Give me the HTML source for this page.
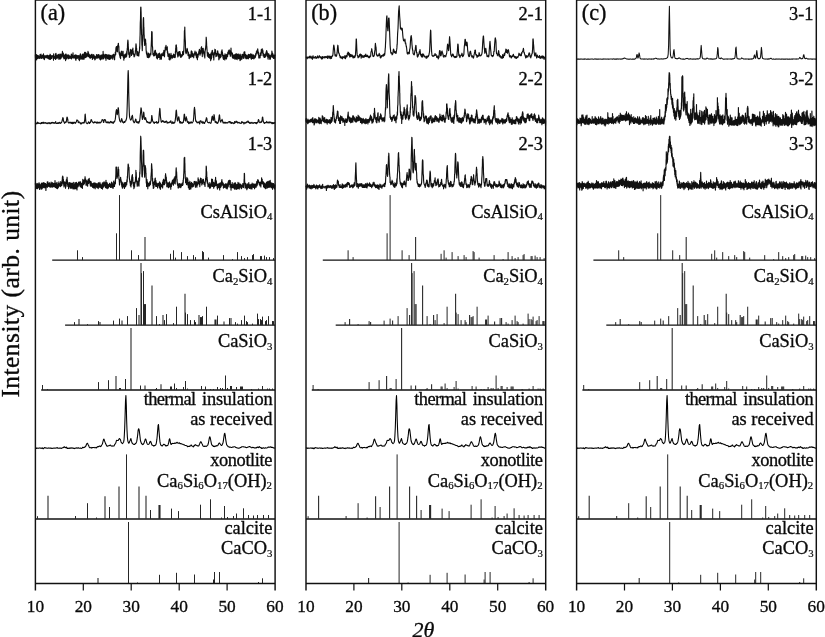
<!DOCTYPE html>
<html lang="en">
<head>
<meta charset="utf-8">
<title>XRD patterns</title>
<style>html,body{margin:0;padding:0;background:#fff;overflow:hidden}svg{display:block}text{stroke:#0a0a0a;stroke-width:.32px}</style>
</head>
<body>
<svg width="825" height="637" viewBox="0 0 825 637" font-family="'Liberation Serif', 'Times New Roman', serif" fill="#0a0a0a">
<rect width="825" height="637" fill="#fff"/>
<g transform="translate(35.4,0)">
<polyline points="0.0,54.7 0.1,57.7 0.2,57.6 0.4,58.3 0.5,55.7 0.6,60.0 0.7,54.5 0.8,57.9 1.0,56.5 1.1,57.2 1.2,54.9 1.3,59.7 1.4,57.3 1.6,57.4 1.7,55.4 1.8,58.4 1.9,57.1 2.0,58.1 2.2,56.8 2.3,56.1 2.4,58.4 2.5,55.3 2.6,55.7 2.8,56.2 2.9,55.7 3.0,57.8 3.1,57.1 3.2,58.2 3.4,57.3 3.5,56.2 3.6,57.8 3.7,57.4 3.8,57.8 4.0,58.0 4.1,57.8 4.2,56.9 4.3,58.4 4.4,56.6 4.6,54.6 4.7,55.9 4.8,57.2 4.9,58.1 5.0,57.9 5.2,54.6 5.3,56.8 5.4,57.8 5.5,56.6 5.6,54.0 5.8,56.7 5.9,56.1 6.0,56.5 6.1,57.4 6.2,58.4 6.3,57.4 6.5,57.2 6.6,56.1 6.7,55.8 6.8,55.6 6.9,56.5 7.1,55.7 7.2,57.9 7.3,55.2 7.4,56.2 7.5,57.3 7.7,56.2 7.8,57.0 7.9,55.4 8.0,54.8 8.1,53.9 8.3,58.8 8.4,58.8 8.5,57.6 8.6,56.7 8.7,55.7 8.9,56.5 9.0,59.6 9.1,57.3 9.2,55.8 9.3,56.6 9.5,55.9 9.6,57.2 9.7,57.2 9.8,56.6 9.9,56.3 10.1,56.6 10.2,56.7 10.3,57.8 10.4,56.4 10.5,56.7 10.7,55.4 10.8,55.3 10.9,56.6 11.0,57.4 11.1,57.8 11.3,56.3 11.4,56.8 11.5,57.4 11.6,56.8 11.7,57.7 11.9,55.9 12.0,57.5 12.1,55.2 12.2,56.3 12.3,56.1 12.5,58.4 12.6,56.7 12.7,55.9 12.8,58.2 12.9,57.3 13.1,56.8 13.2,58.8 13.3,56.5 13.4,55.7 13.5,58.1 13.7,56.4 13.8,58.7 13.9,56.9 14.0,59.1 14.1,55.4 14.3,56.3 14.4,56.9 14.5,57.9 14.6,55.2 14.7,54.2 14.9,59.4 15.0,55.2 15.1,54.7 15.2,56.4 15.3,58.5 15.5,55.7 15.6,57.1 15.7,57.7 15.8,58.6 15.9,56.1 16.1,55.8 16.2,57.7 16.3,56.2 16.4,58.4 16.5,55.8 16.7,56.8 16.8,57.1 16.9,57.0 17.0,55.7 17.1,55.9 17.3,56.2 17.4,56.7 17.5,56.8 17.6,56.0 17.7,56.6 17.9,56.0 18.0,57.3 18.1,60.2 18.2,55.5 18.3,53.9 18.4,56.3 18.6,57.0 18.7,57.1 18.8,57.0 18.9,56.9 19.0,58.4 19.2,57.6 19.3,58.2 19.4,56.5 19.5,57.3 19.6,56.2 19.8,57.1 19.9,55.5 20.0,56.6 20.1,53.9 20.2,59.5 20.4,57.8 20.5,55.7 20.6,53.4 20.7,57.2 20.8,56.8 21.0,57.2 21.1,55.1 21.2,57.3 21.3,56.0 21.4,57.3 21.6,58.6 21.7,56.4 21.8,56.2 21.9,55.1 22.0,57.0 22.2,57.7 22.3,56.1 22.4,56.5 22.5,56.5 22.6,57.0 22.8,55.3 22.9,56.4 23.0,54.3 23.1,55.3 23.2,56.0 23.4,59.1 23.5,56.0 23.6,56.3 23.7,55.7 23.8,55.4 24.0,57.4 24.1,55.7 24.2,57.6 24.3,54.2 24.4,58.6 24.6,59.2 24.7,59.1 24.8,58.0 24.9,58.3 25.0,54.1 25.2,57.2 25.3,58.6 25.4,55.2 25.5,57.5 25.6,58.4 25.8,55.5 25.9,55.8 26.0,57.2 26.1,54.5 26.2,56.2 26.4,54.0 26.5,55.3 26.6,53.6 26.7,55.4 26.8,57.0 27.0,51.4 27.1,55.4 27.2,54.7 27.3,55.4 27.4,54.8 27.6,54.3 27.7,54.6 27.8,54.3 27.9,53.0 28.0,56.0 28.2,57.8 28.3,57.9 28.4,57.3 28.5,58.8 28.6,55.4 28.8,57.3 28.9,57.1 29.0,56.7 29.1,58.7 29.2,57.9 29.4,55.8 29.5,55.9 29.6,57.4 29.7,54.3 29.8,58.6 30.0,57.3 30.1,57.1 30.2,60.6 30.3,54.2 30.4,56.3 30.5,58.3 30.7,54.0 30.8,56.0 30.9,56.3 31.0,57.7 31.1,56.7 31.3,58.9 31.4,55.8 31.5,57.4 31.6,56.7 31.7,55.2 31.9,56.5 32.0,56.5 32.1,56.5 32.2,57.9 32.3,55.7 32.5,54.8 32.6,55.8 32.7,55.7 32.8,58.1 32.9,58.0 33.1,58.8 33.2,55.2 33.3,57.2 33.4,55.0 33.5,57.9 33.7,57.5 33.8,56.7 33.9,55.6 34.0,56.8 34.1,56.6 34.3,56.9 34.4,56.6 34.5,58.4 34.6,56.8 34.7,57.1 34.9,57.0 35.0,56.2 35.1,57.8 35.2,57.0 35.3,57.3 35.5,56.3 35.6,55.8 35.7,58.2 35.8,56.1 35.9,54.1 36.1,58.9 36.2,58.0 36.3,58.1 36.4,57.3 36.5,54.7 36.7,56.9 36.8,57.8 36.9,56.0 37.0,57.7 37.1,55.3 37.3,56.5 37.4,55.0 37.5,57.8 37.6,52.8 37.7,55.8 37.9,56.0 38.0,56.9 38.1,57.9 38.2,58.1 38.3,57.1 38.5,58.0 38.6,56.5 38.7,58.0 38.8,56.0 38.9,55.6 39.1,57.8 39.2,55.3 39.3,57.2 39.4,55.3 39.5,56.3 39.7,55.3 39.8,58.2 39.9,57.0 40.0,54.9 40.1,57.7 40.3,59.6 40.4,59.5 40.5,60.3 40.6,59.7 40.7,57.4 40.9,55.1 41.0,57.5 41.1,56.4 41.2,57.0 41.3,56.9 41.5,57.1 41.6,57.1 41.7,56.2 41.8,58.5 41.9,55.5 42.0,55.6 42.2,57.1 42.3,55.8 42.4,57.8 42.5,57.6 42.6,56.7 42.8,57.1 42.9,57.5 43.0,57.8 43.1,57.6 43.2,55.6 43.4,59.5 43.5,56.4 43.6,57.2 43.7,55.9 43.8,56.2 44.0,60.6 44.1,56.1 44.2,56.4 44.3,56.8 44.4,57.5 44.6,55.7 44.7,57.4 44.8,54.3 44.9,56.1 45.0,53.9 45.2,57.9 45.3,59.2 45.4,55.9 45.5,55.7 45.6,56.8 45.8,58.9 45.9,57.4 46.0,56.0 46.1,57.1 46.2,57.0 46.4,57.1 46.5,58.1 46.6,57.5 46.7,58.8 46.8,54.4 47.0,57.4 47.1,56.1 47.2,58.2 47.3,55.7 47.4,59.3 47.6,55.5 47.7,56.8 47.8,53.8 47.9,58.5 48.0,56.6 48.2,56.1 48.3,54.9 48.4,57.1 48.5,56.3 48.6,59.3 48.8,57.4 48.9,55.4 49.0,54.3 49.1,55.9 49.2,52.3 49.4,52.3 49.5,54.6 49.6,57.6 49.7,56.5 49.8,54.9 50.0,52.3 50.1,53.7 50.2,57.4 50.3,55.1 50.4,52.8 50.6,56.0 50.7,56.8 50.8,53.0 50.9,56.0 51.0,56.9 51.2,55.8 51.3,56.3 51.4,56.9 51.5,54.5 51.6,54.5 51.8,54.7 51.9,55.9 52.0,53.8 52.1,55.2 52.2,54.1 52.4,52.9 52.5,52.9 52.6,51.3 52.7,53.2 52.8,56.3 53.0,55.8 53.1,52.5 53.2,55.3 53.3,54.6 53.4,56.7 53.6,54.4 53.7,56.6 53.8,54.2 53.9,57.1 54.0,54.9 54.1,55.6 54.3,57.6 54.4,55.1 54.5,57.9 54.6,57.8 54.7,55.7 54.9,57.6 55.0,57.6 55.1,57.2 55.2,58.1 55.3,55.3 55.5,55.9 55.6,56.9 55.7,56.9 55.8,56.2 55.9,54.4 56.1,55.6 56.2,57.5 56.3,55.7 56.4,57.0 56.5,57.1 56.7,54.3 56.8,57.4 56.9,57.5 57.0,59.5 57.1,58.7 57.3,56.2 57.4,57.8 57.5,56.1 57.6,58.4 57.7,57.9 57.9,55.9 58.0,54.8 58.1,56.0 58.2,55.2 58.3,54.5 58.5,55.4 58.6,58.1 58.7,57.0 58.8,56.0 58.9,57.4 59.1,56.2 59.2,59.0 59.3,58.0 59.4,56.1 59.5,59.9 59.7,58.4 59.8,56.9 59.9,59.2 60.0,56.8 60.1,57.9 60.3,57.2 60.4,57.2 60.5,56.6 60.6,57.6 60.7,56.7 60.9,57.7 61.0,56.1 61.1,54.5 61.2,56.6 61.3,56.6 61.5,58.4 61.6,55.9 61.7,57.9 61.8,58.0 61.9,56.1 62.1,56.6 62.2,55.3 62.3,54.9 62.4,57.6 62.5,56.7 62.7,54.5 62.8,55.5 62.9,55.9 63.0,55.1 63.1,57.7 63.3,56.0 63.4,54.9 63.5,54.6 63.6,57.9 63.7,57.2 63.9,56.3 64.0,57.2 64.1,57.4 64.2,55.9 64.3,57.3 64.5,59.3 64.6,56.4 64.7,57.4 64.8,57.8 64.9,59.0 65.1,55.5 65.2,59.9 65.3,59.2 65.4,57.2 65.5,55.2 65.7,55.1 65.8,58.4 65.9,57.1 66.0,58.9 66.1,55.5 66.2,58.9 66.4,57.0 66.5,55.4 66.6,57.1 66.7,54.8 66.8,58.0 67.0,56.3 67.1,55.7 67.2,57.0 67.3,54.9 67.4,56.1 67.6,59.1 67.7,51.4 67.8,56.0 67.9,56.7 68.0,58.7 68.2,56.7 68.3,57.5 68.4,56.0 68.5,56.3 68.6,54.3 68.8,56.6 68.9,56.1 69.0,56.3 69.1,57.0 69.2,57.1 69.4,55.3 69.5,55.8 69.6,57.7 69.7,58.3 69.8,56.9 70.0,55.2 70.1,56.9 70.2,54.4 70.3,57.9 70.4,56.6 70.6,60.3 70.7,57.6 70.8,57.2 70.9,56.1 71.0,54.5 71.2,56.8 71.3,54.8 71.4,55.9 71.5,55.5 71.6,57.4 71.8,54.9 71.9,58.3 72.0,56.1 72.1,58.1 72.2,57.5 72.4,58.8 72.5,57.5 72.6,56.3 72.7,56.9 72.8,58.6 73.0,54.8 73.1,56.3 73.2,55.4 73.3,55.7 73.4,57.7 73.6,59.4 73.7,58.0 73.8,55.1 73.9,58.2 74.0,55.6 74.2,57.6 74.3,56.2 74.4,59.3 74.5,55.1 74.6,56.8 74.8,55.5 74.9,56.5 75.0,55.6 75.1,56.9 75.2,55.7 75.4,58.8 75.5,58.2 75.6,55.7 75.7,56.8 75.8,57.0 76.0,56.9 76.1,56.0 76.2,57.5 76.3,56.0 76.4,57.9 76.6,57.2 76.7,55.3 76.8,55.1 76.9,58.1 77.0,55.4 77.2,58.0 77.3,55.6 77.4,59.2 77.5,58.1 77.6,57.2 77.8,56.7 77.9,54.5 78.0,55.2 78.1,54.2 78.2,54.7 78.3,56.7 78.5,56.7 78.6,54.8 78.7,56.2 78.8,56.4 78.9,57.9 79.1,56.1 79.2,59.8 79.3,56.4 79.4,56.9 79.5,54.3 79.7,55.6 79.8,55.0 79.9,52.0 80.0,54.8 80.1,52.1 80.3,54.5 80.4,50.6 80.5,49.1 80.6,47.5 80.7,49.3 80.9,46.9 81.0,46.6 81.1,47.2 81.2,47.4 81.3,47.5 81.5,48.3 81.6,51.0 81.7,51.7 81.8,46.4 81.9,47.2 82.1,51.8 82.2,48.3 82.3,47.1 82.4,45.6 82.5,45.2 82.7,45.7 82.8,43.6 82.9,43.8 83.0,43.3 83.1,45.0 83.3,46.2 83.4,46.1 83.5,47.4 83.6,52.4 83.7,52.6 83.9,54.1 84.0,51.9 84.1,54.4 84.2,52.7 84.3,55.7 84.5,55.2 84.6,57.3 84.7,53.6 84.8,56.0 84.9,57.6 85.1,56.3 85.2,58.6 85.3,55.2 85.4,54.7 85.5,54.1 85.7,51.9 85.8,54.1 85.9,52.0 86.0,52.3 86.1,52.8 86.3,55.5 86.4,51.1 86.5,53.6 86.6,53.3 86.7,55.6 86.9,53.9 87.0,54.6 87.1,55.1 87.2,55.6 87.3,54.2 87.5,54.5 87.6,55.0 87.7,51.4 87.8,57.0 87.9,56.7 88.1,57.7 88.2,55.7 88.3,57.2 88.4,60.1 88.5,58.0 88.7,56.2 88.8,54.9 88.9,58.5 89.0,57.2 89.1,56.5 89.3,57.3 89.4,55.5 89.5,56.2 89.6,55.8 89.7,57.2 89.9,54.0 90.0,56.1 90.1,54.3 90.2,56.7 90.3,55.2 90.4,56.9 90.6,57.2 90.7,56.7 90.8,55.6 90.9,55.7 91.0,52.9 91.2,56.4 91.3,55.8 91.4,51.0 91.5,51.7 91.6,54.2 91.8,49.3 91.9,48.0 92.0,49.9 92.1,45.3 92.2,43.2 92.4,40.8 92.5,40.0 92.6,41.8 92.7,41.5 92.8,44.9 93.0,47.8 93.1,49.7 93.2,49.1 93.3,54.2 93.4,51.4 93.6,54.8 93.7,54.4 93.8,53.6 93.9,52.8 94.0,57.5 94.2,55.9 94.3,54.6 94.4,55.3 94.5,52.9 94.6,56.7 94.8,52.7 94.9,52.0 95.0,52.0 95.1,49.9 95.2,53.0 95.4,49.4 95.5,52.2 95.6,50.4 95.7,52.5 95.8,51.3 96.0,51.9 96.1,55.5 96.2,53.8 96.3,53.8 96.4,54.0 96.6,54.5 96.7,50.3 96.8,52.2 96.9,49.7 97.0,52.4 97.2,52.8 97.3,50.9 97.4,52.1 97.5,48.1 97.6,51.8 97.8,51.1 97.9,53.7 98.0,54.4 98.1,54.4 98.2,54.3 98.4,53.8 98.5,55.4 98.6,56.4 98.7,57.0 98.8,55.6 99.0,54.7 99.1,54.8 99.2,55.4 99.3,56.2 99.4,54.9 99.6,54.0 99.7,54.4 99.8,53.6 99.9,53.1 100.0,50.4 100.2,51.1 100.3,48.7 100.4,47.0 100.5,45.4 100.6,43.8 100.8,45.4 100.9,46.6 101.0,51.1 101.1,49.4 101.2,48.2 101.4,53.9 101.5,55.0 101.6,54.4 101.7,53.0 101.8,54.0 101.9,55.6 102.1,55.0 102.2,53.5 102.3,54.0 102.4,51.5 102.5,53.5 102.7,54.4 102.8,53.9 102.9,55.2 103.0,55.9 103.1,54.1 103.3,53.5 103.4,56.0 103.5,54.4 103.6,53.8 103.7,52.4 103.9,52.6 104.0,50.6 104.1,49.9 104.2,46.8 104.3,48.8 104.5,40.7 104.6,37.3 104.7,34.9 104.8,28.7 104.9,22.9 105.1,19.3 105.2,12.5 105.3,7.6 105.4,7.0 105.5,7.0 105.7,12.3 105.8,17.4 105.9,24.4 106.0,29.3 106.1,34.5 106.3,35.2 106.4,40.9 106.5,45.2 106.6,44.6 106.7,46.2 106.9,50.6 107.0,44.3 107.1,45.9 107.2,40.3 107.3,39.7 107.5,36.8 107.6,29.5 107.7,28.6 107.8,23.1 107.9,19.2 108.1,17.6 108.2,18.4 108.3,22.4 108.4,27.5 108.5,27.2 108.7,35.3 108.8,34.9 108.9,41.2 109.0,40.6 109.1,41.8 109.3,45.4 109.4,42.9 109.5,41.4 109.6,40.3 109.7,40.6 109.9,39.0 110.0,40.0 110.1,41.9 110.2,39.8 110.3,44.0 110.5,43.0 110.6,46.1 110.7,50.1 110.8,50.5 110.9,51.9 111.1,53.8 111.2,52.5 111.3,54.5 111.4,51.9 111.5,53.3 111.7,56.1 111.8,55.0 111.9,55.4 112.0,57.5 112.1,54.0 112.3,54.1 112.4,54.2 112.5,56.2 112.6,54.1 112.7,55.9 112.9,54.3 113.0,53.1 113.1,55.5 113.2,57.7 113.3,56.2 113.5,54.8 113.6,54.0 113.7,57.3 113.8,56.0 113.9,55.4 114.0,55.0 114.2,54.3 114.3,56.9 114.4,56.1 114.5,54.0 114.6,54.7 114.8,54.5 114.9,53.3 115.0,54.6 115.1,53.6 115.2,54.3 115.4,55.0 115.5,53.8 115.6,50.1 115.7,48.3 115.8,46.1 116.0,41.2 116.1,39.3 116.2,34.1 116.3,31.5 116.4,31.8 116.6,35.3 116.7,31.9 116.8,37.4 116.9,45.9 117.0,45.8 117.2,47.4 117.3,50.5 117.4,51.0 117.5,54.4 117.6,53.5 117.8,54.4 117.9,54.9 118.0,55.2 118.1,54.7 118.2,53.7 118.4,55.9 118.5,55.6 118.6,54.7 118.7,54.9 118.8,53.9 119.0,53.0 119.1,51.7 119.2,53.1 119.3,55.6 119.4,51.7 119.6,50.4 119.7,50.8 119.8,50.6 119.9,54.2 120.0,50.3 120.2,52.2 120.3,54.7 120.4,54.5 120.5,55.1 120.6,53.5 120.8,54.1 120.9,53.1 121.0,54.6 121.1,57.7 121.2,57.9 121.4,54.5 121.5,53.9 121.6,56.5 121.7,55.5 121.8,58.4 122.0,59.0 122.1,58.0 122.2,56.9 122.3,57.1 122.4,56.7 122.6,57.1 122.7,55.5 122.8,54.5 122.9,56.4 123.0,53.7 123.2,57.4 123.3,57.2 123.4,56.0 123.5,57.0 123.6,54.9 123.8,57.4 123.9,54.7 124.0,56.2 124.1,53.0 124.2,57.2 124.4,56.8 124.5,56.3 124.6,59.5 124.7,55.7 124.8,55.8 125.0,56.3 125.1,58.6 125.2,58.6 125.3,55.7 125.4,54.8 125.6,54.2 125.7,57.7 125.8,57.8 125.9,56.8 126.0,59.1 126.1,57.1 126.3,55.1 126.4,53.9 126.5,55.7 126.6,53.7 126.7,55.3 126.9,55.4 127.0,55.7 127.1,54.8 127.2,55.1 127.3,54.4 127.5,54.7 127.6,52.8 127.7,52.7 127.8,54.6 127.9,52.6 128.1,53.6 128.2,55.6 128.3,52.2 128.4,51.1 128.5,50.3 128.7,51.7 128.8,55.4 128.9,52.5 129.0,52.5 129.1,56.8 129.3,52.3 129.4,52.1 129.5,52.0 129.6,51.1 129.7,50.5 129.9,47.2 130.0,49.3 130.1,48.2 130.2,47.3 130.3,46.6 130.5,49.8 130.6,45.3 130.7,47.6 130.8,47.6 130.9,48.7 131.1,49.6 131.2,50.0 131.3,49.4 131.4,49.2 131.5,47.5 131.7,48.7 131.8,49.6 131.9,46.8 132.0,52.4 132.1,53.2 132.3,51.6 132.4,53.2 132.5,56.2 132.6,54.7 132.7,55.7 132.9,53.5 133.0,56.3 133.1,54.2 133.2,55.2 133.3,56.3 133.5,56.0 133.6,55.5 133.7,59.4 133.8,55.8 133.9,56.8 134.1,53.8 134.2,57.3 134.3,54.8 134.4,59.9 134.5,55.3 134.7,56.1 134.8,56.8 134.9,56.7 135.0,56.9 135.1,55.9 135.3,56.7 135.4,59.0 135.5,56.8 135.6,53.4 135.7,56.5 135.9,56.1 136.0,57.2 136.1,56.3 136.2,56.3 136.3,56.9 136.5,55.4 136.6,57.8 136.7,56.7 136.8,55.9 136.9,56.9 137.1,58.2 137.2,55.8 137.3,57.9 137.4,57.1 137.5,57.7 137.7,56.7 137.8,57.1 137.9,57.1 138.0,55.5 138.1,54.0 138.2,56.9 138.4,55.7 138.5,56.9 138.6,56.2 138.7,54.7 138.8,56.2 139.0,57.4 139.1,57.2 139.2,56.9 139.3,56.0 139.4,54.6 139.6,57.6 139.7,56.8 139.8,56.3 139.9,56.9 140.0,51.6 140.2,52.5 140.3,48.2 140.4,51.4 140.5,45.4 140.6,46.6 140.8,44.8 140.9,45.2 141.0,45.6 141.1,47.6 141.2,47.0 141.4,51.2 141.5,51.3 141.6,52.3 141.7,52.4 141.8,54.1 142.0,54.3 142.1,54.4 142.2,55.4 142.3,54.9 142.4,56.9 142.6,56.5 142.7,52.6 142.8,55.2 142.9,55.9 143.0,52.6 143.2,54.4 143.3,54.6 143.4,55.3 143.5,51.7 143.6,54.1 143.8,53.2 143.9,51.6 144.0,52.6 144.1,53.4 144.2,54.1 144.4,52.6 144.5,51.5 144.6,55.9 144.7,54.6 144.8,52.9 145.0,54.3 145.1,56.9 145.2,56.6 145.3,56.9 145.4,57.4 145.6,57.0 145.7,55.8 145.8,57.0 145.9,54.9 146.0,55.9 146.2,56.7 146.3,54.8 146.4,55.6 146.5,55.6 146.6,54.5 146.8,55.1 146.9,56.0 147.0,54.5 147.1,55.3 147.2,51.5 147.4,53.9 147.5,53.7 147.6,53.3 147.7,54.8 147.8,52.6 148.0,54.0 148.1,54.6 148.2,53.2 148.3,50.3 148.4,51.7 148.6,46.7 148.7,45.4 148.8,39.9 148.9,38.7 149.0,31.0 149.2,30.0 149.3,31.8 149.4,27.0 149.5,32.0 149.6,35.8 149.8,39.7 149.9,40.6 150.0,42.3 150.1,48.1 150.2,50.9 150.3,52.6 150.5,49.8 150.6,50.3 150.7,53.7 150.8,52.5 150.9,53.2 151.1,53.0 151.2,51.0 151.3,51.1 151.4,50.6 151.5,50.8 151.7,48.4 151.8,49.6 151.9,49.0 152.0,49.0 152.1,51.7 152.3,51.1 152.4,52.0 152.5,52.3 152.6,54.9 152.7,55.6 152.9,52.1 153.0,53.3 153.1,54.0 153.2,52.9 153.3,55.1 153.5,56.0 153.6,55.2 153.7,58.6 153.8,57.6 153.9,55.0 154.1,56.1 154.2,57.9 154.3,55.2 154.4,54.7 154.5,55.2 154.7,56.1 154.8,57.2 154.9,55.8 155.0,55.2 155.1,56.2 155.3,54.6 155.4,54.7 155.5,54.3 155.6,57.3 155.7,52.3 155.9,50.9 156.0,53.5 156.1,54.8 156.2,51.6 156.3,53.3 156.5,54.4 156.6,51.6 156.7,55.9 156.8,53.3 156.9,56.6 157.1,53.1 157.2,54.7 157.3,56.0 157.4,55.6 157.5,55.2 157.7,54.9 157.8,54.9 157.9,55.3 158.0,56.8 158.1,55.1 158.3,57.8 158.4,54.4 158.5,54.5 158.6,53.5 158.7,56.0 158.9,54.5 159.0,53.1 159.1,53.4 159.2,54.0 159.3,52.5 159.5,52.6 159.6,51.1 159.7,53.6 159.8,52.5 159.9,53.0 160.1,52.8 160.2,54.5 160.3,54.6 160.4,55.3 160.5,55.4 160.7,55.7 160.8,56.4 160.9,52.1 161.0,57.3 161.1,57.8 161.3,57.3 161.4,57.2 161.5,56.2 161.6,54.2 161.7,53.9 161.8,55.9 162.0,59.7 162.1,55.6 162.2,58.0 162.3,56.8 162.4,57.6 162.6,55.2 162.7,56.5 162.8,54.3 162.9,54.4 163.0,55.0 163.2,54.1 163.3,52.3 163.4,53.6 163.5,51.0 163.6,51.8 163.8,51.0 163.9,50.0 164.0,49.3 164.1,50.8 164.2,51.9 164.4,51.4 164.5,55.1 164.6,50.7 164.7,55.1 164.8,51.8 165.0,53.6 165.1,51.5 165.2,51.7 165.3,50.2 165.4,51.0 165.6,52.2 165.7,47.7 165.8,49.0 165.9,49.3 166.0,50.0 166.2,46.7 166.3,51.4 166.4,50.9 166.5,53.8 166.6,50.3 166.8,53.6 166.9,56.6 167.0,48.6 167.1,53.8 167.2,49.7 167.4,50.0 167.5,49.6 167.6,50.5 167.7,49.7 167.8,48.4 168.0,51.1 168.1,51.0 168.2,50.7 168.3,52.6 168.4,54.0 168.6,51.8 168.7,53.9 168.8,54.8 168.9,56.0 169.0,56.4 169.2,53.7 169.3,53.6 169.4,57.9 169.5,55.4 169.6,52.6 169.8,49.9 169.9,49.4 170.0,50.1 170.1,48.1 170.2,49.3 170.4,45.5 170.5,46.7 170.6,43.8 170.7,40.9 170.8,37.2 171.0,39.6 171.1,41.3 171.2,43.6 171.3,47.3 171.4,46.2 171.6,49.5 171.7,50.2 171.8,53.3 171.9,52.8 172.0,56.1 172.2,53.7 172.3,53.0 172.4,53.9 172.5,52.5 172.6,55.2 172.8,55.1 172.9,55.2 173.0,57.2 173.1,53.0 173.2,54.7 173.4,56.5 173.5,57.5 173.6,55.4 173.7,55.1 173.8,56.1 173.9,56.0 174.1,56.6 174.2,56.3 174.3,54.5 174.4,54.4 174.5,58.4 174.7,56.1 174.8,58.0 174.9,58.2 175.0,55.5 175.1,57.4 175.3,60.6 175.4,55.3 175.5,54.3 175.6,53.1 175.7,56.3 175.9,53.5 176.0,58.9 176.1,56.3 176.2,53.7 176.3,53.2 176.5,51.5 176.6,51.6 176.7,52.8 176.8,50.3 176.9,51.7 177.1,50.5 177.2,54.6 177.3,53.4 177.4,54.9 177.5,53.6 177.7,55.4 177.8,55.7 177.9,57.4 178.0,55.3 178.1,54.2 178.3,54.4 178.4,60.0 178.5,57.9 178.6,52.6 178.7,55.4 178.9,55.0 179.0,52.6 179.1,53.5 179.2,54.1 179.3,52.9 179.5,49.2 179.6,53.7 179.7,49.6 179.8,52.1 179.9,52.4 180.1,49.8 180.2,54.1 180.3,52.5 180.4,54.7 180.5,56.6 180.7,55.1 180.8,53.4 180.9,55.4 181.0,54.3 181.1,54.6 181.3,54.5 181.4,54.8 181.5,53.5 181.6,56.1 181.7,53.2 181.9,54.7 182.0,51.3 182.1,51.0 182.2,52.9 182.3,50.9 182.5,52.1 182.6,52.8 182.7,54.4 182.8,53.7 182.9,53.4 183.1,56.2 183.2,56.7 183.3,54.1 183.4,59.2 183.5,59.8 183.7,58.7 183.8,56.0 183.9,56.1 184.0,55.6 184.1,56.2 184.3,54.2 184.4,54.1 184.5,54.7 184.6,57.9 184.7,55.8 184.9,57.4 185.0,56.8 185.1,57.5 185.2,55.8 185.3,54.9 185.5,55.2 185.6,56.7 185.7,56.7 185.8,55.1 185.9,54.5 186.0,51.6 186.2,52.7 186.3,52.1 186.4,51.9 186.5,50.2 186.6,49.8 186.8,52.2 186.9,53.8 187.0,52.0 187.1,53.9 187.2,55.6 187.4,54.0 187.5,55.4 187.6,57.9 187.7,55.2 187.8,55.8 188.0,58.9 188.1,59.4 188.2,56.2 188.3,55.5 188.4,55.6 188.6,58.4 188.7,57.0 188.8,55.6 188.9,58.7 189.0,56.4 189.2,56.3 189.3,55.3 189.4,59.9 189.5,56.4 189.6,53.8 189.8,57.4 189.9,57.0 190.0,55.2 190.1,57.6 190.2,54.9 190.4,55.8 190.5,58.7 190.6,56.3 190.7,58.5 190.8,55.1 191.0,58.7 191.1,58.9 191.2,57.9 191.3,57.4 191.4,54.4 191.6,56.2 191.7,55.6 191.8,54.4 191.9,56.8 192.0,56.4 192.2,56.5 192.3,53.9 192.4,52.3 192.5,53.8 192.6,54.6 192.8,53.9 192.9,54.1 193.0,50.8 193.1,52.8 193.2,51.0 193.4,51.9 193.5,52.7 193.6,53.5 193.7,51.1 193.8,49.8 194.0,51.0 194.1,51.5 194.2,53.3 194.3,53.7 194.4,54.5 194.6,53.1 194.7,50.8 194.8,54.3 194.9,56.3 195.0,52.5 195.2,55.7 195.3,53.3 195.4,54.5 195.5,53.4 195.6,48.1 195.8,53.8 195.9,53.4 196.0,51.9 196.1,52.6 196.2,53.5 196.4,54.4 196.5,53.0 196.6,52.8 196.7,56.2 196.8,56.9 197.0,53.0 197.1,57.8 197.2,55.0 197.3,55.6 197.4,57.8 197.6,55.3 197.7,58.0 197.8,58.0 197.9,58.4 198.0,55.4 198.1,57.2 198.3,55.1 198.4,57.7 198.5,55.8 198.6,54.7 198.7,56.8 198.9,58.2 199.0,57.1 199.1,55.0 199.2,55.7 199.3,57.2 199.5,59.1 199.6,55.7 199.7,54.5 199.8,54.5 199.9,56.1 200.1,57.0 200.2,57.8 200.3,57.5 200.4,59.0 200.5,53.8 200.7,56.8 200.8,53.5 200.9,56.9 201.0,59.0 201.1,54.2 201.3,58.0 201.4,57.4 201.5,54.5 201.6,54.8 201.7,59.6 201.9,56.8 202.0,58.3 202.1,56.1 202.2,54.3 202.3,57.5 202.5,54.7 202.6,58.1 202.7,53.8 202.8,57.9 202.9,57.4 203.1,56.4 203.2,58.7 203.3,54.7 203.4,58.3 203.5,56.0 203.7,58.6 203.8,56.6 203.9,56.8 204.0,57.3 204.1,56.1 204.3,58.3 204.4,54.7 204.5,56.5 204.6,60.6 204.7,54.0 204.9,56.2 205.0,54.7 205.1,57.0 205.2,59.9 205.3,57.4 205.5,58.5 205.6,56.8 205.7,57.4 205.8,56.5 205.9,59.2 206.1,56.7 206.2,57.4 206.3,55.9 206.4,59.1 206.5,57.3 206.7,54.4 206.8,58.3 206.9,55.7 207.0,54.8 207.1,56.7 207.3,55.3 207.4,55.2 207.5,54.4 207.6,57.0 207.7,56.5 207.9,55.1 208.0,57.1 208.1,55.7 208.2,56.5 208.3,58.5 208.5,54.4 208.6,52.0 208.7,54.7 208.8,53.8 208.9,54.5 209.1,55.0 209.2,54.0 209.3,52.9 209.4,51.7 209.5,54.0 209.7,56.9 209.8,57.8 209.9,54.2 210.0,55.8 210.1,57.2 210.2,57.9 210.4,57.7 210.5,54.9 210.6,56.7 210.7,58.6 210.8,55.5 211.0,56.3 211.1,57.1 211.2,55.9 211.3,57.9 211.4,55.4 211.6,58.7 211.7,58.0 211.8,58.6 211.9,57.3 212.0,57.8 212.2,57.3 212.3,56.8 212.4,56.0 212.5,56.6 212.6,56.4 212.8,54.6 212.9,57.1 213.0,58.8 213.1,55.5 213.2,54.3 213.4,56.5 213.5,55.6 213.6,57.7 213.7,56.5 213.8,55.9 214.0,56.3 214.1,57.5 214.2,54.6 214.3,56.6 214.4,55.5 214.6,56.2 214.7,55.6 214.8,55.5 214.9,57.1 215.0,55.6 215.2,53.8 215.3,54.0 215.4,55.7 215.5,54.5 215.6,58.6 215.8,54.8 215.9,56.7 216.0,59.2 216.1,56.5 216.2,55.4 216.4,57.7 216.5,54.1 216.6,54.9 216.7,58.5 216.8,55.4 217.0,56.6 217.1,57.5 217.2,57.2 217.3,57.3 217.4,58.4 217.6,57.3 217.7,55.7 217.8,54.7 217.9,54.7 218.0,57.5 218.2,56.8 218.3,57.8 218.4,55.2 218.5,58.9 218.6,58.5 218.8,57.5 218.9,56.2 219.0,57.0 219.1,56.5 219.2,56.4 219.4,56.1 219.5,57.9 219.6,56.9 219.7,55.5 219.8,55.9 220.0,54.6 220.1,57.1 220.2,54.7 220.3,53.7 220.4,55.7 220.6,54.9 220.7,54.6 220.8,53.8 220.9,53.6 221.0,51.5 221.2,52.4 221.3,51.3 221.4,51.5 221.5,53.1 221.6,50.4 221.7,51.1 221.9,51.6 222.0,52.1 222.1,51.2 222.2,52.4 222.3,48.9 222.5,50.1 222.6,53.4 222.7,52.5 222.8,52.3 222.9,54.7 223.1,52.1 223.2,53.7 223.3,55.4 223.4,58.0 223.5,57.0 223.7,55.3 223.8,56.4 223.9,55.9 224.0,57.0 224.1,55.5 224.3,56.4 224.4,57.9 224.5,56.1 224.6,56.3 224.7,57.6 224.9,53.2 225.0,55.1 225.1,55.2 225.2,53.3 225.3,54.2 225.5,52.5 225.6,55.4 225.7,54.3 225.8,51.4 225.9,49.5 226.1,51.2 226.2,50.4 226.3,51.6 226.4,50.1 226.5,50.9 226.7,50.0 226.8,48.7 226.9,53.0 227.0,50.0 227.1,52.0 227.3,52.2 227.4,50.1 227.5,51.8 227.6,51.4 227.7,55.8 227.9,54.3 228.0,54.8 228.1,55.3 228.2,54.2 228.3,53.8 228.5,56.9 228.6,56.9 228.7,57.4 228.8,54.2 228.9,56.6 229.1,56.1 229.2,56.5 229.3,57.5 229.4,55.6 229.5,55.6 229.7,54.9 229.8,56.5 229.9,56.6 230.0,56.9 230.1,53.9 230.3,54.5 230.4,55.8 230.5,54.6 230.6,56.1 230.7,51.9 230.9,55.3 231.0,54.5 231.1,54.0 231.2,50.6 231.3,52.6 231.5,51.1 231.6,53.0 231.7,54.9 231.8,52.4 231.9,54.9 232.1,56.4 232.2,55.6 232.3,54.4 232.4,53.2 232.5,57.8 232.7,59.2 232.8,54.9 232.9,55.9 233.0,57.2 233.1,55.9 233.3,55.5 233.4,53.9 233.5,56.7 233.6,54.8 233.7,57.2 233.8,57.3 234.0,56.0 234.1,58.1 234.2,58.4 234.3,55.2 234.4,59.3 234.6,56.4 234.7,56.9 234.8,57.0 234.9,58.2 235.0,59.1 235.2,57.1 235.3,57.6 235.4,56.3 235.5,55.3 235.6,56.2 235.8,56.3 235.9,54.0 236.0,55.2 236.1,55.3 236.2,54.2 236.4,53.5 236.5,51.1 236.6,52.1 236.7,56.6 236.8,57.1 237.0,55.4 237.1,55.0 237.2,56.2 237.3,53.2 237.4,54.7 237.6,54.2 237.7,57.1 237.8,57.8 237.9,58.1 238.0,56.8 238.2,58.4 238.3,57.6 238.4,57.3 238.5,55.4 238.6,57.4 238.8,58.7 238.9,57.4 239.0,56.5 239.1,56.0 239.2,58.0 239.4,55.9 239.5,54.9 239.6,56.1" fill="none" stroke="#111" stroke-width="1.15" stroke-linejoin="round"/>
<polyline points="0.0,123.1 0.2,123.7 0.4,123.1 0.6,123.6 0.8,123.3 1.0,123.6 1.2,123.4 1.3,123.5 1.5,123.8 1.7,123.4 1.9,122.5 2.1,122.2 2.3,122.7 2.5,123.1 2.7,123.3 2.9,123.0 3.1,122.8 3.3,122.9 3.5,122.9 3.6,123.4 3.8,123.3 4.0,123.2 4.2,123.2 4.4,123.3 4.6,123.4 4.8,123.3 5.0,123.5 5.2,123.8 5.4,123.7 5.6,123.5 5.8,122.5 5.9,123.1 6.1,123.0 6.3,123.5 6.5,122.5 6.7,122.4 6.9,122.7 7.1,123.1 7.3,123.1 7.5,122.9 7.7,122.7 7.9,123.4 8.1,122.8 8.2,122.6 8.4,122.2 8.6,122.5 8.8,122.9 9.0,123.0 9.2,123.2 9.4,122.9 9.6,122.8 9.8,122.9 10.0,123.2 10.2,123.0 10.4,122.6 10.5,122.7 10.7,122.7 10.9,123.0 11.1,123.3 11.3,123.5 11.5,123.6 11.7,123.1 11.9,122.9 12.1,123.4 12.3,123.4 12.5,123.7 12.7,123.5 12.8,123.4 13.0,123.0 13.2,122.8 13.4,122.7 13.6,123.0 13.8,122.8 14.0,123.4 14.2,122.8 14.4,123.6 14.6,123.3 14.8,123.5 15.0,123.4 15.1,123.4 15.3,123.6 15.5,122.8 15.7,122.5 15.9,122.5 16.1,123.1 16.3,123.1 16.5,122.7 16.7,122.4 16.9,122.7 17.1,122.9 17.3,122.6 17.4,122.7 17.6,122.4 17.8,123.0 18.0,122.8 18.2,123.1 18.4,122.7 18.6,122.6 18.8,123.3 19.0,123.0 19.2,123.2 19.4,122.9 19.6,123.1 19.7,123.2 19.9,122.3 20.1,121.9 20.3,121.7 20.5,122.6 20.7,123.2 20.9,123.4 21.1,123.3 21.3,123.4 21.5,123.5 21.7,123.4 21.9,123.3 22.0,123.3 22.2,123.5 22.4,122.7 22.6,122.9 22.8,122.9 23.0,123.5 23.2,123.2 23.4,122.8 23.6,122.7 23.8,122.2 24.0,122.2 24.2,122.6 24.3,122.7 24.5,123.3 24.7,123.1 24.9,123.5 25.1,123.3 25.3,123.0 25.5,122.9 25.7,122.3 25.9,122.8 26.1,122.4 26.3,122.2 26.5,121.3 26.6,121.2 26.8,120.3 27.0,119.5 27.2,118.8 27.4,117.7 27.6,117.9 27.8,118.0 28.0,120.2 28.2,121.1 28.4,121.9 28.6,121.8 28.8,122.2 28.9,122.5 29.1,123.3 29.3,123.1 29.5,122.9 29.7,122.1 29.9,122.3 30.1,121.9 30.3,122.2 30.5,122.3 30.7,122.2 30.9,121.6 31.1,120.6 31.2,119.6 31.4,118.1 31.6,117.1 31.8,117.5 32.0,117.7 32.2,118.8 32.4,119.5 32.6,121.9 32.8,122.4 33.0,122.8 33.2,122.4 33.4,122.8 33.5,123.0 33.7,123.0 33.9,122.9 34.1,122.8 34.3,122.3 34.5,122.1 34.7,122.5 34.9,122.8 35.1,122.6 35.3,122.4 35.5,122.9 35.7,123.2 35.8,123.3 36.0,122.7 36.2,122.4 36.4,122.3 36.6,122.7 36.8,123.2 37.0,123.7 37.2,122.9 37.4,122.7 37.6,122.2 37.8,122.4 38.0,122.5 38.1,123.0 38.3,123.4 38.5,123.3 38.7,122.6 38.9,122.2 39.1,122.5 39.3,122.7 39.5,122.7 39.7,122.6 39.9,122.7 40.1,123.3 40.3,122.8 40.4,122.6 40.6,122.2 40.8,122.1 41.0,121.6 41.2,120.9 41.4,120.2 41.6,119.9 41.8,120.0 42.0,120.4 42.2,120.3 42.4,120.5 42.6,121.0 42.7,122.0 42.9,122.7 43.1,122.4 43.3,122.4 43.5,121.9 43.7,122.0 43.9,122.1 44.1,122.2 44.3,122.4 44.5,122.7 44.7,123.2 44.9,123.4 45.0,123.9 45.2,123.1 45.4,123.5 45.6,122.8 45.8,123.7 46.0,123.8 46.2,123.8 46.4,123.5 46.6,123.0 46.8,122.8 47.0,122.9 47.2,122.7 47.3,122.7 47.5,122.6 47.7,122.8 47.9,122.8 48.1,122.6 48.3,122.4 48.5,123.1 48.7,123.0 48.9,122.7 49.1,121.4 49.3,120.2 49.5,117.7 49.6,115.4 49.8,114.1 50.0,116.1 50.2,118.7 50.4,121.0 50.6,122.2 50.8,122.5 51.0,122.9 51.2,122.8 51.4,123.3 51.6,123.6 51.8,123.7 51.9,123.7 52.1,123.4 52.3,123.4 52.5,123.2 52.7,122.8 52.9,122.2 53.1,121.9 53.3,122.3 53.5,122.2 53.7,122.8 53.9,123.2 54.1,123.5 54.2,123.1 54.4,122.4 54.6,122.3 54.8,122.6 55.0,122.6 55.2,121.9 55.4,120.7 55.6,120.1 55.8,119.5 56.0,119.9 56.2,119.9 56.4,120.6 56.5,121.0 56.7,121.4 56.9,121.9 57.1,122.1 57.3,122.0 57.5,122.0 57.7,122.3 57.9,122.9 58.1,123.0 58.3,122.8 58.5,122.8 58.7,122.7 58.8,122.4 59.0,122.2 59.2,121.8 59.4,122.3 59.6,122.3 59.8,122.2 60.0,122.0 60.2,122.0 60.4,122.5 60.6,122.7 60.8,122.6 61.0,123.1 61.1,123.1 61.3,122.4 61.5,122.0 61.7,122.4 61.9,123.1 62.1,123.0 62.3,122.1 62.5,122.3 62.7,122.6 62.9,122.6 63.1,122.4 63.3,122.8 63.4,122.9 63.6,123.2 63.8,122.4 64.0,122.7 64.2,122.4 64.4,122.6 64.6,122.4 64.8,122.6 65.0,122.7 65.2,122.8 65.4,122.6 65.6,122.3 65.7,121.8 65.9,121.7 66.1,121.3 66.3,120.8 66.5,120.3 66.7,119.7 66.9,120.0 67.1,119.8 67.3,119.7 67.5,119.9 67.7,120.0 67.9,121.3 68.0,122.1 68.2,122.5 68.4,122.5 68.6,121.1 68.8,120.3 69.0,119.6 69.2,119.8 69.4,120.0 69.6,119.5 69.8,119.9 70.0,120.1 70.2,120.5 70.3,121.1 70.5,122.1 70.7,122.6 70.9,122.7 71.1,122.2 71.3,122.4 71.5,122.2 71.7,122.4 71.9,122.5 72.1,122.8 72.3,122.7 72.5,122.0 72.6,121.7 72.8,121.9 73.0,122.4 73.2,122.6 73.4,122.9 73.6,123.0 73.8,122.6 74.0,122.4 74.2,122.7 74.4,123.0 74.6,122.4 74.8,121.9 74.9,121.7 75.1,121.6 75.3,121.4 75.5,121.5 75.7,122.1 75.9,122.5 76.1,122.7 76.3,122.4 76.5,122.7 76.7,122.2 76.9,122.4 77.1,122.2 77.2,122.4 77.4,123.0 77.6,123.1 77.8,123.4 78.0,122.6 78.2,122.4 78.4,121.7 78.6,122.0 78.8,121.6 79.0,122.0 79.2,121.3 79.4,121.2 79.5,120.3 79.7,119.9 79.9,119.0 80.1,117.6 80.3,115.1 80.5,112.9 80.7,111.2 80.9,110.3 81.1,109.6 81.3,110.4 81.5,112.2 81.7,113.9 81.8,114.6 82.0,114.3 82.2,113.0 82.4,111.1 82.6,109.0 82.8,107.7 83.0,108.0 83.2,110.2 83.4,113.5 83.6,116.5 83.8,117.8 84.0,119.0 84.1,119.6 84.3,120.5 84.5,121.1 84.7,121.3 84.9,121.7 85.1,122.0 85.3,122.1 85.5,121.9 85.7,120.9 85.9,120.2 86.1,118.8 86.3,118.6 86.4,119.0 86.6,120.1 86.8,120.5 87.0,121.0 87.2,121.8 87.4,122.4 87.6,122.5 87.8,122.6 88.0,122.6 88.2,122.9 88.4,122.2 88.6,122.4 88.7,121.5 88.9,121.9 89.1,121.7 89.3,122.5 89.5,122.0 89.7,121.3 89.9,121.0 90.1,120.9 90.3,121.0 90.5,120.5 90.7,120.1 90.9,119.3 91.0,118.9 91.2,118.2 91.4,116.2 91.6,112.1 91.8,105.9 92.0,99.5 92.2,91.3 92.4,81.8 92.6,74.1 92.8,70.5 93.0,74.5 93.2,81.7 93.3,91.5 93.5,99.3 93.7,106.8 93.9,111.9 94.1,116.1 94.3,117.3 94.5,118.2 94.7,118.6 94.9,119.5 95.1,119.8 95.3,120.1 95.5,119.6 95.6,119.4 95.8,119.6 96.0,118.9 96.2,117.9 96.4,116.5 96.6,115.8 96.8,115.8 97.0,115.3 97.2,116.6 97.4,118.3 97.6,120.1 97.8,121.1 97.9,120.8 98.1,121.3 98.3,121.8 98.5,122.4 98.7,122.8 98.9,122.4 99.1,122.3 99.3,122.3 99.5,121.6 99.7,121.2 99.9,120.3 100.1,119.8 100.2,119.0 100.4,119.3 100.6,119.5 100.8,121.3 101.0,121.4 101.2,122.4 101.4,122.0 101.6,122.6 101.8,122.7 102.0,122.8 102.2,122.6 102.4,122.3 102.5,121.5 102.7,121.6 102.9,121.7 103.1,122.8 103.3,123.2 103.5,122.7 103.7,122.4 103.9,121.6 104.1,121.6 104.3,120.4 104.5,119.1 104.7,117.2 104.8,115.7 105.0,114.1 105.2,112.2 105.4,109.8 105.6,107.9 105.8,108.1 106.0,109.7 106.2,111.1 106.4,113.6 106.6,116.0 106.8,118.0 107.0,119.4 107.1,119.2 107.3,118.9 107.5,117.8 107.7,116.7 107.9,115.3 108.1,113.0 108.3,112.1 108.5,113.0 108.7,115.5 108.9,117.4 109.1,118.5 109.3,119.2 109.4,119.5 109.6,119.4 109.8,118.4 110.0,117.9 110.2,117.7 110.4,118.4 110.6,119.6 110.8,120.1 111.0,120.8 111.2,121.2 111.4,121.8 111.6,122.3 111.7,121.7 111.9,121.9 112.1,121.7 112.3,122.3 112.5,122.5 112.7,122.6 112.9,122.9 113.1,122.6 113.3,122.5 113.5,122.2 113.7,122.1 113.9,122.3 114.0,122.6 114.2,123.0 114.4,123.1 114.6,123.4 114.8,123.0 115.0,122.7 115.2,122.1 115.4,122.4 115.6,122.2 115.8,121.9 116.0,120.1 116.2,117.8 116.3,115.6 116.5,115.6 116.7,117.4 116.9,119.2 117.1,120.6 117.3,121.0 117.5,121.4 117.7,121.8 117.9,122.2 118.1,122.4 118.3,122.2 118.5,122.3 118.6,123.1 118.8,123.5 119.0,123.2 119.2,122.6 119.4,122.2 119.6,122.5 119.8,122.5 120.0,122.5 120.2,122.3 120.4,122.2 120.6,122.1 120.8,121.9 121.0,121.6 121.1,122.3 121.3,122.8 121.5,123.2 121.7,122.9 121.9,123.1 122.1,122.6 122.3,122.7 122.5,122.1 122.7,123.0 122.9,122.7 123.1,122.4 123.3,121.3 123.4,119.8 123.6,117.2 123.8,114.8 124.0,112.4 124.2,110.0 124.4,108.4 124.6,109.3 124.8,112.9 125.0,115.7 125.2,118.0 125.4,118.9 125.6,120.5 125.7,121.2 125.9,122.1 126.1,122.1 126.3,121.8 126.5,121.4 126.7,121.3 126.9,121.3 127.1,121.3 127.3,120.6 127.5,120.5 127.7,120.9 127.9,121.6 128.0,122.0 128.2,121.8 128.4,121.6 128.6,121.4 128.8,121.6 129.0,122.2 129.2,122.4 129.4,122.5 129.6,122.5 129.8,122.5 130.0,122.1 130.2,121.4 130.3,121.4 130.5,121.6 130.7,121.4 130.9,121.5 131.1,121.0 131.3,121.8 131.5,122.1 131.7,123.1 131.9,122.5 132.1,122.6 132.3,122.2 132.5,123.0 132.6,122.9 132.8,122.7 133.0,122.5 133.2,122.5 133.4,122.3 133.6,122.7 133.8,122.3 134.0,122.1 134.2,121.9 134.4,121.9 134.6,122.4 134.8,122.2 134.9,122.2 135.1,121.6 135.3,120.8 135.5,121.0 135.7,121.8 135.9,122.5 136.1,122.8 136.3,122.9 136.5,123.6 136.7,123.5 136.9,123.4 137.1,122.2 137.2,121.9 137.4,121.9 137.6,122.5 137.8,122.5 138.0,122.7 138.2,123.2 138.4,123.5 138.6,123.3 138.8,122.6 139.0,122.5 139.2,122.6 139.4,122.5 139.5,121.9 139.7,120.8 139.9,119.8 140.1,118.0 140.3,116.2 140.5,113.2 140.7,110.9 140.9,110.0 141.1,111.4 141.3,113.7 141.5,116.2 141.7,118.1 141.8,119.8 142.0,120.2 142.2,121.0 142.4,120.7 142.6,120.0 142.8,118.7 143.0,117.6 143.2,117.0 143.4,116.8 143.6,117.9 143.8,119.0 144.0,120.3 144.1,121.6 144.3,122.6 144.5,123.0 144.7,122.7 144.9,121.8 145.1,121.5 145.3,121.8 145.5,123.1 145.7,123.2 145.9,123.0 146.1,122.8 146.3,122.7 146.4,122.7 146.6,122.4 146.8,123.2 147.0,122.9 147.2,122.7 147.4,122.2 147.6,122.6 147.8,122.5 148.0,121.7 148.2,120.6 148.4,118.7 148.6,117.1 148.7,115.2 148.9,114.2 149.1,114.4 149.3,116.3 149.5,118.5 149.7,119.9 149.9,120.6 150.1,120.8 150.3,120.8 150.5,119.0 150.7,118.0 150.9,116.9 151.0,117.8 151.2,118.2 151.4,118.9 151.6,120.1 151.8,121.1 152.0,122.2 152.2,122.3 152.4,121.9 152.6,121.5 152.8,121.6 153.0,122.7 153.2,123.1 153.3,123.5 153.5,123.7 153.7,123.5 153.9,123.0 154.1,122.3 154.3,122.2 154.5,122.8 154.7,122.5 154.9,123.1 155.1,122.5 155.3,122.7 155.5,122.1 155.6,121.7 155.8,121.7 156.0,122.0 156.2,122.9 156.4,122.8 156.6,122.9 156.8,122.9 157.0,122.9 157.2,122.4 157.4,121.9 157.6,121.8 157.8,121.5 157.9,120.9 158.1,119.7 158.3,117.4 158.5,114.3 158.7,110.3 158.9,108.7 159.1,107.4 159.3,109.2 159.5,110.3 159.7,113.7 159.9,116.3 160.1,119.0 160.2,120.2 160.4,121.1 160.6,121.5 160.8,121.6 161.0,121.4 161.2,121.7 161.4,122.2 161.6,122.7 161.8,122.7 162.0,122.8 162.2,122.2 162.4,122.4 162.5,122.4 162.7,122.6 162.9,122.6 163.1,122.1 163.3,122.3 163.5,121.8 163.7,122.2 163.9,122.8 164.1,123.6 164.3,123.9 164.5,122.9 164.7,121.7 164.8,120.9 165.0,121.1 165.2,121.1 165.4,120.9 165.6,120.9 165.8,121.4 166.0,121.9 166.2,122.4 166.4,122.5 166.6,122.8 166.8,122.9 167.0,123.2 167.1,122.6 167.3,121.8 167.5,121.4 167.7,122.0 167.9,122.8 168.1,123.1 168.3,123.0 168.5,122.6 168.7,123.0 168.9,123.2 169.1,123.5 169.3,122.9 169.4,122.3 169.6,122.1 169.8,121.9 170.0,121.7 170.2,121.1 170.4,120.5 170.6,119.5 170.8,118.7 171.0,117.7 171.2,118.0 171.4,118.3 171.6,119.7 171.7,121.0 171.9,121.6 172.1,122.1 172.3,122.2 172.5,122.5 172.7,122.5 172.9,122.5 173.1,122.7 173.3,122.8 173.5,122.6 173.7,122.4 173.9,122.7 174.0,122.6 174.2,122.7 174.4,122.3 174.6,122.6 174.8,122.7 175.0,123.2 175.2,123.3 175.4,123.0 175.6,123.1 175.8,122.4 176.0,121.4 176.2,119.8 176.3,118.8 176.5,118.0 176.7,116.6 176.9,116.1 177.1,116.7 177.3,118.1 177.5,119.6 177.7,120.3 177.9,120.3 178.1,119.4 178.3,117.7 178.5,115.9 178.6,114.6 178.8,115.1 179.0,116.9 179.2,118.4 179.4,120.1 179.6,121.0 179.8,122.3 180.0,121.7 180.2,122.1 180.4,121.7 180.6,122.7 180.8,121.7 180.9,122.3 181.1,122.0 181.3,123.2 181.5,122.6 181.7,123.0 181.9,122.8 182.1,123.4 182.3,123.1 182.5,122.9 182.7,121.8 182.9,122.1 183.1,121.4 183.2,121.0 183.4,119.1 183.6,117.6 183.8,115.7 184.0,114.8 184.2,115.5 184.4,117.6 184.6,119.4 184.8,120.6 185.0,121.5 185.2,121.9 185.4,122.1 185.5,121.5 185.7,120.9 185.9,120.5 186.1,120.7 186.3,120.2 186.5,119.9 186.7,119.3 186.9,120.1 187.1,120.7 187.3,121.6 187.5,122.4 187.7,122.9 187.8,123.0 188.0,122.5 188.2,122.3 188.4,122.4 188.6,122.8 188.8,123.1 189.0,122.9 189.2,122.4 189.4,122.6 189.6,122.3 189.8,123.0 190.0,123.1 190.1,123.0 190.3,122.5 190.5,122.3 190.7,122.6 190.9,122.8 191.1,122.8 191.3,122.9 191.5,122.7 191.7,122.6 191.9,122.8 192.1,122.8 192.3,123.0 192.4,122.6 192.6,122.6 192.8,122.2 193.0,122.0 193.2,121.9 193.4,121.8 193.6,121.9 193.8,121.6 194.0,121.5 194.2,121.7 194.4,122.3 194.6,122.7 194.7,122.8 194.9,122.5 195.1,122.3 195.3,121.8 195.5,122.5 195.7,122.9 195.9,123.5 196.1,122.8 196.3,122.5 196.5,122.5 196.7,122.5 196.9,122.8 197.0,123.0 197.2,123.1 197.4,123.2 197.6,122.7 197.8,123.0 198.0,123.0 198.2,123.3 198.4,123.6 198.6,123.4 198.8,123.5 199.0,122.6 199.2,121.6 199.3,121.5 199.5,122.1 199.7,122.8 199.9,122.5 200.1,122.3 200.3,122.1 200.5,121.7 200.7,121.1 200.9,121.3 201.1,121.8 201.3,122.3 201.5,122.3 201.6,122.4 201.8,121.7 202.0,122.2 202.2,122.6 202.4,123.1 202.6,122.6 202.8,122.5 203.0,122.6 203.2,122.6 203.4,122.3 203.6,122.3 203.8,122.4 203.9,123.0 204.1,122.9 204.3,123.1 204.5,122.9 204.7,123.2 204.9,123.3 205.1,123.2 205.3,123.2 205.5,123.2 205.7,123.5 205.9,122.9 206.1,122.6 206.2,121.7 206.4,122.3 206.6,122.0 206.8,122.6 207.0,122.1 207.2,122.3 207.4,122.1 207.6,122.5 207.8,122.7 208.0,122.6 208.2,123.0 208.4,123.3 208.5,124.0 208.7,123.7 208.9,123.3 209.1,122.8 209.3,122.6 209.5,122.4 209.7,122.8 209.9,122.9 210.1,123.1 210.3,122.8 210.5,122.6 210.7,122.8 210.8,122.7 211.0,122.0 211.2,121.7 211.4,121.7 211.6,122.3 211.8,122.0 212.0,122.1 212.2,121.7 212.4,121.3 212.6,120.9 212.8,121.3 213.0,121.7 213.1,122.5 213.3,122.1 213.5,122.4 213.7,122.4 213.9,122.9 214.1,123.3 214.3,122.5 214.5,122.3 214.7,122.4 214.9,123.1 215.1,123.3 215.3,123.2 215.4,122.9 215.6,122.9 215.8,123.1 216.0,123.0 216.2,122.7 216.4,122.2 216.6,122.2 216.8,122.8 217.0,123.0 217.2,123.1 217.4,123.2 217.6,123.5 217.7,123.4 217.9,123.3 218.1,122.8 218.3,123.0 218.5,122.7 218.7,122.6 218.9,122.5 219.1,122.7 219.3,122.6 219.5,122.9 219.7,122.7 219.9,123.1 220.0,123.0 220.2,123.3 220.4,122.7 220.6,122.6 220.8,122.6 221.0,123.4 221.2,123.7 221.4,123.1 221.6,122.8 221.8,122.3 222.0,122.6 222.2,122.3 222.3,122.6 222.5,122.1 222.7,121.2 222.9,120.0 223.1,119.5 223.3,119.9 223.5,120.3 223.7,121.2 223.9,121.8 224.1,122.2 224.3,122.5 224.5,122.4 224.6,122.7 224.8,122.1 225.0,122.3 225.2,122.1 225.4,122.2 225.6,121.9 225.8,121.8 226.0,122.3 226.2,121.8 226.4,121.7 226.6,120.2 226.8,119.7 226.9,117.8 227.1,117.1 227.3,117.1 227.5,118.8 227.7,120.2 227.9,121.5 228.1,122.1 228.3,122.3 228.5,122.9 228.7,123.0 228.9,123.3 229.1,123.2 229.2,123.4 229.4,122.9 229.6,122.4 229.8,122.5 230.0,122.6 230.2,122.6 230.4,122.7 230.6,122.8 230.8,122.7 231.0,122.1 231.2,121.6 231.4,121.4 231.5,121.4 231.7,121.9 231.9,122.3 232.1,122.7 232.3,122.6 232.5,122.7 232.7,122.9 232.9,122.9 233.1,122.2 233.3,122.1 233.5,122.0 233.7,122.8 233.8,122.7 234.0,122.8 234.2,122.4 234.4,121.9 234.6,122.2 234.8,122.5 235.0,122.7 235.2,122.2 235.4,122.5 235.6,122.8 235.8,122.9 236.0,122.4 236.1,122.6 236.3,122.8 236.5,123.7 236.7,123.2 236.9,122.8 237.1,122.5 237.3,122.9 237.5,123.7 237.7,123.5 237.9,123.3 238.1,122.8 238.3,122.6 238.4,123.1 238.6,123.5 238.8,123.1 239.0,122.6 239.2,122.5 239.4,123.0 239.6,123.0" fill="none" stroke="#111" stroke-width="1.15" stroke-linejoin="round"/>
<polyline points="0.0,183.2 0.1,184.7 0.2,185.3 0.4,188.8 0.5,186.5 0.6,186.3 0.7,186.5 0.8,187.0 1.0,186.3 1.1,187.0 1.2,188.3 1.3,183.7 1.4,184.7 1.6,183.4 1.7,185.3 1.8,186.9 1.9,186.6 2.0,188.6 2.2,184.7 2.3,187.8 2.4,187.9 2.5,186.4 2.6,183.8 2.8,185.2 2.9,187.9 3.0,187.2 3.1,185.3 3.2,186.2 3.4,187.0 3.5,186.5 3.6,184.5 3.7,182.7 3.8,187.8 4.0,187.0 4.1,187.5 4.2,189.4 4.3,187.5 4.4,187.9 4.6,184.2 4.7,185.9 4.8,186.7 4.9,184.8 5.0,186.3 5.2,187.9 5.3,186.6 5.4,186.6 5.5,187.5 5.6,186.0 5.8,189.3 5.9,186.1 6.0,183.0 6.1,183.6 6.2,184.1 6.3,184.0 6.5,183.6 6.6,187.7 6.7,184.5 6.8,188.7 6.9,186.7 7.1,187.2 7.2,184.1 7.3,183.0 7.4,185.8 7.5,183.1 7.7,187.0 7.8,184.6 7.9,185.2 8.0,187.6 8.1,185.2 8.3,182.5 8.4,187.2 8.5,184.0 8.6,185.6 8.7,182.9 8.9,185.2 9.0,184.8 9.1,184.1 9.2,184.8 9.3,187.7 9.5,183.4 9.6,187.8 9.7,183.6 9.8,184.4 9.9,187.1 10.1,184.6 10.2,183.6 10.3,185.6 10.4,186.8 10.5,190.4 10.7,186.6 10.8,186.6 10.9,186.4 11.0,186.6 11.1,184.5 11.3,186.5 11.4,184.6 11.5,184.2 11.6,186.8 11.7,185.6 11.9,181.8 12.0,183.3 12.1,187.2 12.2,184.6 12.3,184.8 12.5,181.9 12.6,185.1 12.7,185.1 12.8,186.3 12.9,183.2 13.1,184.6 13.2,185.5 13.3,185.2 13.4,186.1 13.5,183.3 13.7,186.4 13.8,184.4 13.9,184.0 14.0,182.7 14.1,186.2 14.3,183.2 14.4,185.1 14.5,184.3 14.6,186.7 14.7,187.4 14.9,184.4 15.0,184.9 15.1,185.7 15.2,184.5 15.3,186.5 15.5,186.7 15.6,185.4 15.7,182.1 15.8,183.9 15.9,186.1 16.1,184.2 16.2,186.1 16.3,186.0 16.4,183.4 16.5,185.8 16.7,187.5 16.8,185.8 16.9,184.8 17.0,184.7 17.1,182.7 17.3,186.4 17.4,184.1 17.5,184.5 17.6,185.0 17.7,183.9 17.9,183.4 18.0,186.7 18.1,183.5 18.2,186.4 18.3,183.9 18.4,185.1 18.6,184.4 18.7,186.4 18.8,185.5 18.9,185.5 19.0,183.4 19.2,186.4 19.3,184.1 19.4,185.8 19.5,186.9 19.6,180.5 19.8,185.0 19.9,187.4 20.0,183.1 20.1,187.1 20.2,184.4 20.4,183.5 20.5,185.7 20.6,185.2 20.7,186.0 20.8,185.2 21.0,188.1 21.1,187.0 21.2,184.0 21.3,182.9 21.4,184.6 21.6,182.4 21.7,184.5 21.8,186.0 21.9,185.9 22.0,188.6 22.2,186.5 22.3,186.6 22.4,184.8 22.5,184.3 22.6,186.1 22.8,186.5 22.9,187.7 23.0,185.7 23.1,183.4 23.2,184.7 23.4,186.4 23.5,181.8 23.6,182.6 23.7,185.4 23.8,185.7 24.0,186.0 24.1,185.2 24.2,185.3 24.3,184.6 24.4,184.5 24.6,183.7 24.7,183.5 24.8,184.9 24.9,184.0 25.0,186.0 25.2,186.6 25.3,181.6 25.4,185.9 25.5,182.0 25.6,186.0 25.8,184.6 25.9,183.1 26.0,185.3 26.1,184.7 26.2,185.6 26.4,185.0 26.5,184.3 26.6,184.9 26.7,180.3 26.8,181.6 27.0,176.9 27.1,183.3 27.2,177.9 27.3,176.0 27.4,178.5 27.6,176.8 27.7,179.2 27.8,180.6 27.9,181.4 28.0,179.3 28.2,183.9 28.3,183.5 28.4,185.5 28.5,184.5 28.6,186.9 28.8,185.8 28.9,181.7 29.0,183.6 29.1,184.5 29.2,183.7 29.4,182.7 29.5,184.7 29.6,182.5 29.7,184.1 29.8,185.4 30.0,182.2 30.1,188.3 30.2,185.8 30.3,185.0 30.4,187.0 30.5,185.7 30.7,186.2 30.8,185.0 30.9,179.9 31.0,182.6 31.1,182.9 31.3,179.1 31.4,181.7 31.5,178.8 31.6,179.0 31.7,177.2 31.9,183.4 32.0,180.5 32.1,183.1 32.2,185.0 32.3,182.8 32.5,186.5 32.6,182.3 32.7,184.3 32.8,184.6 32.9,185.4 33.1,183.8 33.2,188.7 33.3,185.8 33.4,186.8 33.5,184.8 33.7,185.8 33.8,184.1 33.9,186.7 34.0,183.2 34.1,182.6 34.3,185.9 34.4,185.9 34.5,185.2 34.6,184.1 34.7,182.7 34.9,188.1 35.0,186.9 35.1,187.7 35.2,187.5 35.3,188.2 35.5,185.3 35.6,188.0 35.7,183.1 35.8,184.6 35.9,187.0 36.1,187.2 36.2,186.5 36.3,183.6 36.4,187.3 36.5,188.3 36.7,185.4 36.8,185.6 36.9,186.7 37.0,183.0 37.1,185.1 37.3,185.2 37.4,186.7 37.5,185.9 37.6,186.4 37.7,188.9 37.9,185.1 38.0,188.5 38.1,185.7 38.2,187.9 38.3,182.3 38.5,185.4 38.6,183.7 38.7,184.2 38.8,187.8 38.9,189.0 39.1,186.1 39.2,184.3 39.3,185.7 39.4,184.5 39.5,184.1 39.7,187.7 39.8,185.4 39.9,182.6 40.0,185.3 40.1,188.7 40.3,185.9 40.4,186.1 40.5,184.6 40.6,186.5 40.7,184.9 40.9,188.6 41.0,183.7 41.1,182.9 41.2,182.4 41.3,187.6 41.5,184.6 41.6,190.0 41.7,184.4 41.8,185.2 41.9,186.7 42.0,184.6 42.2,184.7 42.3,183.5 42.4,184.8 42.5,184.4 42.6,186.9 42.8,186.3 42.9,185.7 43.0,183.8 43.1,184.7 43.2,182.0 43.4,185.1 43.5,185.2 43.6,184.1 43.7,184.3 43.8,183.3 44.0,184.4 44.1,182.2 44.2,184.9 44.3,182.7 44.4,184.6 44.6,181.8 44.7,186.6 44.8,183.3 44.9,185.1 45.0,183.2 45.2,181.9 45.3,186.1 45.4,186.1 45.5,185.8 45.6,183.7 45.8,187.5 45.9,183.7 46.0,186.3 46.1,185.8 46.2,184.4 46.4,183.5 46.5,184.1 46.6,184.6 46.7,183.2 46.8,184.3 47.0,188.4 47.1,184.5 47.2,183.6 47.3,182.1 47.4,179.3 47.6,182.3 47.7,183.8 47.8,184.6 47.9,183.1 48.0,182.4 48.2,181.0 48.3,184.7 48.4,182.1 48.5,181.1 48.6,180.1 48.8,182.6 48.9,183.7 49.0,183.5 49.1,182.4 49.2,182.4 49.4,179.5 49.5,178.2 49.6,178.4 49.7,176.7 49.8,180.4 50.0,178.9 50.1,181.0 50.2,180.1 50.3,179.1 50.4,181.1 50.6,185.1 50.7,182.4 50.8,183.5 50.9,185.0 51.0,184.0 51.2,181.7 51.3,180.7 51.4,184.3 51.5,181.8 51.6,181.7 51.8,185.6 51.9,183.4 52.0,183.2 52.1,183.4 52.2,186.1 52.4,182.9 52.5,181.0 52.6,180.3 52.7,179.6 52.8,183.0 53.0,179.4 53.1,180.7 53.2,183.4 53.3,179.6 53.4,181.0 53.6,179.8 53.7,180.2 53.8,178.3 53.9,180.4 54.0,181.0 54.1,180.1 54.3,181.2 54.4,182.6 54.5,181.0 54.6,183.2 54.7,184.1 54.9,184.9 55.0,186.0 55.1,185.3 55.2,181.6 55.3,186.0 55.5,184.2 55.6,186.2 55.7,185.4 55.8,181.8 55.9,183.4 56.1,185.7 56.2,184.9 56.3,185.7 56.4,186.1 56.5,185.8 56.7,186.5 56.8,184.5 56.9,183.7 57.0,184.5 57.1,184.9 57.3,187.4 57.4,184.9 57.5,185.7 57.6,183.6 57.7,184.2 57.9,184.2 58.0,185.5 58.1,187.8 58.2,183.0 58.3,183.4 58.5,187.9 58.6,185.5 58.7,183.8 58.8,187.3 58.9,182.9 59.1,185.8 59.2,187.4 59.3,183.5 59.4,185.1 59.5,186.9 59.7,184.2 59.8,188.8 59.9,183.0 60.0,186.4 60.1,184.3 60.3,186.0 60.4,185.0 60.5,184.0 60.6,186.6 60.7,183.9 60.9,186.3 61.0,187.1 61.1,186.5 61.2,187.1 61.3,187.2 61.5,183.7 61.6,186.3 61.7,183.4 61.8,184.5 61.9,187.7 62.1,187.2 62.2,187.2 62.3,185.6 62.4,186.2 62.5,187.0 62.7,184.7 62.8,188.6 62.9,188.0 63.0,185.9 63.1,182.7 63.3,185.3 63.4,186.6 63.5,184.7 63.6,184.9 63.7,184.6 63.9,186.9 64.0,186.7 64.1,185.9 64.2,184.7 64.3,183.6 64.5,182.4 64.6,187.5 64.7,187.0 64.8,186.0 64.9,186.3 65.1,185.1 65.2,185.1 65.3,185.3 65.4,184.1 65.5,186.0 65.7,187.9 65.8,187.2 65.9,187.7 66.0,187.5 66.1,188.5 66.2,185.0 66.4,185.2 66.5,186.6 66.6,187.0 66.7,188.1 66.8,187.0 67.0,182.8 67.1,189.1 67.2,185.6 67.3,184.4 67.4,185.7 67.6,186.4 67.7,184.5 67.8,187.2 67.9,184.2 68.0,182.9 68.2,186.9 68.3,185.9 68.4,183.9 68.5,182.8 68.6,181.8 68.8,182.0 68.9,184.5 69.0,185.1 69.1,183.0 69.2,183.0 69.4,185.6 69.5,184.1 69.6,184.2 69.7,182.8 69.8,186.7 70.0,184.5 70.1,187.6 70.2,186.5 70.3,185.7 70.4,183.3 70.6,180.3 70.7,184.8 70.8,185.3 70.9,183.8 71.0,188.1 71.2,184.8 71.3,188.0 71.4,182.8 71.5,182.6 71.6,185.4 71.8,186.8 71.9,183.1 72.0,185.5 72.1,184.6 72.2,185.1 72.4,188.6 72.5,185.3 72.6,184.5 72.7,185.7 72.8,185.8 73.0,187.7 73.1,185.0 73.2,185.8 73.3,185.6 73.4,186.6 73.6,184.2 73.7,184.2 73.8,185.2 73.9,184.2 74.0,183.8 74.2,183.3 74.3,185.3 74.4,186.6 74.5,186.4 74.6,185.7 74.8,185.0 74.9,184.3 75.0,186.5 75.1,185.8 75.2,187.4 75.4,184.2 75.5,186.7 75.6,185.5 75.7,187.2 75.8,186.5 76.0,187.1 76.1,182.0 76.2,185.4 76.3,186.2 76.4,187.3 76.6,186.5 76.7,184.7 76.8,182.9 76.9,187.1 77.0,187.1 77.2,185.2 77.3,186.8 77.4,188.2 77.5,185.2 77.6,184.2 77.8,188.2 77.9,184.5 78.0,184.2 78.1,183.8 78.2,186.4 78.3,181.1 78.5,184.6 78.6,186.4 78.7,183.8 78.8,186.5 78.9,183.4 79.1,186.4 79.2,183.6 79.3,184.7 79.4,182.4 79.5,182.6 79.7,182.5 79.8,181.8 79.9,180.0 80.0,183.8 80.1,179.2 80.3,177.5 80.4,175.8 80.5,173.7 80.6,167.2 80.7,171.0 80.9,169.6 81.0,170.7 81.1,167.1 81.2,175.8 81.3,169.3 81.5,175.4 81.6,178.5 81.7,177.9 81.8,176.7 81.9,176.5 82.1,176.9 82.2,174.1 82.3,174.3 82.4,173.4 82.5,175.3 82.7,169.6 82.8,167.1 82.9,169.4 83.0,172.3 83.1,172.2 83.3,169.4 83.4,175.4 83.5,176.5 83.6,179.6 83.7,178.6 83.9,181.5 84.0,182.4 84.1,185.0 84.2,182.3 84.3,181.0 84.5,182.7 84.6,180.2 84.7,180.5 84.8,180.7 84.9,179.4 85.1,179.4 85.2,177.3 85.3,178.0 85.4,180.5 85.5,179.4 85.7,180.2 85.8,180.2 85.9,182.0 86.0,182.3 86.1,185.0 86.3,183.3 86.4,182.4 86.5,186.8 86.6,182.0 86.7,184.3 86.9,184.3 87.0,188.2 87.1,182.7 87.2,186.2 87.3,186.1 87.5,184.1 87.6,186.7 87.7,186.9 87.8,187.0 87.9,184.9 88.1,184.4 88.2,185.1 88.3,184.6 88.4,185.0 88.5,184.6 88.7,186.1 88.8,182.6 88.9,184.6 89.0,188.4 89.1,186.1 89.3,183.1 89.4,187.4 89.5,185.8 89.6,184.2 89.7,186.4 89.9,183.5 90.0,182.6 90.1,186.4 90.2,183.3 90.3,186.2 90.4,186.2 90.6,184.4 90.7,183.9 90.8,184.2 90.9,182.4 91.0,184.5 91.2,183.7 91.3,184.8 91.4,181.0 91.5,180.2 91.6,179.5 91.8,181.8 91.9,177.7 92.0,176.0 92.1,177.7 92.2,174.7 92.4,170.5 92.5,168.4 92.6,166.9 92.7,164.2 92.8,164.0 93.0,165.0 93.1,165.6 93.2,167.6 93.3,168.1 93.4,169.7 93.6,167.3 93.7,172.7 93.8,175.2 93.9,177.0 94.0,178.6 94.2,179.9 94.3,179.6 94.4,181.4 94.5,180.9 94.6,183.0 94.8,182.5 94.9,181.1 95.0,185.7 95.1,183.6 95.2,183.6 95.4,184.8 95.5,184.9 95.6,187.0 95.7,181.9 95.8,184.7 96.0,184.1 96.1,181.0 96.2,183.9 96.3,177.6 96.4,177.5 96.6,175.6 96.7,175.7 96.8,177.2 96.9,179.2 97.0,174.5 97.2,179.3 97.3,180.4 97.4,177.4 97.5,182.3 97.6,183.1 97.8,183.8 97.9,183.5 98.0,185.9 98.1,185.6 98.2,182.5 98.4,183.0 98.5,188.7 98.6,188.1 98.7,184.1 98.8,184.5 99.0,185.2 99.1,183.1 99.2,186.9 99.3,182.2 99.4,183.6 99.6,182.6 99.7,183.1 99.8,181.6 99.9,182.5 100.0,181.5 100.2,177.4 100.3,176.7 100.4,177.8 100.5,170.3 100.6,171.9 100.8,172.4 100.9,175.5 101.0,177.1 101.1,179.3 101.2,181.7 101.4,181.5 101.5,182.0 101.6,184.2 101.7,180.7 101.8,186.3 101.9,185.3 102.1,185.2 102.2,182.3 102.3,184.7 102.4,184.4 102.5,185.1 102.7,185.2 102.8,185.1 102.9,181.2 103.0,182.1 103.1,181.3 103.3,184.5 103.4,178.1 103.5,184.5 103.6,186.1 103.7,181.7 103.9,181.3 104.0,179.6 104.1,181.0 104.2,177.0 104.3,172.2 104.5,174.1 104.6,170.4 104.7,168.0 104.8,157.9 104.9,152.2 105.1,146.1 105.2,141.7 105.3,136.2 105.4,137.6 105.5,137.7 105.7,144.7 105.8,147.6 105.9,152.7 106.0,159.7 106.1,162.2 106.3,165.3 106.4,170.5 106.5,174.7 106.6,176.4 106.7,172.2 106.9,177.0 107.0,175.0 107.1,174.3 107.2,171.0 107.3,167.0 107.5,166.4 107.6,164.1 107.7,155.1 107.8,154.2 107.9,150.3 108.1,150.4 108.2,150.3 108.3,151.9 108.4,155.4 108.5,162.1 108.7,164.8 108.8,166.9 108.9,170.5 109.0,170.9 109.1,174.7 109.3,177.1 109.4,170.9 109.5,169.2 109.6,168.8 109.7,165.5 109.9,166.2 110.0,168.8 110.1,167.0 110.2,170.4 110.3,168.2 110.5,173.2 110.6,173.8 110.7,177.4 110.8,179.1 110.9,183.0 111.1,181.0 111.2,186.4 111.3,181.7 111.4,182.2 111.5,179.3 111.7,182.6 111.8,185.7 111.9,186.6 112.0,181.7 112.1,186.8 112.3,182.7 112.4,188.8 112.5,184.6 112.6,184.0 112.7,184.4 112.9,184.5 113.0,185.9 113.1,186.1 113.2,183.2 113.3,184.6 113.5,185.3 113.6,184.3 113.7,185.9 113.8,183.5 113.9,183.2 114.0,185.9 114.2,184.5 114.3,182.4 114.4,183.7 114.5,181.7 114.6,182.4 114.8,184.8 114.9,182.7 115.0,181.3 115.1,184.3 115.2,181.0 115.4,181.3 115.5,179.9 115.6,175.9 115.7,176.0 115.8,173.7 116.0,171.4 116.1,165.3 116.2,163.7 116.3,164.9 116.4,166.4 116.6,169.2 116.7,169.7 116.8,174.6 116.9,179.5 117.0,180.6 117.2,178.2 117.3,183.5 117.4,183.8 117.5,183.9 117.6,185.6 117.8,183.0 117.9,188.5 118.0,182.1 118.1,184.8 118.2,186.8 118.4,183.5 118.5,187.8 118.6,183.7 118.7,182.8 118.8,185.2 119.0,183.9 119.1,181.4 119.2,184.1 119.3,182.4 119.4,180.9 119.6,178.6 119.7,181.8 119.8,180.4 119.9,178.0 120.0,184.9 120.2,182.2 120.3,185.1 120.4,186.4 120.5,180.6 120.6,183.7 120.8,182.2 120.9,185.2 121.0,183.3 121.1,185.0 121.2,186.5 121.4,185.3 121.5,185.2 121.6,183.5 121.7,185.8 121.8,185.0 122.0,186.2 122.1,185.2 122.2,188.0 122.3,184.3 122.4,186.1 122.6,185.8 122.7,186.0 122.8,183.2 122.9,184.4 123.0,185.6 123.2,184.7 123.3,185.1 123.4,184.4 123.5,184.7 123.6,183.7 123.8,183.1 123.9,185.1 124.0,187.5 124.1,183.3 124.2,181.9 124.4,185.8 124.5,186.4 124.6,188.7 124.7,184.8 124.8,186.7 125.0,183.1 125.1,189.3 125.2,185.3 125.3,184.8 125.4,186.2 125.6,187.1 125.7,185.4 125.8,186.4 125.9,186.5 126.0,185.8 126.1,186.5 126.3,186.1 126.4,184.4 126.5,185.7 126.6,185.3 126.7,186.1 126.9,183.6 127.0,186.8 127.1,182.4 127.2,187.9 127.3,184.1 127.5,186.0 127.6,180.7 127.7,181.6 127.8,183.8 127.9,182.7 128.1,179.2 128.2,181.7 128.3,181.0 128.4,184.4 128.5,184.2 128.7,182.4 128.8,180.0 128.9,184.4 129.0,182.7 129.1,184.7 129.3,180.8 129.4,182.9 129.5,182.0 129.6,183.5 129.7,180.3 129.9,178.6 130.0,175.2 130.1,178.6 130.2,173.7 130.3,176.5 130.5,175.9 130.6,177.9 130.7,180.6 130.8,180.0 130.9,177.3 131.1,182.7 131.2,182.5 131.3,180.7 131.4,186.7 131.5,183.3 131.7,184.4 131.8,184.4 131.9,183.3 132.0,185.3 132.1,185.8 132.3,182.8 132.4,184.0 132.5,186.1 132.6,185.5 132.7,187.3 132.9,183.3 133.0,187.7 133.1,185.5 133.2,182.8 133.3,184.1 133.5,186.2 133.6,186.5 133.7,186.7 133.8,184.5 133.9,185.2 134.1,184.6 134.2,181.9 134.3,186.9 134.4,186.0 134.5,186.5 134.7,185.3 134.8,185.2 134.9,185.5 135.0,184.7 135.1,184.3 135.3,186.1 135.4,189.3 135.5,183.6 135.6,187.1 135.7,186.3 135.9,185.2 136.0,186.6 136.1,185.9 136.2,183.9 136.3,183.6 136.5,182.2 136.6,184.2 136.7,181.9 136.8,182.9 136.9,181.4 137.1,180.1 137.2,181.2 137.3,183.6 137.4,181.9 137.5,181.7 137.7,180.8 137.8,183.0 137.9,182.5 138.0,185.2 138.1,179.5 138.2,183.7 138.4,182.9 138.5,181.3 138.6,183.4 138.7,178.2 138.8,178.4 139.0,178.3 139.1,181.3 139.2,180.4 139.3,179.1 139.4,179.1 139.6,176.6 139.7,180.2 139.8,184.0 139.9,181.7 140.0,180.9 140.2,178.1 140.3,177.2 140.4,175.5 140.5,174.7 140.6,171.0 140.8,167.8 140.9,169.8 141.0,174.4 141.1,173.7 141.2,171.7 141.4,176.2 141.5,179.4 141.6,181.6 141.7,179.2 141.8,182.2 142.0,184.1 142.1,184.5 142.2,185.1 142.3,185.5 142.4,183.9 142.6,183.2 142.7,187.9 142.8,188.0 142.9,185.6 143.0,184.3 143.2,188.0 143.3,186.8 143.4,186.1 143.5,186.1 143.6,186.3 143.8,185.6 143.9,184.2 144.0,184.6 144.1,183.6 144.2,185.3 144.4,187.2 144.5,186.4 144.6,184.7 144.7,185.2 144.8,183.9 145.0,184.6 145.1,185.8 145.2,184.4 145.3,187.6 145.4,185.4 145.6,186.5 145.7,184.1 145.8,186.8 145.9,184.7 146.0,186.1 146.2,184.6 146.3,184.4 146.4,185.3 146.5,185.4 146.6,184.6 146.8,183.0 146.9,184.9 147.0,184.3 147.1,185.4 147.2,185.5 147.4,183.7 147.5,183.3 147.6,184.6 147.7,180.3 147.8,182.8 148.0,179.0 148.1,178.2 148.2,177.7 148.3,173.9 148.4,173.7 148.6,167.9 148.7,162.4 148.8,157.8 148.9,157.8 149.0,161.2 149.2,159.5 149.3,157.3 149.4,162.8 149.5,163.8 149.6,171.9 149.8,174.9 149.9,178.5 150.0,179.0 150.1,178.1 150.2,182.8 150.3,180.9 150.5,181.9 150.6,181.2 150.7,182.8 150.8,182.9 150.9,179.1 151.1,184.6 151.2,180.8 151.3,179.1 151.4,179.3 151.5,177.3 151.7,184.1 151.8,178.8 151.9,180.5 152.0,179.6 152.1,179.4 152.3,178.7 152.4,182.3 152.5,180.1 152.6,185.4 152.7,182.0 152.9,183.9 153.0,187.5 153.1,187.6 153.2,187.9 153.3,186.8 153.5,185.1 153.6,182.6 153.7,183.3 153.8,187.7 153.9,189.5 154.1,186.5 154.2,188.3 154.3,186.1 154.4,186.6 154.5,181.2 154.7,188.8 154.8,185.2 154.9,183.3 155.0,185.9 155.1,186.6 155.3,183.3 155.4,189.1 155.5,188.6 155.6,187.8 155.7,185.0 155.9,185.1 156.0,186.0 156.1,182.4 156.2,185.3 156.3,185.7 156.5,186.6 156.6,184.1 156.7,186.1 156.8,186.8 156.9,183.3 157.1,183.4 157.2,184.1 157.3,186.9 157.4,186.9 157.5,186.3 157.7,186.3 157.8,185.7 157.9,185.7 158.0,184.3 158.1,186.3 158.3,184.3 158.4,184.8 158.5,184.5 158.6,184.1 158.7,181.5 158.9,181.9 159.0,183.0 159.1,181.5 159.2,182.2 159.3,181.6 159.5,183.2 159.6,181.3 159.7,182.0 159.8,185.2 159.9,186.3 160.1,187.3 160.2,184.0 160.3,185.9 160.4,185.9 160.5,185.7 160.7,183.7 160.8,181.9 160.9,185.4 161.0,181.7 161.1,184.7 161.3,182.6 161.4,185.7 161.5,187.2 161.6,184.6 161.7,182.9 161.8,185.3 162.0,184.7 162.1,182.9 162.2,182.9 162.3,184.9 162.4,183.4 162.6,180.5 162.7,177.8 162.8,180.8 162.9,179.2 163.0,179.2 163.2,180.4 163.3,181.5 163.4,182.4 163.5,183.6 163.6,183.3 163.8,181.8 163.9,183.6 164.0,182.9 164.1,184.5 164.2,181.1 164.4,186.7 164.5,185.3 164.6,182.3 164.7,183.7 164.8,179.3 165.0,179.2 165.1,180.2 165.2,178.1 165.3,180.2 165.4,178.8 165.6,179.5 165.7,182.4 165.8,178.6 165.9,182.4 166.0,180.4 166.2,182.9 166.3,181.8 166.4,184.9 166.5,184.0 166.6,184.5 166.8,183.2 166.9,180.6 167.0,183.7 167.1,182.4 167.2,180.9 167.4,179.4 167.5,180.2 167.6,180.0 167.7,180.1 167.8,179.7 168.0,179.3 168.1,182.2 168.2,182.2 168.3,180.8 168.4,183.0 168.6,184.4 168.7,182.5 168.8,183.0 168.9,182.5 169.0,182.6 169.2,185.0 169.3,184.0 169.4,184.1 169.5,183.8 169.6,186.5 169.8,182.6 169.9,182.0 170.0,180.7 170.1,180.7 170.2,178.3 170.4,179.8 170.5,176.0 170.6,177.8 170.7,171.0 170.8,166.1 171.0,167.3 171.1,173.2 171.2,171.3 171.3,172.5 171.4,177.6 171.6,181.8 171.7,177.2 171.8,182.3 171.9,183.2 172.0,179.8 172.2,182.8 172.3,183.3 172.4,182.5 172.5,185.3 172.6,186.6 172.8,183.5 172.9,185.5 173.0,183.7 173.1,184.3 173.2,186.3 173.4,185.7 173.5,186.2 173.6,186.0 173.7,185.8 173.8,184.9 173.9,185.4 174.1,187.9 174.2,184.9 174.3,188.2 174.4,182.5 174.5,186.6 174.7,185.8 174.8,183.7 174.9,184.8 175.0,187.5 175.1,188.0 175.3,185.1 175.4,184.7 175.5,184.3 175.6,184.7 175.7,186.2 175.9,184.8 176.0,182.9 176.1,186.2 176.2,179.0 176.3,185.4 176.5,181.1 176.6,180.6 176.7,182.4 176.8,183.0 176.9,181.5 177.1,179.4 177.2,186.5 177.3,181.1 177.4,181.9 177.5,182.8 177.7,182.7 177.8,183.2 177.9,182.6 178.0,185.0 178.1,182.6 178.3,188.3 178.4,185.9 178.5,187.1 178.6,185.1 178.7,185.9 178.9,184.0 179.0,186.6 179.1,182.9 179.2,183.1 179.3,184.7 179.5,186.3 179.6,184.1 179.7,185.5 179.8,179.9 179.9,180.0 180.1,182.9 180.2,177.4 180.3,181.3 180.4,185.4 180.5,180.2 180.7,180.6 180.8,182.4 180.9,185.5 181.0,181.4 181.1,185.5 181.3,185.1 181.4,184.4 181.5,185.2 181.6,186.0 181.7,187.4 181.9,184.0 182.0,189.1 182.1,185.1 182.2,185.0 182.3,185.2 182.5,186.4 182.6,185.3 182.7,184.5 182.8,187.0 182.9,185.8 183.1,185.5 183.2,187.6 183.3,186.5 183.4,183.7 183.5,184.4 183.7,186.9 183.8,184.9 183.9,185.4 184.0,183.5 184.1,184.0 184.3,189.9 184.4,185.9 184.5,183.0 184.6,183.0 184.7,186.5 184.9,187.7 185.0,185.4 185.1,186.8 185.2,185.7 185.3,187.3 185.5,184.1 185.6,182.7 185.7,183.1 185.8,185.0 185.9,186.3 186.0,184.6 186.2,181.2 186.3,184.6 186.4,180.1 186.5,179.5 186.6,183.8 186.8,182.9 186.9,181.8 187.0,182.5 187.1,183.8 187.2,185.1 187.4,184.8 187.5,184.9 187.6,184.1 187.7,184.9 187.8,183.1 188.0,188.1 188.1,184.0 188.2,184.7 188.3,186.0 188.4,185.4 188.6,184.5 188.7,185.7 188.8,186.5 188.9,185.2 189.0,187.2 189.2,187.3 189.3,186.5 189.4,187.4 189.5,185.8 189.6,184.6 189.8,185.0 189.9,183.9 190.0,186.2 190.1,186.6 190.2,187.0 190.4,187.2 190.5,186.2 190.6,183.9 190.7,188.3 190.8,185.3 191.0,185.7 191.1,184.9 191.2,186.4 191.3,184.0 191.4,186.6 191.6,184.8 191.7,189.0 191.8,185.0 191.9,184.9 192.0,188.2 192.2,184.2 192.3,187.6 192.4,182.9 192.5,184.3 192.6,183.8 192.8,184.4 192.9,186.4 193.0,181.4 193.1,180.8 193.2,184.6 193.4,181.7 193.5,181.0 193.6,182.9 193.7,183.1 193.8,180.4 194.0,183.2 194.1,182.0 194.2,180.4 194.3,183.0 194.4,184.8 194.6,183.5 194.7,187.2 194.8,186.8 194.9,180.6 195.0,186.8 195.2,184.1 195.3,187.3 195.4,185.9 195.5,185.7 195.6,190.1 195.8,186.9 195.9,184.9 196.0,184.6 196.1,185.7 196.2,187.6 196.4,185.2 196.5,186.9 196.6,186.9 196.7,185.6 196.8,182.6 197.0,187.5 197.1,184.6 197.2,185.8 197.3,187.7 197.4,186.9 197.6,186.3 197.7,187.0 197.8,185.8 197.9,187.8 198.0,187.2 198.1,184.6 198.3,185.8 198.4,187.2 198.5,186.1 198.6,183.3 198.7,186.5 198.9,188.5 199.0,184.6 199.1,183.1 199.2,184.2 199.3,187.8 199.5,189.3 199.6,183.9 199.7,186.5 199.8,185.4 199.9,185.4 200.1,182.9 200.2,185.6 200.3,186.1 200.4,185.6 200.5,188.1 200.7,184.9 200.8,186.0 200.9,189.5 201.0,188.0 201.1,188.0 201.3,188.3 201.4,185.8 201.5,184.3 201.6,185.5 201.7,188.0 201.9,188.7 202.0,185.0 202.1,186.8 202.2,185.4 202.3,188.2 202.5,188.8 202.6,182.3 202.7,186.8 202.8,186.3 202.9,188.1 203.1,184.0 203.2,186.7 203.3,186.6 203.4,185.8 203.5,186.2 203.7,183.1 203.8,189.1 203.9,185.3 204.0,187.2 204.1,186.9 204.3,187.0 204.4,184.8 204.5,187.8 204.6,187.0 204.7,184.8 204.9,186.8 205.0,186.7 205.1,184.0 205.2,186.3 205.3,186.7 205.5,186.3 205.6,187.3 205.7,184.9 205.8,187.4 205.9,188.6 206.1,185.8 206.2,188.4 206.3,186.9 206.4,186.6 206.5,185.4 206.7,186.9 206.8,186.5 206.9,186.4 207.0,185.5 207.1,187.0 207.3,185.8 207.4,183.6 207.5,186.5 207.6,185.9 207.7,187.1 207.9,186.8 208.0,187.4 208.1,187.6 208.2,186.0 208.3,184.4 208.5,183.1 208.6,183.4 208.7,179.3 208.8,180.3 208.9,173.3 209.1,173.8 209.2,180.1 209.3,181.7 209.4,183.8 209.5,183.5 209.7,186.2 209.8,188.1 209.9,183.1 210.0,187.8 210.1,185.2 210.2,187.4 210.4,187.4 210.5,184.7 210.6,183.8 210.7,186.6 210.8,186.5 211.0,185.7 211.1,186.9 211.2,188.5 211.3,186.4 211.4,189.7 211.6,185.7 211.7,186.7 211.8,184.6 211.9,188.6 212.0,186.8 212.2,185.6 212.3,183.8 212.4,184.8 212.5,185.8 212.6,187.7 212.8,185.0 212.9,186.1 213.0,186.4 213.1,184.4 213.2,187.2 213.4,182.6 213.5,187.5 213.6,187.1 213.7,186.6 213.8,187.9 214.0,187.2 214.1,186.1 214.2,188.4 214.3,187.3 214.4,188.2 214.6,187.0 214.7,184.4 214.8,187.2 214.9,186.8 215.0,185.6 215.2,188.1 215.3,186.0 215.4,187.2 215.5,187.2 215.6,189.0 215.8,187.3 215.9,184.7 216.0,184.5 216.1,186.6 216.2,185.8 216.4,186.5 216.5,188.1 216.6,188.9 216.7,183.0 216.8,187.9 217.0,185.8 217.1,184.0 217.2,186.9 217.3,186.1 217.4,185.8 217.6,186.9 217.7,185.8 217.8,187.0 217.9,183.8 218.0,184.4 218.2,187.5 218.3,187.1 218.4,187.3 218.5,186.8 218.6,187.3 218.8,184.2 218.9,187.4 219.0,186.5 219.1,185.4 219.2,188.8 219.4,184.8 219.5,185.2 219.6,184.0 219.7,187.4 219.8,186.9 220.0,185.7 220.1,185.8 220.2,186.9 220.3,184.3 220.4,185.9 220.6,184.8 220.7,187.3 220.8,183.5 220.9,185.7 221.0,185.1 221.2,183.8 221.3,181.7 221.4,186.0 221.5,183.1 221.6,181.4 221.7,183.9 221.9,185.2 222.0,182.8 222.1,181.5 222.2,183.3 222.3,179.7 222.5,182.4 222.6,182.2 222.7,180.0 222.8,181.2 222.9,180.0 223.1,182.2 223.2,182.0 223.3,182.6 223.4,182.2 223.5,182.0 223.7,182.2 223.8,184.3 223.9,182.0 224.0,184.0 224.1,182.4 224.3,183.6 224.4,184.9 224.5,185.8 224.6,184.6 224.7,182.5 224.9,184.2 225.0,182.4 225.1,184.5 225.2,184.7 225.3,184.2 225.5,186.9 225.6,182.9 225.7,183.2 225.8,181.8 225.9,181.0 226.1,183.2 226.2,177.8 226.3,183.5 226.4,180.6 226.5,182.0 226.7,181.2 226.8,179.3 226.9,183.9 227.0,181.2 227.1,181.5 227.3,181.9 227.4,181.6 227.5,181.7 227.6,182.4 227.7,183.0 227.9,181.9 228.0,183.2 228.1,184.6 228.2,186.8 228.3,183.7 228.5,185.4 228.6,182.9 228.7,185.8 228.8,187.3 228.9,183.6 229.1,185.0 229.2,187.0 229.3,183.4 229.4,187.7 229.5,183.7 229.7,187.4 229.8,185.1 229.9,185.2 230.0,188.7 230.1,185.3 230.3,186.5 230.4,185.7 230.5,184.5 230.6,183.6 230.7,186.3 230.9,186.2 231.0,182.4 231.1,184.9 231.2,184.6 231.3,188.3 231.5,188.1 231.6,186.5 231.7,186.4 231.8,184.5 231.9,181.7 232.1,187.7 232.2,186.3 232.3,185.0 232.4,185.4 232.5,183.9 232.7,185.9 232.8,187.1 232.9,181.2 233.0,184.7 233.1,187.3 233.3,185.8 233.4,185.1 233.5,187.2 233.6,183.2 233.7,184.6 233.8,185.2 234.0,185.4 234.1,181.2 234.2,184.2 234.3,184.8 234.4,187.1 234.6,185.1 234.7,182.1 234.8,180.4 234.9,185.3 235.0,186.4 235.2,183.1 235.3,183.0 235.4,182.4 235.5,185.0 235.6,184.2 235.8,187.6 235.9,185.9 236.0,185.7 236.1,185.7 236.2,184.4 236.4,183.5 236.5,187.7 236.6,183.1 236.7,186.4 236.8,186.7 237.0,183.8 237.1,189.3 237.2,188.0 237.3,187.1 237.4,185.8 237.6,183.6 237.7,184.3 237.8,187.1 237.9,184.8 238.0,186.7 238.2,183.5 238.3,186.4 238.4,184.1 238.5,187.8 238.6,184.3 238.8,188.0 238.9,186.0 239.0,188.9 239.1,185.9 239.2,187.3 239.4,187.9 239.5,184.9 239.6,184.5" fill="none" stroke="#111" stroke-width="1.15" stroke-linejoin="round"/>
<polyline points="0.0,448.0 0.4,447.8 0.8,448.3 1.2,448.5 1.5,448.1 1.9,448.2 2.3,448.3 2.7,448.1 3.1,448.2 3.5,448.2 3.8,448.1 4.2,447.9 4.6,448.1 5.0,448.2 5.4,448.0 5.8,448.1 6.1,448.3 6.5,448.4 6.9,447.9 7.3,448.1 7.7,448.7 8.1,448.8 8.4,448.4 8.8,447.7 9.2,447.6 9.6,447.7 10.0,447.9 10.4,447.9 10.7,448.0 11.1,448.1 11.5,448.1 11.9,448.3 12.3,448.3 12.7,448.2 13.0,448.0 13.4,447.9 13.8,448.1 14.2,448.2 14.6,448.0 15.0,448.1 15.3,448.2 15.7,448.1 16.1,448.4 16.5,448.4 16.9,448.4 17.3,448.3 17.6,448.3 18.0,448.2 18.4,448.0 18.8,448.1 19.2,448.2 19.6,448.1 19.9,448.2 20.3,448.1 20.7,447.9 21.1,448.0 21.5,447.7 21.9,447.6 22.2,448.0 22.6,448.2 23.0,448.3 23.4,448.3 23.8,448.0 24.2,448.1 24.5,448.3 24.9,448.2 25.3,448.0 25.7,448.2 26.1,448.4 26.5,448.1 26.8,447.9 27.2,447.7 27.6,447.7 28.0,447.4 28.4,447.2 28.8,446.7 29.1,447.0 29.5,447.4 29.9,447.4 30.3,447.8 30.7,447.5 31.1,447.1 31.4,447.9 31.8,448.4 32.2,448.1 32.6,448.5 33.0,448.5 33.4,448.0 33.7,448.0 34.1,448.4 34.5,448.3 34.9,447.9 35.3,448.1 35.7,448.3 36.0,448.1 36.4,447.8 36.8,448.1 37.2,448.2 37.6,448.0 38.0,448.3 38.3,448.4 38.7,448.4 39.1,448.6 39.5,448.2 39.9,448.1 40.3,448.2 40.6,448.2 41.0,448.0 41.4,447.8 41.8,448.1 42.2,448.2 42.6,448.1 42.9,447.8 43.3,447.8 43.7,448.3 44.1,448.2 44.5,448.2 44.9,448.1 45.2,448.0 45.6,448.3 46.0,448.4 46.4,448.3 46.8,448.0 47.2,447.3 47.5,447.2 47.9,447.6 48.3,447.6 48.7,447.5 49.1,447.3 49.5,446.9 49.8,446.9 50.2,446.6 50.6,445.8 51.0,444.5 51.4,443.7 51.8,443.4 52.1,443.2 52.5,444.1 52.9,445.0 53.3,445.6 53.7,446.7 54.1,447.6 54.4,447.8 54.8,447.7 55.2,447.7 55.6,447.4 56.0,447.7 56.4,448.1 56.7,447.8 57.1,447.5 57.5,447.5 57.9,447.6 58.3,447.5 58.7,447.4 59.0,447.7 59.4,447.8 59.8,447.8 60.2,447.7 60.6,447.3 61.0,447.9 61.3,447.7 61.7,447.0 62.1,446.9 62.5,446.5 62.9,446.7 63.3,446.8 63.6,446.2 64.0,446.1 64.4,446.1 64.8,446.2 65.2,446.6 65.6,446.4 65.9,445.6 66.3,445.0 66.7,444.5 67.1,443.6 67.5,441.9 67.9,440.3 68.2,439.2 68.6,439.1 69.0,440.3 69.4,441.6 69.8,442.6 70.2,443.6 70.5,444.2 70.9,445.1 71.3,445.9 71.7,446.1 72.1,446.3 72.5,446.1 72.8,445.8 73.2,445.7 73.6,445.7 74.0,445.5 74.4,445.3 74.8,445.2 75.1,445.1 75.5,445.8 75.9,445.9 76.3,446.0 76.7,446.2 77.1,445.9 77.4,446.0 77.8,446.1 78.2,445.9 78.6,446.0 79.0,445.2 79.4,444.3 79.7,444.0 80.1,443.5 80.5,442.6 80.9,441.1 81.3,440.3 81.7,440.4 82.0,440.5 82.4,440.4 82.8,440.5 83.2,439.9 83.6,439.0 84.0,438.5 84.3,438.7 84.7,439.3 85.1,439.9 85.5,441.4 85.9,442.5 86.3,442.7 86.6,443.3 87.0,443.6 87.4,443.2 87.8,442.8 88.2,442.2 88.6,440.2 88.9,435.8 89.3,427.8 89.7,415.2 90.1,401.1 90.5,395.5 90.9,404.7 91.2,419.1 91.6,430.1 92.0,437.3 92.4,440.8 92.8,442.1 93.2,443.1 93.5,443.1 93.9,442.5 94.3,441.3 94.7,440.5 95.1,439.4 95.5,438.6 95.8,439.8 96.2,441.4 96.6,442.8 97.0,443.5 97.4,443.8 97.8,443.9 98.1,444.2 98.5,444.4 98.9,444.3 99.3,444.5 99.7,443.9 100.1,443.5 100.4,443.3 100.8,442.8 101.2,441.9 101.6,439.8 102.0,437.2 102.4,433.9 102.7,430.6 103.1,428.8 103.5,428.9 103.9,430.8 104.3,434.1 104.7,437.5 105.0,440.2 105.4,441.8 105.8,442.7 106.2,443.7 106.6,444.1 107.0,444.1 107.3,444.6 107.7,444.5 108.1,443.8 108.5,443.3 108.9,442.1 109.3,440.9 109.6,439.9 110.0,439.1 110.4,439.1 110.8,440.6 111.2,442.3 111.6,443.2 111.9,443.8 112.3,444.3 112.7,444.4 113.1,444.3 113.5,444.1 113.9,443.5 114.2,442.7 114.6,441.7 115.0,441.3 115.4,441.7 115.8,442.8 116.2,444.0 116.5,444.9 116.9,445.3 117.3,445.2 117.7,445.4 118.1,445.7 118.5,446.1 118.8,445.7 119.2,445.5 119.6,445.5 120.0,445.1 120.4,444.8 120.8,443.6 121.1,442.0 121.5,439.2 121.9,435.1 122.3,429.9 122.7,425.2 123.1,424.5 123.4,428.6 123.8,433.6 124.2,438.3 124.6,441.9 125.0,443.9 125.4,445.2 125.7,445.3 126.1,445.5 126.5,446.0 126.9,445.9 127.3,445.2 127.7,445.0 128.0,444.6 128.4,444.2 128.8,444.5 129.2,444.8 129.6,444.7 130.0,445.6 130.3,445.9 130.7,445.5 131.1,445.9 131.5,445.8 131.9,445.5 132.3,445.5 132.6,444.9 133.0,443.8 133.4,442.1 133.8,439.7 134.2,438.7 134.6,439.9 134.9,441.8 135.3,443.6 135.7,444.5 136.1,444.3 136.5,443.6 136.9,443.4 137.2,443.4 137.6,443.6 138.0,443.5 138.4,443.4 138.8,443.2 139.2,443.1 139.5,443.5 139.9,443.3 140.3,443.0 140.7,442.9 141.1,442.9 141.5,442.4 141.8,442.2 142.2,442.9 142.6,443.0 143.0,443.2 143.4,443.3 143.8,442.8 144.1,443.0 144.5,443.4 144.9,443.8 145.3,443.6 145.7,443.7 146.1,443.7 146.4,443.9 146.8,444.3 147.2,444.2 147.6,444.3 148.0,444.7 148.4,444.8 148.7,444.8 149.1,445.1 149.5,445.3 149.9,445.4 150.3,445.5 150.7,445.6 151.0,445.7 151.4,445.7 151.8,446.1 152.2,446.6 152.6,446.6 153.0,446.4 153.3,446.3 153.7,446.4 154.1,446.4 154.5,445.9 154.9,446.0 155.3,445.7 155.6,445.0 156.0,445.1 156.4,445.8 156.8,446.2 157.2,446.3 157.6,446.3 157.9,446.9 158.3,446.4 158.7,445.6 159.1,445.6 159.5,445.0 159.9,444.6 160.2,444.9 160.6,445.2 161.0,445.2 161.4,445.4 161.8,445.8 162.2,445.9 162.5,445.7 162.9,445.9 163.3,445.9 163.7,445.2 164.1,444.1 164.5,443.3 164.8,442.5 165.2,441.7 165.6,441.7 166.0,442.4 166.4,443.4 166.8,444.1 167.1,444.7 167.5,445.8 167.9,446.2 168.3,446.2 168.7,446.5 169.1,446.4 169.4,446.0 169.8,446.2 170.2,446.2 170.6,446.4 171.0,446.2 171.4,446.0 171.7,445.7 172.1,445.3 172.5,444.8 172.9,443.5 173.3,441.5 173.7,439.4 174.0,437.7 174.4,436.7 174.8,437.6 175.2,439.5 175.6,441.6 176.0,443.6 176.3,444.6 176.7,445.3 177.1,445.4 177.5,445.7 177.9,446.4 178.3,446.2 178.6,446.1 179.0,446.6 179.4,446.5 179.8,446.1 180.2,446.2 180.6,446.0 180.9,445.6 181.3,445.9 181.7,445.8 182.1,445.7 182.5,445.4 182.9,444.6 183.2,443.8 183.6,443.3 184.0,443.1 184.4,443.3 184.8,444.0 185.2,444.6 185.5,444.9 185.9,445.4 186.3,445.4 186.7,445.1 187.1,444.2 187.5,443.0 187.8,441.8 188.2,439.1 188.6,436.3 189.0,433.9 189.4,433.3 189.8,435.0 190.1,437.7 190.5,440.6 190.9,443.0 191.3,444.8 191.7,445.4 192.1,445.7 192.4,446.1 192.8,446.7 193.2,446.8 193.6,446.9 194.0,447.2 194.4,447.0 194.7,447.1 195.1,447.3 195.5,447.3 195.9,447.4 196.3,447.5 196.7,447.4 197.0,447.1 197.4,447.0 197.8,447.1 198.2,447.0 198.6,446.8 199.0,446.8 199.3,446.7 199.7,446.8 200.1,447.2 200.5,447.5 200.9,447.6 201.3,447.7 201.6,448.0 202.0,448.0 202.4,448.0 202.8,448.2 203.2,448.2 203.6,448.1 203.9,448.1 204.3,448.0 204.7,447.8 205.1,447.4 205.5,447.5 205.9,447.3 206.2,446.8 206.6,446.8 207.0,446.8 207.4,446.8 207.8,446.7 208.2,446.7 208.5,447.0 208.9,447.1 209.3,447.0 209.7,447.0 210.1,447.2 210.5,447.6 210.8,447.7 211.2,447.5 211.6,447.5 212.0,447.4 212.4,447.1 212.8,447.0 213.1,446.9 213.5,446.7 213.9,446.6 214.3,446.6 214.7,446.8 215.1,446.9 215.4,447.2 215.8,447.7 216.2,447.8 216.6,447.8 217.0,447.6 217.4,447.3 217.7,447.5 218.1,447.5 218.5,447.8 218.9,447.9 219.3,447.7 219.7,448.0 220.0,447.9 220.4,447.7 220.8,448.0 221.2,447.6 221.6,447.3 222.0,447.5 222.3,447.1 222.7,447.2 223.1,447.6 223.5,447.1 223.9,446.6 224.3,447.0 224.6,447.4 225.0,447.7 225.4,447.6 225.8,447.6 226.2,448.5 226.6,448.5 226.9,448.0 227.3,448.2 227.7,448.1 228.1,447.8 228.5,448.1 228.9,448.2 229.2,448.2 229.6,448.0 230.0,447.7 230.4,448.0 230.8,448.1 231.2,448.0 231.5,447.9 231.9,447.8 232.3,447.6 232.7,447.0 233.1,447.1 233.5,447.2 233.8,447.1 234.2,447.3 234.6,447.2 235.0,446.9 235.4,446.9 235.8,447.2 236.1,447.5 236.5,447.3 236.9,447.2 237.3,447.4 237.7,447.8 238.1,447.8 238.4,448.0 238.8,448.2 239.2,448.0 239.6,448.1" fill="none" stroke="#000" stroke-width="1.08" stroke-linejoin="round"/>
<line x1="16.8" y1="260.1" x2="239.6" y2="260.1" stroke="#111" stroke-width="1.3"/>
<path d="M42.1 260.1V250.3M47.1 260.1V257.1M81.1 260.1V233.3M84.1 260.1V195.1M96.1 260.1V250.3M103.1 260.1V255.1M135.1 260.1V253.8M138.1 260.1V250.3M140.1 260.1V257.6M146.1 260.1V252.1M152.1 260.1V256.1M158.1 260.1V255.1M160.1 260.1V257.1M167.1 260.1V251.1M168.1 260.1V252.1M173.1 260.1V257.6M188.1 260.1V255.1M197.1 260.1V259.1M202.1 260.1V252.1M206.1 260.1V256.1M209.1 260.1V258.1M212.1 260.1V257.1M217.1 260.1V255.1M218.1 260.1V254.1M225.1 260.1V256.1M226.1 260.1V256.1M229.1 260.1V255.6M231.1 260.1V257.1M234.1 260.1V257.1M238.1 260.1V258.1" stroke="#262626" stroke-width="1" fill="none"/>
<path d="M109.6 260.1V237.1" stroke="#2a2a2a" stroke-width="1.1" fill="none"/>
<line x1="29.7" y1="325.1" x2="239.6" y2="325.1" stroke="#111" stroke-width="1.3"/>
<path d="M39.1 325.1V322.1M52.1 325.1V324.1M63.1 325.1V321.1M78.1 325.1V320.6M84.1 325.1V318.6M92.1 325.1V316.1M101.1 325.1V308.1M106.1 325.1V273.1M108.1 325.1V271.1M109.1 325.1V304.1M110.1 325.1V304.1M121.1 325.1V316.1M124.1 325.1V324.1M129.1 325.1V320.1M131.1 325.1V314.1M138.1 325.1V323.1M141.1 325.1V306.7M150.1 325.1V312.6M152.1 325.1V314.1M155.1 325.1V320.1M159.1 325.1V320.1M160.1 325.1V322.1M165.1 325.1V317.1M166.1 325.1V317.1M167.1 325.1V316.1M171.1 325.1V306.7M182.1 325.1V315.6M194.1 325.1V318.1M200.1 325.1V322.1M202.1 325.1V323.6M206.1 325.1V320.1M209.1 325.1V315.6M211.1 325.1V321.1M212.1 325.1V322.1M217.1 325.1V323.6M222.1 325.1V313.6M223.1 325.1V319.1M225.1 325.1V319.1M226.1 325.1V320.1M227.1 325.1V316.6M230.1 325.1V321.1M231.1 325.1V320.1M233.1 325.1V316.1M237.1 325.1V321.1M237.1 325.1V321.1M238.1 325.1V321.1" stroke="#262626" stroke-width="1" fill="none"/>
<path d="M43.6 325.1V319.1M64.6 325.1V322.1M86.6 325.1V320.6M103.6 325.1V315.1M105.6 325.1V263.1M116.6 325.1V285.4M127.6 325.1V315.1M149.6 325.1V293.7M163.6 325.1V315.1M179.6 325.1V319.6M180.6 325.1V319.6M188.6 325.1V321.6M195.6 325.1V318.1" stroke="#2a2a2a" stroke-width="1.1" fill="none"/>
<line x1="5.8" y1="390.0" x2="239.6" y2="390.0" stroke="#111" stroke-width="1.3"/>
<path d="M7.1 390.0V385.0M12.1 390.0V389.0M63.1 390.0V382.1M73.1 390.0V380.2M84.1 390.0V388.0M85.1 390.0V388.0M90.1 390.0V379.0M105.1 390.0V385.5M120.1 390.0V389.0M121.1 390.0V388.0M135.1 390.0V386.5M136.1 390.0V386.5M139.1 390.0V383.5M141.1 390.0V388.0M148.1 390.0V387.0M150.1 390.0V381.0M152.1 390.0V388.5M166.1 390.0V386.0M170.1 390.0V386.5M175.1 390.0V389.0M178.1 390.0V389.0M182.1 390.0V387.0M185.1 390.0V388.0M187.1 390.0V388.0M190.1 390.0V375.5M192.1 390.0V388.0M195.1 390.0V386.0M196.1 390.0V386.0M201.1 390.0V387.0M205.1 390.0V386.5M206.1 390.0V386.5M207.1 390.0V386.5M216.1 390.0V389.0M223.1 390.0V388.5M227.1 390.0V386.0M232.1 390.0V388.5M234.1 390.0V388.5M237.1 390.0V388.5" stroke="#262626" stroke-width="1" fill="none"/>
<path d="M80.6 390.0V376.0M95.6 390.0V328.0M109.6 390.0V385.5M125.6 390.0V384.2" stroke="#2a2a2a" stroke-width="1.1" fill="none"/>
<line x1="0.0" y1="519.0" x2="239.6" y2="519.0" stroke="#111" stroke-width="1.3"/>
<path d="M2.1 519.0V516.2M40.1 519.0V516.0M52.1 519.0V503.2M61.1 519.0V517.5M74.1 519.0V507.0M91.1 519.0V454.4M115.1 519.0V510.0M136.1 519.0V508.6M143.1 519.0V511.1M165.1 519.0V504.7M175.1 519.0V499.3M186.1 519.0V517.5M189.1 519.0V506.0M192.1 519.0V517.0M198.1 519.0V516.0M201.1 519.0V513.5M208.1 519.0V508.3M213.1 519.0V515.0M218.1 519.0V515.5M222.1 519.0V515.0M228.1 519.0V515.0M233.1 519.0V515.0" stroke="#262626" stroke-width="1" fill="none"/>
<path d="M12.6 519.0V495.7M69.6 519.0V496.2M83.6 519.0V486.5M103.6 519.0V486.5M110.6 519.0V495.7M123.6 519.0V505.0M124.6 519.0V505.0" stroke="#2a2a2a" stroke-width="1.1" fill="none"/>
<path d="M93.1 583.5V522.0M102.1 583.5V582.5M124.1 583.5V574.8M141.1 583.5V572.8M159.1 583.5V574.5M178.1 583.5V579.5M179.1 583.5V572.0M184.1 583.5V572.0M223.1 583.5V582.0M227.1 583.5V578.3" stroke="#262626" stroke-width="1" fill="none"/>
<path d="M62.6 583.5V578.0" stroke="#2a2a2a" stroke-width="1.1" fill="none"/>
<path d="M0 590.6V0.1H239.7V590.6" fill="none" stroke="#111" stroke-width="1.45"/>
<line x1="0" y1="583.5" x2="239.6" y2="583.5" stroke="#111" stroke-width="1.4"/>
<path d="M47.9 583.5v7.1M95.8 583.5v7.1M143.8 583.5v7.1M191.7 583.5v7.1" stroke="#111" stroke-width="1.2" fill="none"/>
<text x="0.0" y="611.8" text-anchor="middle" font-size="17.3">10</text>
<text x="47.9" y="611.8" text-anchor="middle" font-size="17.3">20</text>
<text x="95.8" y="611.8" text-anchor="middle" font-size="17.3">30</text>
<text x="143.8" y="611.8" text-anchor="middle" font-size="17.3">40</text>
<text x="191.7" y="611.8" text-anchor="middle" font-size="17.3">50</text>
<text x="239.6" y="611.8" text-anchor="middle" font-size="17.3">60</text>
<text x="5.2" y="19.8" font-size="22.2">(a)</text>
<text x="236.9" y="19.9" text-anchor="end" font-size="18.4">1-1</text>
<text x="236.9" y="84.9" text-anchor="end" font-size="18.4">1-2</text>
<text x="236.9" y="149.9" text-anchor="end" font-size="18.4">1-3</text>
<text x="237.0" y="217.8" text-anchor="end" font-size="18.4">CsAlSiO<tspan dy="2.6" font-size="10.8" stroke-width="0.2">4</tspan></text>
<text x="237.0" y="282.2" text-anchor="end" font-size="18.4">Ca<tspan dy="2.6" font-size="10.8" stroke-width="0.2">2</tspan><tspan dy="-2.6">SiO</tspan><tspan dy="2.6" font-size="10.8" stroke-width="0.2">4</tspan></text>
<text x="237.0" y="347.3" text-anchor="end" font-size="18.4">CaSiO<tspan dy="2.6" font-size="10.8" stroke-width="0.2">3</tspan></text>
<text x="237.0" y="404.5" text-anchor="end" font-size="18.4"><tspan letter-spacing="-0.62">therma</tspan><tspan letter-spacing="1.5">l</tspan><tspan letter-spacing="-0.22"> insulation</tspan></text>
<text x="237.0" y="424.6" text-anchor="end" font-size="18.4">as received</text>
<text x="236.6" y="466.3" text-anchor="end" font-size="18.4" letter-spacing="-0.40">xonotlite</text>
<text x="236.6" y="486.8" text-anchor="end" font-size="18.4">Ca<tspan dy="2.6" font-size="10.8" stroke-width="0.2">6</tspan><tspan dy="-2.6">Si</tspan><tspan dy="2.6" font-size="10.8" stroke-width="0.2">6</tspan><tspan dy="-2.6">O</tspan><tspan dy="2.6" font-size="10.8" stroke-width="0.2">17</tspan><tspan dy="-2.6">(OH)</tspan><tspan dy="2.6" font-size="10.8" stroke-width="0.2">2</tspan></text>
<text x="237.0" y="534.3" text-anchor="end" font-size="18.4">calcite</text>
<text x="237.0" y="554.3" text-anchor="end" font-size="18.4">CaCO<tspan dy="2.6" font-size="10.8" stroke-width="0.2">3</tspan></text>
</g>
<g transform="translate(306.0,0)">
<polyline points="0.0,57.4 0.2,57.2 0.4,57.7 0.6,57.6 0.8,57.3 1.0,58.6 1.2,58.7 1.3,57.5 1.5,57.0 1.7,57.9 1.9,57.8 2.1,57.2 2.3,57.3 2.5,57.1 2.7,57.9 2.9,57.9 3.1,57.6 3.3,57.0 3.5,56.2 3.6,57.1 3.8,58.0 4.0,58.0 4.2,57.4 4.4,58.0 4.6,56.9 4.8,56.1 5.0,56.3 5.2,57.2 5.4,57.2 5.6,57.3 5.8,58.6 5.9,57.5 6.1,57.1 6.3,58.7 6.5,59.3 6.7,57.6 6.9,55.9 7.1,55.8 7.3,57.1 7.5,57.2 7.7,57.7 7.9,57.8 8.1,57.9 8.2,58.2 8.4,57.5 8.6,57.1 8.8,57.2 9.0,57.0 9.2,56.9 9.4,57.1 9.6,56.6 9.8,58.0 10.0,58.4 10.2,57.4 10.4,57.9 10.5,57.8 10.7,58.1 10.9,57.9 11.1,56.9 11.3,57.0 11.5,56.0 11.7,55.9 11.9,57.2 12.1,57.8 12.3,57.7 12.5,57.8 12.7,57.3 12.8,57.1 13.0,57.7 13.2,56.3 13.4,55.7 13.6,56.7 13.8,56.6 14.0,56.7 14.2,57.0 14.4,57.0 14.6,57.9 14.8,57.7 15.0,56.7 15.1,57.1 15.3,58.2 15.5,58.3 15.7,59.0 15.9,59.1 16.1,58.4 16.3,56.9 16.5,56.6 16.7,58.6 16.9,57.8 17.1,57.1 17.3,57.5 17.4,57.3 17.6,57.2 17.8,57.5 18.0,57.1 18.2,56.6 18.4,57.4 18.6,57.8 18.8,58.0 19.0,57.8 19.2,56.9 19.4,56.7 19.6,56.7 19.7,57.1 19.9,56.6 20.1,56.7 20.3,57.5 20.5,57.6 20.7,57.5 20.9,57.5 21.1,56.4 21.3,56.0 21.5,58.1 21.7,58.5 21.9,58.4 22.0,57.6 22.2,56.1 22.4,56.8 22.6,57.2 22.8,57.1 23.0,57.2 23.2,56.1 23.4,56.5 23.6,58.1 23.8,57.5 24.0,56.6 24.2,56.6 24.3,56.3 24.5,57.0 24.7,58.6 24.9,57.6 25.1,56.7 25.3,57.9 25.5,58.3 25.7,56.9 25.9,56.0 26.1,56.3 26.3,55.6 26.5,55.8 26.6,56.2 26.8,55.2 27.0,53.6 27.2,51.1 27.4,48.5 27.6,46.2 27.8,45.0 28.0,45.9 28.2,47.3 28.4,48.7 28.6,50.3 28.8,52.8 28.9,54.7 29.1,55.8 29.3,55.7 29.5,54.7 29.7,55.7 29.9,56.2 30.1,56.0 30.3,56.3 30.5,55.7 30.7,55.3 30.9,53.8 31.1,53.0 31.2,52.1 31.4,48.8 31.6,46.8 31.8,45.2 32.0,46.0 32.2,48.1 32.4,50.5 32.6,52.8 32.8,53.4 33.0,53.2 33.2,53.7 33.4,54.6 33.5,55.5 33.7,55.4 33.9,55.7 34.1,57.1 34.3,57.8 34.5,57.6 34.7,56.3 34.9,56.8 35.1,57.7 35.3,57.6 35.5,57.6 35.7,57.7 35.8,58.3 36.0,57.2 36.2,57.5 36.4,58.8 36.6,57.6 36.8,56.5 37.0,56.8 37.2,57.5 37.4,57.4 37.6,57.4 37.8,56.9 38.0,57.0 38.1,58.0 38.3,58.0 38.5,57.4 38.7,56.5 38.9,55.6 39.1,56.5 39.3,58.2 39.5,58.7 39.7,56.7 39.9,56.1 40.1,56.9 40.3,55.5 40.4,56.0 40.6,57.0 40.8,56.6 41.0,56.7 41.2,55.3 41.4,53.4 41.6,54.3 41.8,53.6 42.0,52.1 42.2,52.4 42.4,52.3 42.6,53.7 42.7,54.7 42.9,55.3 43.1,54.6 43.3,53.2 43.5,54.7 43.7,57.0 43.9,56.6 44.1,56.1 44.3,55.8 44.5,54.5 44.7,54.3 44.9,55.4 45.0,56.6 45.2,56.4 45.4,55.7 45.6,55.8 45.8,55.3 46.0,54.8 46.2,55.9 46.4,56.8 46.6,56.6 46.8,55.7 47.0,57.3 47.2,58.0 47.3,57.1 47.5,57.6 47.7,57.6 47.9,57.1 48.1,55.8 48.3,55.8 48.5,57.0 48.7,57.6 48.9,56.8 49.1,56.3 49.3,56.3 49.5,54.5 49.6,52.4 49.8,49.5 50.0,44.6 50.2,39.1 50.4,39.0 50.6,44.0 50.8,48.8 51.0,52.8 51.2,54.9 51.4,55.8 51.6,55.8 51.8,55.5 51.9,57.3 52.1,57.8 52.3,56.3 52.5,56.3 52.7,57.1 52.9,56.3 53.1,56.5 53.3,56.8 53.5,55.4 53.7,54.3 53.9,54.8 54.1,55.7 54.2,54.1 54.4,54.2 54.6,55.8 54.8,54.4 55.0,55.1 55.2,58.1 55.4,56.5 55.6,54.8 55.8,56.3 56.0,55.3 56.2,55.6 56.4,56.4 56.5,56.3 56.7,57.3 56.9,57.0 57.1,56.3 57.3,56.0 57.5,55.8 57.7,56.8 57.9,57.5 58.1,56.1 58.3,55.7 58.5,56.7 58.7,56.1 58.8,55.3 59.0,55.1 59.2,55.9 59.4,56.5 59.6,55.3 59.8,54.1 60.0,55.3 60.2,56.5 60.4,56.3 60.6,55.8 60.8,56.6 61.0,55.8 61.1,55.3 61.3,56.6 61.5,55.4 61.7,55.4 61.9,56.3 62.1,56.7 62.3,56.9 62.5,57.4 62.7,57.6 62.9,57.0 63.1,57.5 63.3,56.9 63.4,56.0 63.6,57.6 63.8,57.3 64.0,56.6 64.2,56.6 64.4,56.1 64.6,56.1 64.8,54.5 65.0,51.8 65.2,51.5 65.4,51.5 65.6,49.7 65.7,48.7 65.9,49.6 66.1,51.6 66.3,52.0 66.5,53.0 66.7,54.9 66.9,56.2 67.1,56.4 67.3,56.2 67.5,56.5 67.7,56.6 67.9,55.6 68.0,55.5 68.2,55.6 68.4,54.3 68.6,52.1 68.8,51.1 69.0,49.9 69.2,45.7 69.4,43.4 69.6,45.0 69.8,46.6 70.0,47.2 70.2,50.1 70.3,53.7 70.5,54.9 70.7,54.3 70.9,55.1 71.1,56.0 71.3,55.2 71.5,55.3 71.7,56.1 71.9,56.1 72.1,55.7 72.3,55.4 72.5,55.0 72.6,54.9 72.8,55.7 73.0,54.8 73.2,53.4 73.4,55.1 73.6,55.4 73.8,54.5 74.0,55.1 74.2,57.2 74.4,57.8 74.6,57.2 74.8,57.0 74.9,57.8 75.1,57.5 75.3,55.9 75.5,55.7 75.7,56.0 75.9,56.3 76.1,55.7 76.3,55.3 76.5,56.0 76.7,56.0 76.9,55.3 77.1,54.6 77.2,54.6 77.4,55.7 77.6,56.1 77.8,55.3 78.0,54.5 78.2,53.7 78.4,54.7 78.6,55.2 78.8,54.0 79.0,51.8 79.2,48.9 79.4,47.1 79.5,44.0 79.7,40.6 79.9,35.9 80.1,29.9 80.3,24.7 80.5,20.1 80.7,16.8 80.9,15.9 81.1,20.3 81.3,25.2 81.5,27.4 81.7,28.8 81.8,30.7 82.0,30.8 82.2,27.1 82.4,21.5 82.6,18.4 82.8,18.1 83.0,18.0 83.2,21.0 83.4,25.9 83.6,31.4 83.8,37.0 84.0,41.4 84.1,44.8 84.3,47.6 84.5,49.6 84.7,52.0 84.9,53.1 85.1,52.9 85.3,53.0 85.5,53.0 85.7,52.7 85.9,53.7 86.1,54.8 86.3,54.2 86.4,54.4 86.6,54.4 86.8,53.7 87.0,53.1 87.2,50.5 87.4,49.3 87.6,49.1 87.8,49.6 88.0,51.0 88.2,51.7 88.4,52.5 88.6,51.7 88.7,51.2 88.9,51.9 89.1,52.8 89.3,53.2 89.5,53.1 89.7,51.9 89.9,52.8 90.1,53.3 90.3,52.2 90.5,50.5 90.7,49.4 90.9,47.9 91.0,45.7 91.2,44.4 91.4,39.3 91.6,33.9 91.8,31.3 92.0,28.5 92.2,23.5 92.4,16.6 92.6,11.5 92.8,9.5 93.0,7.5 93.2,5.9 93.3,9.3 93.5,13.5 93.7,16.8 93.9,19.4 94.1,21.8 94.3,25.7 94.5,28.9 94.7,28.9 94.9,28.4 95.1,28.8 95.3,28.5 95.5,28.0 95.6,29.0 95.8,30.2 96.0,29.2 96.2,28.3 96.4,29.8 96.6,32.8 96.8,35.3 97.0,37.3 97.2,38.5 97.4,39.9 97.6,40.7 97.8,40.8 97.9,40.0 98.1,40.3 98.3,41.0 98.5,41.1 98.7,41.1 98.9,39.1 99.1,40.3 99.3,43.2 99.5,42.7 99.7,42.7 99.9,44.6 100.1,45.4 100.2,46.2 100.4,46.8 100.6,47.8 100.8,49.9 101.0,51.7 101.2,53.2 101.4,53.8 101.6,52.6 101.8,53.2 102.0,54.2 102.2,52.8 102.4,52.7 102.5,52.5 102.7,52.4 102.9,52.2 103.1,52.7 103.3,53.6 103.5,51.2 103.7,49.2 103.9,48.9 104.1,47.5 104.3,44.1 104.5,40.7 104.7,38.8 104.8,37.3 105.0,36.1 105.2,35.6 105.4,36.8 105.6,38.3 105.8,41.2 106.0,44.7 106.2,46.4 106.4,48.7 106.6,50.2 106.8,50.0 107.0,52.8 107.1,53.5 107.3,53.7 107.5,54.2 107.7,54.3 107.9,54.6 108.1,54.8 108.3,54.6 108.5,53.5 108.7,52.1 108.9,50.5 109.1,50.6 109.3,49.3 109.4,47.7 109.6,46.8 109.8,45.4 110.0,45.5 110.2,48.0 110.4,51.2 110.6,52.8 110.8,52.2 111.0,53.2 111.2,55.9 111.4,57.0 111.6,57.1 111.7,55.7 111.9,55.2 112.1,56.2 112.3,55.6 112.5,54.2 112.7,54.0 112.9,54.4 113.1,53.4 113.3,51.6 113.5,52.0 113.7,52.9 113.9,50.4 114.0,49.6 114.2,51.4 114.4,53.4 114.6,55.1 114.8,55.2 115.0,54.4 115.2,54.7 115.4,56.7 115.6,56.1 115.8,54.4 116.0,54.8 116.2,56.3 116.3,57.1 116.5,56.3 116.7,55.4 116.9,53.7 117.1,54.0 117.3,55.2 117.5,54.4 117.7,54.7 117.9,55.6 118.1,56.7 118.3,56.8 118.5,56.5 118.6,56.6 118.8,56.0 119.0,56.4 119.2,57.0 119.4,56.7 119.6,56.9 119.8,57.0 120.0,57.7 120.2,58.3 120.4,57.0 120.6,56.4 120.8,56.2 121.0,57.0 121.1,57.8 121.3,57.0 121.5,56.7 121.7,56.7 121.9,55.8 122.1,55.8 122.3,56.7 122.5,56.0 122.7,55.3 122.9,55.2 123.1,53.9 123.3,52.8 123.4,52.4 123.6,51.1 123.8,46.7 124.0,42.0 124.2,37.6 124.4,33.2 124.6,30.0 124.8,30.9 125.0,38.2 125.2,43.5 125.4,47.6 125.6,51.6 125.7,52.5 125.9,54.4 126.1,55.6 126.3,55.4 126.5,55.5 126.7,56.2 126.9,56.4 127.1,56.2 127.3,56.1 127.5,55.9 127.7,56.1 127.9,55.4 128.0,55.1 128.2,55.7 128.4,55.7 128.6,55.3 128.8,55.0 129.0,53.5 129.2,53.8 129.4,55.3 129.6,54.7 129.8,54.8 130.0,55.0 130.2,54.7 130.3,55.4 130.5,56.2 130.7,57.0 130.9,57.5 131.1,57.6 131.3,57.2 131.5,57.4 131.7,56.8 131.9,55.9 132.1,57.1 132.3,58.9 132.5,57.3 132.6,56.1 132.8,57.9 133.0,57.4 133.2,54.6 133.4,51.8 133.6,50.7 133.8,50.6 134.0,50.7 134.2,51.3 134.4,53.9 134.6,55.7 134.8,55.9 134.9,55.8 135.1,55.3 135.3,54.5 135.5,52.2 135.7,51.7 135.9,51.4 136.1,51.1 136.3,52.9 136.5,52.6 136.7,53.1 136.9,54.7 137.1,54.5 137.2,55.9 137.4,57.0 137.6,55.6 137.8,56.3 138.0,57.1 138.2,56.0 138.4,55.6 138.6,55.8 138.8,55.7 139.0,55.8 139.2,55.8 139.4,55.8 139.5,56.7 139.7,56.7 139.9,56.1 140.1,55.2 140.3,54.4 140.5,54.0 140.7,52.9 140.9,51.1 141.1,49.2 141.3,46.9 141.5,44.7 141.7,44.1 141.8,45.1 142.0,45.2 142.2,46.1 142.4,49.6 142.6,50.6 142.8,48.8 143.0,46.7 143.2,43.3 143.4,39.3 143.6,36.7 143.8,39.2 144.0,42.0 144.1,43.5 144.3,46.9 144.5,50.4 144.7,53.6 144.9,55.2 145.1,55.3 145.3,54.9 145.5,56.4 145.7,56.8 145.9,55.5 146.1,55.5 146.3,55.2 146.4,54.2 146.6,54.1 146.8,55.3 147.0,54.8 147.2,54.3 147.4,55.3 147.6,56.2 147.8,56.6 148.0,56.9 148.2,57.1 148.4,56.7 148.6,56.4 148.7,56.8 148.9,57.6 149.1,56.5 149.3,56.9 149.5,57.4 149.7,56.7 149.9,56.3 150.1,56.4 150.3,57.3 150.5,56.8 150.7,56.7 150.9,56.8 151.0,54.9 151.2,52.4 151.4,50.8 151.6,47.2 151.8,44.0 152.0,44.0 152.2,45.5 152.4,49.2 152.6,52.7 152.8,55.3 153.0,55.6 153.2,54.4 153.3,55.2 153.5,56.2 153.7,56.9 153.9,57.6 154.1,57.1 154.3,55.8 154.5,55.8 154.7,55.8 154.9,55.1 155.1,55.2 155.3,55.3 155.5,54.9 155.6,54.7 155.8,53.9 156.0,53.2 156.2,54.8 156.4,56.0 156.6,56.6 156.8,56.3 157.0,55.2 157.2,55.7 157.4,56.0 157.6,54.8 157.8,54.7 157.9,53.6 158.1,49.9 158.3,46.7 158.5,45.2 158.7,43.6 158.9,40.7 159.1,39.2 159.3,39.2 159.5,41.2 159.7,43.9 159.9,45.4 160.1,45.2 160.2,45.8 160.4,45.0 160.6,42.6 160.8,42.0 161.0,42.3 161.2,43.4 161.4,45.5 161.6,49.5 161.8,51.1 162.0,52.2 162.2,53.8 162.4,54.8 162.5,55.7 162.7,55.6 162.9,56.6 163.1,56.3 163.3,55.5 163.5,56.5 163.7,54.4 163.9,51.8 164.1,51.8 164.3,51.5 164.5,51.2 164.7,52.2 164.8,53.3 165.0,53.4 165.2,54.9 165.4,56.0 165.6,56.0 165.8,57.0 166.0,57.1 166.2,56.3 166.4,55.9 166.6,55.8 166.8,57.0 167.0,57.0 167.1,56.8 167.3,58.1 167.5,57.8 167.7,57.1 167.9,55.9 168.1,54.5 168.3,53.9 168.5,52.7 168.7,51.9 168.9,50.3 169.1,50.2 169.3,50.1 169.4,50.2 169.6,53.4 169.8,54.7 170.0,54.3 170.2,55.3 170.4,55.4 170.6,54.7 170.8,56.0 171.0,57.3 171.2,57.1 171.4,57.0 171.6,56.5 171.7,55.6 171.9,55.6 172.1,55.7 172.3,55.9 172.5,56.1 172.7,56.1 172.9,54.1 173.1,52.6 173.3,53.1 173.5,53.8 173.7,55.2 173.9,55.7 174.0,55.6 174.2,55.8 174.4,55.5 174.6,55.7 174.8,55.7 175.0,55.2 175.2,55.0 175.4,55.1 175.6,54.6 175.8,53.8 176.0,53.1 176.2,51.7 176.3,49.7 176.5,46.6 176.7,42.7 176.9,39.8 177.1,37.7 177.3,36.0 177.5,36.1 177.7,38.8 177.9,42.5 178.1,45.2 178.3,48.2 178.5,49.7 178.6,51.3 178.8,53.3 179.0,52.9 179.2,51.5 179.4,49.9 179.6,48.7 179.8,48.3 180.0,49.5 180.2,51.7 180.4,52.6 180.6,53.6 180.8,54.7 180.9,55.4 181.1,56.7 181.3,56.6 181.5,56.1 181.7,55.8 181.9,55.8 182.1,56.4 182.3,55.4 182.5,55.3 182.7,56.9 182.9,55.7 183.1,53.6 183.2,51.0 183.4,48.4 183.6,45.9 183.8,42.8 184.0,41.3 184.2,43.6 184.4,46.4 184.6,49.0 184.8,51.0 185.0,52.7 185.2,55.1 185.4,55.1 185.5,55.2 185.7,55.8 185.9,55.5 186.1,55.8 186.3,56.6 186.5,55.7 186.7,55.6 186.9,55.9 187.1,56.1 187.3,56.0 187.5,54.9 187.7,54.0 187.8,51.4 188.0,51.3 188.2,51.4 188.4,48.0 188.6,44.5 188.8,42.3 189.0,40.0 189.2,38.0 189.4,37.9 189.6,39.5 189.8,40.1 190.0,42.2 190.1,46.5 190.3,50.6 190.5,53.4 190.7,53.5 190.9,53.0 191.1,54.0 191.3,55.2 191.5,55.3 191.7,55.4 191.9,55.5 192.1,55.9 192.3,54.4 192.4,51.9 192.6,50.6 192.8,51.6 193.0,53.9 193.2,54.1 193.4,54.4 193.6,56.3 193.8,56.8 194.0,56.7 194.2,55.7 194.4,55.7 194.6,57.0 194.7,57.3 194.9,57.9 195.1,57.0 195.3,56.7 195.5,57.3 195.7,57.3 195.9,57.8 196.1,58.5 196.3,58.0 196.5,55.5 196.7,54.5 196.9,55.5 197.0,55.6 197.2,56.2 197.4,57.6 197.6,56.3 197.8,55.9 198.0,55.0 198.2,53.5 198.4,55.0 198.6,55.5 198.8,54.4 199.0,53.0 199.2,52.3 199.3,52.1 199.5,52.2 199.7,50.7 199.9,49.1 200.1,50.2 200.3,52.1 200.5,52.4 200.7,49.8 200.9,49.9 201.1,51.0 201.3,52.5 201.5,53.3 201.6,51.7 201.8,50.4 202.0,50.7 202.2,50.8 202.4,49.7 202.6,50.7 202.8,52.2 203.0,52.7 203.2,54.0 203.4,55.9 203.6,56.9 203.8,56.3 203.9,55.9 204.1,56.3 204.3,56.7 204.5,56.9 204.7,55.6 204.9,55.8 205.1,57.4 205.3,58.0 205.5,58.0 205.7,56.9 205.9,56.4 206.1,56.7 206.2,56.3 206.4,56.5 206.6,56.3 206.8,55.2 207.0,54.7 207.2,54.6 207.4,54.3 207.6,55.4 207.8,56.3 208.0,56.1 208.2,56.9 208.4,57.0 208.5,56.2 208.7,57.5 208.9,57.8 209.1,56.7 209.3,56.8 209.5,57.9 209.7,57.5 209.9,56.7 210.1,57.7 210.3,58.5 210.5,57.8 210.7,57.0 210.8,58.0 211.0,57.0 211.2,56.9 211.4,57.4 211.6,57.2 211.8,57.6 212.0,56.5 212.2,56.3 212.4,56.1 212.6,55.4 212.8,54.2 213.0,53.2 213.1,53.4 213.3,54.2 213.5,55.1 213.7,55.1 213.9,54.3 214.1,54.0 214.3,55.1 214.5,55.4 214.7,55.4 214.9,55.8 215.1,55.7 215.3,55.7 215.4,55.1 215.6,52.7 215.8,52.6 216.0,53.2 216.2,51.8 216.4,51.8 216.6,51.2 216.8,50.9 217.0,50.8 217.2,49.3 217.4,48.3 217.6,49.4 217.7,51.0 217.9,52.4 218.1,52.5 218.3,52.6 218.5,54.3 218.7,54.4 218.9,54.5 219.1,56.0 219.3,55.6 219.5,56.1 219.7,58.0 219.9,56.7 220.0,56.1 220.2,57.7 220.4,57.0 220.6,55.6 220.8,56.3 221.0,56.9 221.2,56.6 221.4,56.1 221.6,56.1 221.8,56.9 222.0,56.5 222.2,55.6 222.3,55.8 222.5,55.0 222.7,54.2 222.9,53.8 223.1,52.9 223.3,53.4 223.5,53.2 223.7,53.8 223.9,55.8 224.1,56.8 224.3,56.6 224.5,55.9 224.6,57.3 224.8,57.9 225.0,56.5 225.2,56.2 225.4,56.1 225.6,55.4 225.8,53.8 226.0,53.9 226.2,53.7 226.4,51.4 226.6,49.0 226.8,43.4 226.9,39.2 227.1,38.9 227.3,40.8 227.5,44.1 227.7,46.0 227.9,49.7 228.1,52.5 228.3,52.7 228.5,54.9 228.7,56.0 228.9,56.0 229.1,56.1 229.2,54.9 229.4,54.3 229.6,53.6 229.8,52.9 230.0,54.9 230.2,55.1 230.4,55.1 230.6,57.9 230.8,57.9 231.0,56.9 231.2,55.8 231.4,55.1 231.5,55.9 231.7,56.5 231.9,56.5 232.1,57.0 232.3,56.9 232.5,56.8 232.7,57.5 232.9,57.2 233.1,57.5 233.3,56.0 233.5,55.5 233.7,57.4 233.8,58.0 234.0,58.2 234.2,57.7 234.4,57.0 234.6,57.8 234.8,58.4 235.0,56.6 235.2,56.2 235.4,57.2 235.6,57.5 235.8,57.7 236.0,57.4 236.1,56.5 236.3,55.9 236.5,56.9 236.7,58.1 236.9,57.6 237.1,57.4 237.3,57.2 237.5,56.2 237.7,57.2 237.9,58.9 238.1,59.3 238.3,58.2 238.4,58.1 238.6,57.9 238.8,57.1 239.0,57.3 239.2,57.5 239.4,57.9 239.6,57.5" fill="none" stroke="#111" stroke-width="1.15" stroke-linejoin="round"/>
<polyline points="0.0,119.3 0.1,121.3 0.2,118.4 0.4,121.5 0.5,121.5 0.6,119.8 0.7,122.5 0.8,120.0 1.0,120.6 1.1,122.1 1.2,122.7 1.3,121.9 1.4,120.1 1.6,120.8 1.7,123.7 1.8,122.1 1.9,119.0 2.0,119.2 2.2,123.0 2.3,120.7 2.4,123.0 2.5,122.8 2.6,122.3 2.8,122.0 2.9,120.4 3.0,120.8 3.1,121.6 3.2,121.8 3.4,121.7 3.5,121.6 3.6,120.1 3.7,122.1 3.8,121.0 4.0,121.7 4.1,121.0 4.2,120.4 4.3,121.4 4.4,119.7 4.6,120.9 4.7,119.4 4.8,121.9 4.9,121.4 5.0,121.3 5.2,120.6 5.3,120.5 5.4,119.7 5.5,119.8 5.6,121.0 5.8,121.2 5.9,121.7 6.0,118.5 6.1,120.3 6.2,122.3 6.3,122.4 6.5,122.6 6.6,120.0 6.7,121.5 6.8,117.6 6.9,120.1 7.1,121.3 7.2,122.2 7.3,120.4 7.4,121.9 7.5,122.6 7.7,120.8 7.8,121.5 7.9,120.1 8.0,121.6 8.1,124.9 8.3,119.6 8.4,124.2 8.5,119.3 8.6,118.8 8.7,122.1 8.9,123.1 9.0,122.2 9.1,120.5 9.2,121.6 9.3,122.5 9.5,121.4 9.6,118.8 9.7,120.7 9.8,119.5 9.9,120.0 10.1,119.2 10.2,120.3 10.3,122.2 10.4,121.7 10.5,122.8 10.7,122.4 10.8,119.9 10.9,121.9 11.0,120.9 11.1,121.9 11.3,121.9 11.4,120.5 11.5,122.0 11.6,121.6 11.7,120.8 11.9,120.0 12.0,120.5 12.1,120.8 12.2,123.1 12.3,120.5 12.5,120.1 12.6,120.1 12.7,121.9 12.8,117.3 12.9,122.5 13.1,119.8 13.2,120.8 13.3,122.1 13.4,119.3 13.5,121.6 13.7,123.7 13.8,122.6 13.9,119.7 14.0,118.0 14.1,122.9 14.3,121.0 14.4,118.9 14.5,120.1 14.6,121.5 14.7,123.0 14.9,123.3 15.0,121.0 15.1,120.7 15.2,123.6 15.3,122.5 15.5,120.0 15.6,120.7 15.7,120.7 15.8,120.7 15.9,120.4 16.1,119.0 16.2,117.7 16.3,115.7 16.4,119.0 16.5,119.0 16.7,118.2 16.8,117.8 16.9,116.5 17.0,117.9 17.1,121.1 17.3,121.4 17.4,118.6 17.5,120.3 17.6,120.6 17.7,121.7 17.9,120.6 18.0,118.2 18.1,119.3 18.2,121.8 18.3,119.4 18.4,119.7 18.6,119.3 18.7,117.6 18.8,120.5 18.9,122.7 19.0,120.7 19.2,121.9 19.3,120.4 19.4,120.7 19.5,120.2 19.6,120.9 19.8,120.6 19.9,120.7 20.0,119.8 20.1,120.9 20.2,122.7 20.4,120.7 20.5,122.1 20.6,119.4 20.7,120.9 20.8,119.4 21.0,121.1 21.1,121.4 21.2,124.1 21.3,119.6 21.4,122.7 21.6,120.2 21.7,121.8 21.8,121.5 21.9,121.2 22.0,122.0 22.2,121.7 22.3,120.9 22.4,120.6 22.5,122.5 22.6,122.4 22.8,121.2 22.9,120.1 23.0,119.8 23.1,120.5 23.2,122.9 23.4,119.9 23.5,120.4 23.6,121.6 23.7,119.9 23.8,120.0 24.0,120.7 24.1,121.7 24.2,122.1 24.3,123.6 24.4,120.7 24.6,120.7 24.7,120.1 24.8,121.0 24.9,121.3 25.0,117.4 25.2,122.5 25.3,122.4 25.4,121.8 25.5,119.6 25.6,121.5 25.8,120.7 25.9,120.6 26.0,117.5 26.1,121.2 26.2,120.4 26.4,117.3 26.5,118.7 26.6,116.1 26.7,112.4 26.8,114.4 27.0,111.4 27.1,110.5 27.2,107.3 27.3,105.5 27.4,107.4 27.6,110.2 27.7,112.6 27.8,113.4 27.9,113.8 28.0,116.0 28.2,117.8 28.3,121.6 28.4,118.3 28.5,122.1 28.6,122.2 28.8,119.9 28.9,119.5 29.0,120.6 29.1,121.5 29.2,121.0 29.4,121.6 29.5,122.9 29.6,120.9 29.7,121.2 29.8,119.9 30.0,120.6 30.1,119.4 30.2,119.2 30.3,118.3 30.4,116.8 30.5,118.2 30.7,118.2 30.8,115.6 30.9,118.4 31.0,116.5 31.1,113.6 31.3,114.3 31.4,111.0 31.5,113.2 31.6,112.0 31.7,111.8 31.9,111.4 32.0,112.4 32.1,115.3 32.2,116.0 32.3,116.2 32.5,117.9 32.6,120.5 32.7,119.5 32.8,117.5 32.9,120.3 33.1,119.3 33.2,120.9 33.3,117.5 33.4,121.1 33.5,120.0 33.7,123.5 33.8,120.6 33.9,118.7 34.0,122.1 34.1,118.3 34.3,120.9 34.4,119.4 34.5,123.4 34.6,115.9 34.7,119.4 34.9,118.6 35.0,120.6 35.1,119.8 35.2,116.6 35.3,119.6 35.5,118.1 35.6,119.7 35.7,118.9 35.8,119.7 35.9,119.0 36.1,116.9 36.2,120.0 36.3,120.1 36.4,120.6 36.5,119.6 36.7,118.8 36.8,121.2 36.9,122.3 37.0,118.3 37.1,121.0 37.3,120.6 37.4,120.6 37.5,119.5 37.6,120.1 37.7,121.6 37.9,118.8 38.0,121.3 38.1,121.8 38.2,122.1 38.3,121.7 38.5,122.1 38.6,121.3 38.7,121.0 38.8,125.5 38.9,121.0 39.1,120.2 39.2,119.8 39.3,121.6 39.4,122.1 39.5,119.6 39.7,121.8 39.8,122.0 39.9,118.6 40.0,121.7 40.1,119.3 40.3,121.1 40.4,119.8 40.5,122.4 40.6,120.8 40.7,119.4 40.9,122.4 41.0,119.5 41.1,121.5 41.2,119.8 41.3,119.4 41.5,121.1 41.6,116.4 41.7,117.5 41.8,114.9 41.9,116.6 42.0,114.3 42.2,112.1 42.3,114.7 42.4,116.5 42.5,115.7 42.6,117.4 42.8,118.7 42.9,117.5 43.0,119.9 43.1,118.7 43.2,120.5 43.4,121.3 43.5,118.5 43.6,120.0 43.7,117.1 43.8,121.2 44.0,121.8 44.1,121.7 44.2,119.5 44.3,121.7 44.4,121.8 44.6,118.0 44.7,122.8 44.8,119.2 44.9,120.7 45.0,122.4 45.2,118.9 45.3,121.5 45.4,122.4 45.5,121.0 45.6,118.1 45.8,119.6 45.9,118.3 46.0,118.3 46.1,118.8 46.2,118.5 46.4,120.1 46.5,121.7 46.6,120.2 46.7,115.8 46.8,122.2 47.0,116.9 47.1,118.4 47.2,120.1 47.3,118.6 47.4,115.9 47.6,119.6 47.7,117.2 47.8,116.8 47.9,118.8 48.0,117.0 48.2,118.0 48.3,119.0 48.4,117.7 48.5,118.0 48.6,120.1 48.8,121.2 48.9,119.0 49.0,120.4 49.1,119.4 49.2,121.3 49.4,121.7 49.5,120.6 49.6,118.8 49.7,121.5 49.8,118.5 50.0,120.0 50.1,120.1 50.2,122.1 50.3,116.7 50.4,121.7 50.6,119.4 50.7,117.6 50.8,120.7 50.9,121.2 51.0,119.7 51.2,117.6 51.3,117.8 51.4,118.0 51.5,120.4 51.6,118.0 51.8,118.3 51.9,120.9 52.0,119.3 52.1,115.2 52.2,119.2 52.4,117.0 52.5,119.9 52.6,119.1 52.7,118.2 52.8,120.4 53.0,118.9 53.1,116.2 53.2,117.8 53.3,118.0 53.4,120.2 53.6,119.4 53.7,119.0 53.8,118.6 53.9,117.8 54.0,120.0 54.1,117.6 54.3,120.8 54.4,118.0 54.5,122.4 54.6,120.1 54.7,120.2 54.9,122.4 55.0,121.0 55.1,120.7 55.2,121.2 55.3,120.3 55.5,122.7 55.6,118.4 55.7,121.3 55.8,119.4 55.9,123.7 56.1,121.0 56.2,121.2 56.3,119.9 56.4,122.6 56.5,119.5 56.7,122.8 56.8,119.5 56.9,120.0 57.0,122.4 57.1,118.3 57.3,122.6 57.4,120.8 57.5,119.0 57.6,120.0 57.7,121.1 57.9,120.0 58.0,120.9 58.1,121.4 58.2,122.2 58.3,121.4 58.5,119.9 58.6,122.8 58.7,121.3 58.8,123.5 58.9,122.0 59.1,123.5 59.2,119.6 59.3,123.7 59.4,121.8 59.5,120.1 59.7,119.0 59.8,120.4 59.9,118.6 60.0,120.8 60.1,120.0 60.3,121.4 60.4,120.1 60.5,123.3 60.6,120.4 60.7,119.9 60.9,122.2 61.0,122.5 61.1,121.0 61.2,120.0 61.3,119.6 61.5,122.2 61.6,120.8 61.7,121.7 61.8,120.6 61.9,123.9 62.1,119.7 62.2,121.3 62.3,120.2 62.4,121.1 62.5,122.3 62.7,119.5 62.8,121.1 62.9,121.6 63.0,119.9 63.1,120.9 63.3,122.2 63.4,118.4 63.5,120.6 63.6,119.9 63.7,119.2 63.9,118.9 64.0,118.0 64.1,116.7 64.2,118.1 64.3,119.7 64.5,115.0 64.6,115.5 64.7,117.9 64.8,116.1 64.9,117.9 65.1,120.7 65.2,117.4 65.3,118.5 65.4,118.2 65.5,116.8 65.7,117.4 65.8,121.2 65.9,121.1 66.0,123.1 66.1,120.1 66.2,121.1 66.4,119.8 66.5,120.6 66.6,121.8 66.7,120.2 66.8,122.7 67.0,119.1 67.1,121.2 67.2,119.5 67.3,121.4 67.4,119.8 67.6,118.8 67.7,119.4 67.8,118.6 67.9,113.3 68.0,116.0 68.2,113.1 68.3,112.9 68.4,112.7 68.5,108.3 68.6,110.8 68.8,112.5 68.9,117.8 69.0,114.6 69.1,115.4 69.2,117.2 69.4,119.1 69.5,117.9 69.6,119.3 69.7,119.5 69.8,118.5 70.0,119.0 70.1,121.7 70.2,119.8 70.3,121.4 70.4,122.2 70.6,117.4 70.7,122.7 70.8,120.8 70.9,122.8 71.0,120.7 71.2,119.3 71.3,117.4 71.4,117.5 71.5,118.2 71.6,116.9 71.8,113.4 71.9,117.0 72.0,115.3 72.1,112.7 72.2,119.7 72.4,120.6 72.5,119.6 72.6,119.2 72.7,120.1 72.8,119.5 73.0,120.0 73.1,122.3 73.2,119.7 73.3,121.6 73.4,118.5 73.6,118.8 73.7,116.5 73.8,118.5 73.9,119.3 74.0,118.5 74.2,117.7 74.3,119.0 74.4,118.9 74.5,114.6 74.6,113.9 74.8,116.3 74.9,116.5 75.0,116.7 75.1,115.6 75.2,115.1 75.4,118.2 75.5,119.3 75.6,119.5 75.7,119.0 75.8,118.9 76.0,118.3 76.1,120.7 76.2,121.3 76.3,119.5 76.4,117.9 76.6,120.2 76.7,120.2 76.8,119.9 76.9,118.6 77.0,120.3 77.2,119.4 77.3,119.8 77.4,120.7 77.5,118.3 77.6,119.5 77.8,117.6 77.9,120.4 78.0,120.7 78.1,118.8 78.2,121.8 78.3,119.2 78.5,119.5 78.6,119.3 78.7,117.7 78.8,120.9 78.9,116.6 79.1,115.6 79.2,113.5 79.3,111.5 79.4,110.3 79.5,107.6 79.7,109.3 79.8,101.1 79.9,96.1 80.0,92.2 80.1,88.9 80.3,86.5 80.4,84.5 80.5,85.5 80.6,86.5 80.7,89.3 80.9,94.1 81.0,99.7 81.1,96.6 81.2,102.6 81.3,107.8 81.5,100.0 81.6,99.6 81.7,99.4 81.8,94.3 81.9,92.3 82.1,88.1 82.2,84.1 82.3,81.4 82.4,78.2 82.5,76.8 82.7,73.9 82.8,74.8 82.9,81.8 83.0,83.9 83.1,92.8 83.3,95.9 83.4,97.9 83.5,99.7 83.6,104.4 83.7,107.3 83.9,113.7 84.0,113.8 84.1,117.5 84.2,115.7 84.3,115.7 84.5,117.5 84.6,118.9 84.7,116.7 84.8,117.8 84.9,118.0 85.1,119.4 85.2,119.0 85.3,119.2 85.4,118.0 85.5,117.5 85.7,118.8 85.8,121.5 85.9,120.2 86.0,119.0 86.1,119.5 86.3,119.4 86.4,120.1 86.5,117.4 86.6,117.8 86.7,118.5 86.9,117.0 87.0,116.4 87.1,117.5 87.2,116.2 87.3,115.7 87.5,116.5 87.6,115.8 87.7,117.7 87.8,115.9 87.9,116.0 88.1,118.5 88.2,114.9 88.3,117.8 88.4,120.2 88.5,118.9 88.7,118.8 88.8,118.7 88.9,120.4 89.0,119.3 89.1,120.6 89.3,120.2 89.4,117.6 89.5,120.3 89.6,117.8 89.7,116.9 89.9,119.3 90.0,122.7 90.1,118.0 90.2,116.9 90.3,119.4 90.4,117.2 90.6,117.6 90.7,119.1 90.8,118.4 90.9,115.5 91.0,115.0 91.2,115.5 91.3,111.9 91.4,113.3 91.5,114.7 91.6,107.3 91.8,105.1 91.9,104.6 92.0,96.7 92.1,96.2 92.2,92.3 92.4,89.4 92.5,83.0 92.6,76.0 92.7,78.9 92.8,77.9 93.0,71.6 93.1,76.8 93.2,76.0 93.3,80.1 93.4,83.4 93.6,86.8 93.7,92.9 93.8,93.3 93.9,102.7 94.0,104.2 94.2,106.3 94.3,111.3 94.4,112.7 94.5,112.6 94.6,115.2 94.8,112.9 94.9,115.4 95.0,111.9 95.1,118.2 95.2,117.3 95.4,114.5 95.5,117.6 95.6,114.3 95.7,123.4 95.8,119.6 96.0,116.6 96.1,115.2 96.2,117.3 96.3,119.3 96.4,118.1 96.6,117.6 96.7,118.1 96.8,117.3 96.9,119.1 97.0,116.2 97.2,115.0 97.3,112.1 97.4,114.7 97.5,113.9 97.6,114.5 97.8,115.2 97.9,115.1 98.0,110.1 98.1,107.4 98.2,108.7 98.4,113.4 98.5,110.5 98.6,111.2 98.7,112.8 98.8,109.4 99.0,112.4 99.1,113.5 99.2,117.4 99.3,115.7 99.4,118.3 99.6,115.2 99.7,119.3 99.8,115.8 99.9,116.0 100.0,116.6 100.2,118.1 100.3,114.7 100.4,117.8 100.5,115.8 100.6,113.6 100.8,108.1 100.9,110.8 101.0,111.0 101.1,108.7 101.2,104.9 101.4,111.4 101.5,113.5 101.6,114.6 101.7,112.8 101.8,111.6 101.9,115.3 102.1,116.6 102.2,118.4 102.3,118.7 102.4,115.6 102.5,117.9 102.7,117.3 102.8,120.0 102.9,116.6 103.0,117.8 103.1,116.0 103.3,115.3 103.4,118.5 103.5,117.0 103.6,116.8 103.7,117.2 103.9,115.5 104.0,114.0 104.1,110.8 104.2,113.1 104.3,107.6 104.5,109.5 104.6,107.0 104.7,104.0 104.8,101.1 104.9,95.5 105.1,93.0 105.2,95.6 105.3,87.7 105.4,86.4 105.5,81.6 105.7,87.5 105.8,86.6 105.9,86.3 106.0,88.9 106.1,91.5 106.3,98.5 106.4,101.0 106.5,101.7 106.6,107.7 106.7,106.0 106.9,108.5 107.0,110.8 107.1,114.9 107.2,114.4 107.3,114.8 107.5,113.5 107.6,113.7 107.7,114.5 107.8,116.2 107.9,115.6 108.1,113.4 108.2,110.8 108.3,110.4 108.4,109.2 108.5,105.4 108.7,103.9 108.8,100.3 108.9,98.5 109.0,95.6 109.1,97.1 109.3,95.7 109.4,97.8 109.5,97.0 109.6,97.2 109.7,98.2 109.9,102.7 110.0,104.5 110.1,107.0 110.2,110.3 110.3,113.0 110.5,111.6 110.6,115.1 110.7,117.6 110.8,116.4 110.9,118.0 111.1,117.4 111.2,118.6 111.3,118.1 111.4,119.5 111.5,118.0 111.7,117.4 111.8,115.7 111.9,117.4 112.0,115.6 112.1,118.9 112.3,115.8 112.4,113.5 112.5,114.6 112.6,112.6 112.7,116.5 112.9,113.6 113.0,117.4 113.1,114.9 113.2,116.5 113.3,116.3 113.5,119.6 113.6,119.3 113.7,120.7 113.8,119.3 113.9,117.4 114.0,119.1 114.2,117.1 114.3,118.3 114.4,119.6 114.5,119.1 114.6,120.3 114.8,117.9 114.9,118.2 115.0,118.5 115.1,119.1 115.2,118.7 115.4,118.4 115.5,116.4 115.6,112.6 115.7,116.2 115.8,110.2 116.0,102.4 116.1,106.1 116.2,101.4 116.3,100.8 116.4,102.4 116.6,100.8 116.7,103.6 116.8,107.5 116.9,106.5 117.0,110.6 117.2,111.7 117.3,114.8 117.4,114.7 117.5,117.6 117.6,113.5 117.8,117.3 117.9,117.4 118.0,119.3 118.1,121.8 118.2,120.1 118.4,118.1 118.5,119.0 118.6,120.5 118.7,120.5 118.8,121.0 119.0,119.9 119.1,117.4 119.2,117.5 119.3,116.4 119.4,117.9 119.6,116.9 119.7,117.2 119.8,115.9 119.9,116.3 120.0,116.6 120.2,118.1 120.3,118.3 120.4,116.3 120.5,117.1 120.6,122.3 120.8,118.9 120.9,119.7 121.0,119.4 121.1,123.4 121.2,122.2 121.4,121.5 121.5,120.8 121.6,122.6 121.7,118.8 121.8,119.0 122.0,119.9 122.1,118.8 122.2,122.5 122.3,121.2 122.4,123.9 122.6,119.1 122.7,117.7 122.8,119.5 122.9,121.5 123.0,121.1 123.2,119.6 123.3,122.5 123.4,120.4 123.5,119.0 123.6,121.1 123.8,120.4 123.9,117.1 124.0,118.1 124.1,116.3 124.2,116.8 124.4,118.8 124.5,116.9 124.6,117.4 124.7,117.7 124.8,116.9 125.0,115.7 125.1,118.0 125.2,116.6 125.3,120.8 125.4,119.6 125.6,120.3 125.7,122.8 125.8,123.0 125.9,120.3 126.0,120.4 126.1,120.2 126.3,120.8 126.4,121.1 126.5,122.7 126.6,121.0 126.7,117.9 126.9,120.2 127.0,121.7 127.1,120.4 127.2,120.3 127.3,119.6 127.5,121.6 127.6,120.3 127.7,119.9 127.8,121.0 127.9,120.4 128.1,118.4 128.2,118.6 128.3,120.1 128.4,121.6 128.5,120.1 128.7,117.6 128.8,118.7 128.9,121.4 129.0,116.1 129.1,118.3 129.3,116.6 129.4,115.5 129.5,117.8 129.6,119.1 129.7,119.2 129.9,118.5 130.0,118.4 130.1,119.6 130.2,116.5 130.3,119.9 130.5,119.4 130.6,116.7 130.7,120.2 130.8,120.0 130.9,121.3 131.1,121.0 131.2,118.1 131.3,118.9 131.4,120.9 131.5,120.3 131.7,120.2 131.8,118.1 131.9,121.1 132.0,118.6 132.1,118.7 132.3,119.9 132.4,121.1 132.5,121.4 132.6,121.2 132.7,119.1 132.9,122.5 133.0,120.3 133.1,119.8 133.2,121.4 133.3,119.9 133.5,119.4 133.6,117.2 133.7,116.8 133.8,119.6 133.9,114.0 134.1,117.1 134.2,118.3 134.3,119.0 134.4,116.0 134.5,120.0 134.7,117.6 134.8,118.3 134.9,117.2 135.0,118.9 135.1,118.4 135.3,120.0 135.4,118.6 135.5,120.6 135.6,118.8 135.7,120.7 135.9,118.9 136.0,115.2 136.1,119.4 136.2,119.4 136.3,117.8 136.5,117.4 136.6,121.0 136.7,116.0 136.8,118.9 136.9,118.7 137.1,116.0 137.2,117.0 137.3,116.6 137.4,115.1 137.5,117.3 137.7,119.4 137.8,118.9 137.9,116.1 138.0,119.7 138.1,117.4 138.2,117.6 138.4,121.6 138.5,118.1 138.6,122.1 138.7,118.5 138.8,119.2 139.0,120.5 139.1,122.2 139.2,120.1 139.3,120.3 139.4,118.9 139.6,119.1 139.7,117.9 139.8,118.6 139.9,118.5 140.0,115.0 140.2,112.0 140.3,114.1 140.4,111.4 140.5,112.5 140.6,104.0 140.8,107.5 140.9,103.8 141.0,105.2 141.1,107.4 141.2,108.6 141.4,108.1 141.5,110.0 141.6,113.6 141.7,115.9 141.8,114.7 142.0,116.3 142.1,117.7 142.2,117.1 142.3,118.9 142.4,116.8 142.6,119.3 142.7,117.7 142.8,119.4 142.9,117.1 143.0,115.9 143.2,116.3 143.3,113.0 143.4,112.1 143.5,110.2 143.6,109.3 143.8,111.9 143.9,108.3 144.0,110.6 144.1,112.5 144.2,115.6 144.4,113.8 144.5,114.1 144.6,117.7 144.7,117.7 144.8,117.9 145.0,120.7 145.1,121.1 145.2,118.5 145.3,119.7 145.4,118.5 145.6,119.3 145.7,120.0 145.8,119.0 145.9,122.5 146.0,117.7 146.2,122.0 146.3,120.0 146.4,120.4 146.5,120.6 146.6,120.2 146.8,121.8 146.9,118.0 147.0,117.2 147.1,119.6 147.2,119.1 147.4,120.1 147.5,122.2 147.6,122.1 147.7,118.9 147.8,123.5 148.0,115.4 148.1,117.1 148.2,119.3 148.3,117.9 148.4,118.0 148.6,115.3 148.7,112.9 148.8,109.7 148.9,110.9 149.0,106.2 149.2,105.3 149.3,103.3 149.4,103.4 149.5,102.7 149.6,100.5 149.8,102.0 149.9,104.4 150.0,109.0 150.1,110.5 150.2,110.0 150.3,111.2 150.5,116.4 150.6,113.5 150.7,113.2 150.8,116.5 150.9,117.8 151.1,118.8 151.2,121.0 151.3,120.7 151.4,119.0 151.5,120.2 151.7,118.5 151.8,115.4 151.9,119.9 152.0,118.9 152.1,119.9 152.3,119.4 152.4,118.2 152.5,120.7 152.6,119.9 152.7,121.9 152.9,122.2 153.0,121.0 153.1,119.6 153.2,121.6 153.3,117.6 153.5,121.2 153.6,120.3 153.7,120.8 153.8,118.2 153.9,122.2 154.1,121.4 154.2,119.3 154.3,120.3 154.4,120.1 154.5,122.3 154.7,122.0 154.8,122.3 154.9,118.2 155.0,120.7 155.1,119.9 155.3,123.3 155.4,120.0 155.5,121.3 155.6,119.5 155.7,120.3 155.9,118.7 156.0,119.6 156.1,120.0 156.2,122.1 156.3,117.3 156.5,120.3 156.6,119.8 156.7,120.8 156.8,121.0 156.9,119.7 157.1,120.1 157.2,118.6 157.3,119.2 157.4,120.9 157.5,119.4 157.7,117.8 157.8,117.6 157.9,118.0 158.0,115.9 158.1,115.3 158.3,116.9 158.4,114.0 158.5,112.9 158.6,112.4 158.7,112.5 158.9,109.0 159.0,112.9 159.1,110.7 159.2,109.7 159.3,112.8 159.5,112.7 159.6,113.7 159.7,113.5 159.8,115.4 159.9,115.4 160.1,114.6 160.2,117.8 160.3,117.0 160.4,117.5 160.5,121.6 160.7,118.6 160.8,121.1 160.9,120.3 161.0,119.2 161.1,116.6 161.3,118.3 161.4,117.9 161.5,114.8 161.6,116.3 161.7,117.8 161.8,113.7 162.0,113.9 162.1,115.5 162.2,118.0 162.3,117.7 162.4,118.4 162.6,114.6 162.7,118.7 162.8,117.3 162.9,117.2 163.0,119.1 163.2,119.7 163.3,118.7 163.4,119.7 163.5,123.0 163.6,118.8 163.8,123.9 163.9,122.0 164.0,119.9 164.1,123.4 164.2,119.3 164.4,117.7 164.5,120.6 164.6,122.0 164.7,118.1 164.8,121.5 165.0,121.7 165.1,121.1 165.2,120.1 165.3,119.9 165.4,115.1 165.6,119.1 165.7,119.5 165.8,119.9 165.9,118.3 166.0,115.3 166.2,120.5 166.3,119.1 166.4,118.1 166.5,120.2 166.6,120.6 166.8,120.3 166.9,119.9 167.0,121.8 167.1,118.6 167.2,121.9 167.4,119.8 167.5,119.8 167.6,121.0 167.7,120.4 167.8,119.4 168.0,122.6 168.1,120.8 168.2,122.5 168.3,120.3 168.4,122.2 168.6,121.4 168.7,119.5 168.8,118.8 168.9,120.4 169.0,118.5 169.2,123.0 169.3,120.7 169.4,119.7 169.5,116.7 169.6,120.4 169.8,118.4 169.9,116.1 170.0,117.5 170.1,114.2 170.2,113.5 170.4,113.4 170.5,110.6 170.6,109.9 170.7,110.7 170.8,111.4 171.0,112.7 171.1,114.5 171.2,117.0 171.3,114.5 171.4,119.1 171.6,116.9 171.7,117.2 171.8,123.4 171.9,120.8 172.0,122.9 172.2,120.2 172.3,119.4 172.4,122.0 172.5,121.0 172.6,119.8 172.8,121.2 172.9,121.4 173.0,122.6 173.1,119.8 173.2,121.8 173.4,119.2 173.5,119.3 173.6,123.1 173.7,121.2 173.8,120.1 173.9,121.3 174.1,119.8 174.2,121.4 174.3,119.7 174.4,120.3 174.5,120.6 174.7,121.9 174.8,119.0 174.9,122.5 175.0,120.0 175.1,118.8 175.3,122.1 175.4,119.1 175.5,117.4 175.6,120.4 175.7,120.5 175.9,119.3 176.0,118.6 176.1,116.6 176.2,119.3 176.3,116.1 176.5,117.4 176.6,115.4 176.7,116.0 176.8,118.1 176.9,115.2 177.1,115.3 177.2,117.6 177.3,119.6 177.4,119.6 177.5,119.5 177.7,118.6 177.8,119.8 177.9,118.8 178.0,121.5 178.1,122.8 178.3,120.4 178.4,122.2 178.5,119.5 178.6,119.7 178.7,121.2 178.9,122.0 179.0,120.4 179.1,119.6 179.2,120.8 179.3,121.0 179.5,119.6 179.6,119.3 179.7,122.2 179.8,121.2 179.9,124.1 180.1,120.9 180.2,121.6 180.3,120.6 180.4,121.8 180.5,121.4 180.7,121.7 180.8,121.6 180.9,120.6 181.0,120.9 181.1,118.1 181.3,118.3 181.4,118.9 181.5,118.0 181.6,119.5 181.7,120.6 181.9,118.1 182.0,116.9 182.1,116.5 182.2,118.8 182.3,116.3 182.5,117.5 182.6,115.8 182.7,119.9 182.8,122.8 182.9,118.8 183.1,119.6 183.2,116.2 183.3,120.4 183.4,120.5 183.5,118.3 183.7,124.7 183.8,123.1 183.9,123.7 184.0,120.9 184.1,121.7 184.3,120.6 184.4,123.3 184.5,122.2 184.6,120.6 184.7,121.3 184.9,121.5 185.0,119.6 185.1,121.7 185.2,121.9 185.3,120.8 185.5,120.6 185.6,121.6 185.7,122.7 185.8,122.8 185.9,122.6 186.0,121.3 186.2,121.9 186.3,124.0 186.4,120.9 186.5,120.9 186.6,117.8 186.8,120.1 186.9,117.5 187.0,118.3 187.1,116.3 187.2,118.4 187.4,118.2 187.5,115.5 187.6,113.2 187.7,111.7 187.8,110.0 188.0,111.5 188.1,107.2 188.2,108.7 188.3,105.7 188.4,110.9 188.6,112.0 188.7,110.2 188.8,117.6 188.9,113.6 189.0,116.8 189.2,119.6 189.3,119.6 189.4,119.9 189.5,119.6 189.6,121.2 189.8,119.3 189.9,119.9 190.0,120.7 190.1,118.6 190.2,122.6 190.4,121.2 190.5,119.2 190.6,119.6 190.7,118.9 190.8,120.0 191.0,121.6 191.1,119.4 191.2,121.8 191.3,119.9 191.4,121.2 191.6,119.7 191.7,123.9 191.8,119.8 191.9,121.8 192.0,118.4 192.2,119.1 192.3,119.2 192.4,121.7 192.5,121.2 192.6,122.6 192.8,120.7 192.9,120.0 193.0,120.4 193.1,119.7 193.2,122.8 193.4,121.3 193.5,120.6 193.6,121.3 193.7,123.5 193.8,122.2 194.0,121.6 194.1,123.0 194.2,120.7 194.3,122.0 194.4,120.8 194.6,120.8 194.7,120.9 194.8,120.2 194.9,120.4 195.0,121.2 195.2,120.3 195.3,119.9 195.4,121.7 195.5,120.2 195.6,119.5 195.8,121.9 195.9,118.4 196.0,120.5 196.1,119.2 196.2,118.6 196.4,122.7 196.5,120.1 196.6,122.0 196.7,121.1 196.8,123.9 197.0,120.6 197.1,119.1 197.2,122.8 197.3,119.5 197.4,122.4 197.6,121.6 197.7,122.2 197.8,120.5 197.9,122.1 198.0,121.4 198.1,121.7 198.3,123.1 198.4,120.8 198.5,121.3 198.6,119.8 198.7,120.4 198.9,120.9 199.0,121.0 199.1,119.6 199.2,119.4 199.3,121.5 199.5,122.9 199.6,121.3 199.7,121.6 199.8,120.2 199.9,121.1 200.1,120.8 200.2,119.7 200.3,120.1 200.4,121.4 200.5,118.4 200.7,119.9 200.8,120.7 200.9,118.7 201.0,117.2 201.1,116.2 201.3,115.5 201.4,116.7 201.5,115.0 201.6,114.0 201.7,115.5 201.9,115.9 202.0,112.8 202.1,113.0 202.2,114.9 202.3,116.9 202.5,117.5 202.6,118.0 202.7,120.0 202.8,115.6 202.9,120.8 203.1,120.9 203.2,122.2 203.3,118.0 203.4,121.9 203.5,119.4 203.7,122.6 203.8,117.9 203.9,117.6 204.0,121.2 204.1,119.1 204.3,122.2 204.4,122.1 204.5,119.0 204.6,120.7 204.7,121.2 204.9,121.4 205.0,120.6 205.1,122.4 205.2,119.6 205.3,124.1 205.5,122.0 205.6,121.4 205.7,119.7 205.8,121.0 205.9,122.2 206.1,124.4 206.2,117.8 206.3,122.7 206.4,120.2 206.5,122.7 206.7,119.9 206.8,123.1 206.9,122.5 207.0,121.6 207.1,123.2 207.3,120.7 207.4,121.0 207.5,120.0 207.6,120.4 207.7,122.0 207.9,122.8 208.0,122.1 208.1,120.0 208.2,123.3 208.3,120.3 208.5,123.4 208.6,120.6 208.7,120.8 208.8,121.9 208.9,123.6 209.1,120.2 209.2,120.6 209.3,122.2 209.4,119.5 209.5,121.0 209.7,122.5 209.8,123.7 209.9,120.5 210.0,120.7 210.1,121.4 210.2,120.0 210.4,116.6 210.5,118.5 210.6,118.3 210.7,119.9 210.8,117.9 211.0,117.1 211.1,119.0 211.2,120.3 211.3,120.3 211.4,119.2 211.6,119.7 211.7,121.5 211.8,118.7 211.9,120.6 212.0,120.8 212.2,121.1 212.3,122.9 212.4,122.9 212.5,123.9 212.6,120.3 212.8,120.6 212.9,120.6 213.0,118.9 213.1,120.7 213.2,119.5 213.4,120.3 213.5,120.0 213.6,122.4 213.7,121.4 213.8,121.8 214.0,121.2 214.1,124.2 214.2,119.5 214.3,120.7 214.4,117.2 214.6,121.3 214.7,119.8 214.8,122.4 214.9,119.3 215.0,121.3 215.2,117.5 215.3,116.5 215.4,123.0 215.5,120.8 215.6,120.7 215.8,119.5 215.9,120.3 216.0,117.2 216.1,114.6 216.2,115.0 216.4,112.7 216.5,113.0 216.6,112.1 216.7,111.8 216.8,116.0 217.0,113.1 217.1,118.3 217.2,119.3 217.3,116.3 217.4,120.1 217.6,119.8 217.7,117.4 217.8,120.4 217.9,121.2 218.0,121.1 218.2,121.0 218.3,120.1 218.4,120.7 218.5,121.6 218.6,118.0 218.8,120.1 218.9,122.7 219.0,120.3 219.1,121.6 219.2,121.4 219.4,118.3 219.5,118.9 219.6,120.3 219.7,118.6 219.8,122.6 220.0,119.2 220.1,118.8 220.2,120.4 220.3,121.8 220.4,118.7 220.6,118.4 220.7,119.0 220.8,118.8 220.9,118.5 221.0,116.8 221.2,114.3 221.3,117.1 221.4,114.9 221.5,117.6 221.6,116.2 221.7,116.3 221.9,114.4 222.0,113.9 222.1,114.0 222.2,118.2 222.3,114.9 222.5,117.4 222.6,116.6 222.7,117.8 222.8,115.2 222.9,118.8 223.1,120.5 223.2,116.6 223.3,118.8 223.4,117.8 223.5,116.7 223.7,120.7 223.8,118.9 223.9,115.6 224.0,118.2 224.1,116.9 224.3,116.8 224.4,115.2 224.5,116.8 224.6,115.2 224.7,115.5 224.9,116.2 225.0,116.0 225.1,114.7 225.2,114.0 225.3,117.5 225.5,117.2 225.6,116.4 225.7,116.3 225.8,113.8 225.9,117.4 226.1,117.7 226.2,118.2 226.3,116.5 226.4,116.9 226.5,116.6 226.7,119.1 226.8,116.9 226.9,116.9 227.0,120.4 227.1,117.5 227.3,119.1 227.4,117.9 227.5,116.3 227.6,117.4 227.7,117.9 227.9,115.9 228.0,114.7 228.1,116.1 228.2,117.4 228.3,116.4 228.5,113.8 228.6,115.3 228.7,118.5 228.8,119.4 228.9,118.0 229.1,117.7 229.2,115.4 229.3,121.0 229.4,118.8 229.5,118.4 229.7,118.2 229.8,121.4 229.9,119.3 230.0,119.7 230.1,120.2 230.3,120.3 230.4,121.8 230.5,120.0 230.6,121.5 230.7,122.7 230.9,121.7 231.0,120.7 231.1,118.6 231.2,121.0 231.3,119.0 231.5,121.7 231.6,122.0 231.7,122.8 231.8,119.1 231.9,120.8 232.1,119.1 232.2,120.2 232.3,119.8 232.4,120.3 232.5,119.5 232.7,115.1 232.8,119.6 232.9,118.3 233.0,117.5 233.1,116.7 233.3,119.2 233.4,120.4 233.5,120.4 233.6,118.6 233.7,122.5 233.8,120.9 234.0,122.6 234.1,122.1 234.2,122.4 234.3,120.6 234.4,120.2 234.6,121.8 234.7,121.2 234.8,121.5 234.9,122.0 235.0,119.4 235.2,123.0 235.3,121.5 235.4,120.3 235.5,121.4 235.6,121.5 235.8,119.8 235.9,124.7 236.0,120.9 236.1,119.7 236.2,122.1 236.4,117.8 236.5,121.1 236.6,121.0 236.7,121.0 236.8,121.6 237.0,118.3 237.1,123.4 237.2,122.3 237.3,120.6 237.4,120.2 237.6,123.0 237.7,119.6 237.8,123.3 237.9,122.6 238.0,120.2 238.2,120.8 238.3,121.5 238.4,120.8 238.5,120.9 238.6,120.1 238.8,122.9 238.9,122.5 239.0,119.1 239.1,120.7 239.2,119.8 239.4,123.1 239.5,125.8 239.6,120.4" fill="none" stroke="#111" stroke-width="1.15" stroke-linejoin="round"/>
<polyline points="0.0,187.1 0.1,186.0 0.3,186.6 0.4,187.7 0.6,189.3 0.7,185.9 0.9,185.6 1.0,188.3 1.2,185.1 1.3,187.2 1.4,184.1 1.6,186.2 1.7,187.1 1.9,185.5 2.0,186.7 2.2,186.7 2.3,186.7 2.4,186.9 2.6,186.1 2.7,186.0 2.9,186.4 3.0,185.0 3.2,188.2 3.3,187.3 3.5,186.0 3.6,188.0 3.7,185.2 3.9,186.1 4.0,187.0 4.2,186.2 4.3,187.4 4.5,188.3 4.6,185.9 4.7,185.8 4.9,186.7 5.0,186.8 5.2,188.9 5.3,187.6 5.5,187.3 5.6,186.5 5.8,185.4 5.9,187.3 6.0,187.6 6.2,185.8 6.3,186.9 6.5,188.2 6.6,185.6 6.8,187.6 6.9,187.4 7.0,187.8 7.2,186.4 7.3,185.7 7.5,187.2 7.6,186.4 7.8,187.3 7.9,184.4 8.1,185.3 8.2,187.4 8.3,186.2 8.5,185.8 8.6,186.4 8.8,187.5 8.9,186.9 9.1,186.0 9.2,186.3 9.3,187.6 9.5,186.3 9.6,187.8 9.8,188.9 9.9,186.6 10.1,185.8 10.2,186.3 10.4,185.3 10.5,185.0 10.6,186.4 10.8,187.4 10.9,186.8 11.1,188.2 11.2,186.8 11.4,186.9 11.5,186.6 11.6,185.7 11.8,188.9 11.9,186.0 12.1,187.3 12.2,186.0 12.4,186.6 12.5,187.8 12.7,185.9 12.8,187.5 12.9,186.2 13.1,187.4 13.2,187.3 13.4,186.7 13.5,184.8 13.7,186.1 13.8,186.8 13.9,185.1 14.1,186.7 14.2,187.1 14.4,187.8 14.5,186.6 14.7,186.7 14.8,187.5 15.0,188.7 15.1,186.9 15.2,186.7 15.4,187.2 15.5,187.7 15.7,187.9 15.8,187.3 16.0,185.4 16.1,186.6 16.2,188.4 16.4,186.1 16.5,187.2 16.7,184.4 16.8,187.1 17.0,186.8 17.1,186.6 17.3,186.5 17.4,186.7 17.5,186.7 17.7,187.0 17.8,187.3 18.0,187.2 18.1,188.0 18.3,187.3 18.4,187.4 18.5,187.2 18.7,187.2 18.8,186.9 19.0,186.3 19.1,187.1 19.3,186.7 19.4,186.5 19.6,187.1 19.7,186.9 19.8,186.4 20.0,188.5 20.1,186.1 20.3,187.2 20.4,190.5 20.6,186.2 20.7,188.0 20.8,185.9 21.0,187.8 21.1,187.0 21.3,186.1 21.4,187.6 21.6,187.8 21.7,186.9 21.9,185.4 22.0,185.6 22.1,185.3 22.3,186.4 22.4,186.3 22.6,185.7 22.7,186.2 22.9,187.6 23.0,186.0 23.1,187.3 23.3,187.6 23.4,186.6 23.6,186.8 23.7,185.9 23.9,186.5 24.0,187.2 24.2,186.8 24.3,187.3 24.4,187.1 24.6,185.5 24.7,186.3 24.9,187.1 25.0,187.1 25.2,187.3 25.3,186.9 25.4,188.3 25.6,186.1 25.7,187.0 25.9,186.0 26.0,185.8 26.2,186.4 26.3,187.8 26.5,188.0 26.6,185.9 26.7,185.9 26.9,188.1 27.0,187.7 27.2,185.6 27.3,186.6 27.5,184.6 27.6,186.2 27.7,185.7 27.9,186.8 28.0,187.2 28.2,188.2 28.3,189.5 28.5,185.5 28.6,185.8 28.8,187.2 28.9,185.6 29.0,188.2 29.2,185.0 29.3,186.1 29.5,184.8 29.6,188.3 29.8,185.1 29.9,185.5 30.0,186.1 30.2,187.3 30.3,186.0 30.5,186.0 30.6,186.8 30.8,187.4 30.9,186.7 31.1,185.6 31.2,183.0 31.3,181.9 31.5,180.1 31.6,180.3 31.8,181.9 31.9,180.9 32.1,182.0 32.2,182.0 32.3,181.3 32.5,184.1 32.6,185.3 32.8,184.8 32.9,185.0 33.1,185.0 33.2,187.2 33.4,187.2 33.5,186.9 33.6,185.7 33.8,186.3 33.9,187.5 34.1,184.6 34.2,187.1 34.4,186.7 34.5,186.7 34.6,187.4 34.8,186.6 34.9,186.6 35.1,186.3 35.2,186.3 35.4,187.2 35.5,187.6 35.7,185.5 35.8,186.9 35.9,185.5 36.1,186.2 36.2,183.9 36.4,186.7 36.5,188.3 36.7,187.0 36.8,185.4 36.9,184.7 37.1,184.8 37.2,185.9 37.4,185.0 37.5,187.6 37.7,187.2 37.8,187.5 38.0,185.9 38.1,185.2 38.2,186.5 38.4,186.1 38.5,187.0 38.7,186.9 38.8,186.4 39.0,184.9 39.1,185.9 39.2,185.9 39.4,185.3 39.5,185.7 39.7,187.1 39.8,184.4 40.0,186.3 40.1,186.1 40.3,186.0 40.4,185.2 40.5,185.9 40.7,185.0 40.8,183.3 41.0,185.8 41.1,186.7 41.3,182.8 41.4,183.6 41.5,182.8 41.7,182.4 41.8,183.4 42.0,182.6 42.1,184.7 42.3,182.8 42.4,182.7 42.6,184.4 42.7,184.2 42.8,183.8 43.0,183.7 43.1,184.6 43.3,183.2 43.4,184.2 43.6,184.4 43.7,187.4 43.8,186.1 44.0,185.6 44.1,186.4 44.3,185.8 44.4,186.8 44.6,187.1 44.7,186.3 44.9,186.2 45.0,186.7 45.1,186.4 45.3,185.4 45.4,185.9 45.6,185.5 45.7,185.8 45.9,186.3 46.0,186.7 46.1,184.5 46.3,186.2 46.4,185.5 46.6,187.0 46.7,187.8 46.9,187.6 47.0,186.6 47.2,187.5 47.3,185.4 47.4,186.6 47.6,186.6 47.7,184.3 47.9,186.4 48.0,186.4 48.2,182.9 48.3,185.2 48.4,185.3 48.6,185.6 48.7,183.2 48.9,182.5 49.0,185.3 49.2,180.3 49.3,176.8 49.5,172.5 49.6,170.7 49.7,165.8 49.9,162.8 50.0,166.1 50.2,173.1 50.3,175.5 50.5,180.2 50.6,180.8 50.7,186.7 50.9,183.3 51.0,184.6 51.2,184.0 51.3,186.7 51.5,185.8 51.6,186.8 51.8,185.2 51.9,185.5 52.0,183.7 52.2,184.9 52.3,188.2 52.5,185.4 52.6,185.6 52.8,184.5 52.9,184.9 53.0,186.4 53.2,185.8 53.3,184.2 53.5,186.1 53.6,185.0 53.8,186.3 53.9,183.8 54.1,183.6 54.2,184.7 54.3,185.8 54.5,185.2 54.6,184.8 54.8,184.9 54.9,184.2 55.1,186.1 55.2,185.9 55.3,185.6 55.5,183.6 55.6,186.0 55.8,184.6 55.9,183.9 56.1,186.6 56.2,187.2 56.4,187.3 56.5,184.8 56.6,185.0 56.8,185.8 56.9,186.8 57.1,185.7 57.2,187.5 57.4,185.4 57.5,185.9 57.6,186.0 57.8,184.6 57.9,187.2 58.1,187.4 58.2,185.7 58.4,185.0 58.5,187.2 58.7,187.3 58.8,186.4 58.9,185.6 59.1,187.0 59.2,185.2 59.4,183.9 59.5,186.2 59.7,186.7 59.8,183.7 59.9,187.4 60.1,184.7 60.2,184.7 60.4,187.4 60.5,184.9 60.7,184.0 60.8,185.9 61.0,187.9 61.1,186.1 61.2,183.0 61.4,186.2 61.5,183.8 61.7,186.3 61.8,185.3 62.0,185.6 62.1,184.8 62.2,184.1 62.4,184.6 62.5,185.6 62.7,184.8 62.8,185.0 63.0,185.3 63.1,185.6 63.3,185.8 63.4,184.8 63.5,182.8 63.7,185.2 63.8,185.2 64.0,186.5 64.1,186.2 64.3,184.1 64.4,186.1 64.5,185.3 64.7,184.9 64.8,186.5 65.0,184.7 65.1,185.0 65.3,185.2 65.4,186.7 65.6,185.5 65.7,187.7 65.8,185.4 66.0,185.2 66.1,185.7 66.3,184.6 66.4,186.4 66.6,185.4 66.7,186.1 66.8,184.1 67.0,184.6 67.1,182.7 67.3,184.7 67.4,183.1 67.6,183.7 67.7,183.4 67.9,183.0 68.0,182.2 68.1,182.6 68.3,185.9 68.4,184.0 68.6,185.9 68.7,184.7 68.9,186.2 69.0,184.4 69.1,184.7 69.3,185.7 69.4,187.0 69.6,187.7 69.7,187.6 69.9,186.5 70.0,185.6 70.2,185.3 70.3,185.3 70.4,187.4 70.6,186.6 70.7,185.6 70.9,186.0 71.0,186.7 71.2,187.9 71.3,184.7 71.4,186.7 71.6,188.3 71.7,186.2 71.9,186.4 72.0,186.8 72.2,186.7 72.3,187.9 72.5,185.2 72.6,186.7 72.7,188.6 72.9,186.9 73.0,189.4 73.2,186.4 73.3,187.4 73.5,186.3 73.6,185.8 73.7,186.6 73.9,184.1 74.0,186.3 74.2,185.9 74.3,186.4 74.5,186.7 74.6,187.3 74.8,185.3 74.9,185.7 75.0,184.8 75.2,187.0 75.3,187.2 75.5,186.6 75.6,186.3 75.8,186.5 75.9,188.3 76.0,186.4 76.2,186.0 76.3,185.8 76.5,186.6 76.6,186.2 76.8,184.9 76.9,184.8 77.1,186.0 77.2,186.0 77.3,185.9 77.5,185.0 77.6,185.7 77.8,185.6 77.9,184.2 78.1,186.2 78.2,186.6 78.3,185.5 78.5,183.3 78.6,184.5 78.8,186.5 78.9,183.5 79.1,183.8 79.2,183.0 79.4,184.2 79.5,181.9 79.6,180.0 79.8,176.0 79.9,175.4 80.1,172.4 80.2,170.4 80.4,165.0 80.5,165.6 80.6,164.6 80.8,167.6 80.9,169.1 81.1,173.3 81.2,173.3 81.4,175.8 81.5,176.4 81.7,173.5 81.8,174.7 81.9,170.5 82.1,167.2 82.2,163.8 82.4,160.5 82.5,156.0 82.7,156.5 82.8,153.2 82.9,154.8 83.1,159.5 83.2,163.6 83.4,169.0 83.5,172.2 83.7,175.1 83.8,176.7 84.0,177.1 84.1,182.5 84.2,180.8 84.4,182.5 84.5,182.9 84.7,183.5 84.8,184.7 85.0,184.5 85.1,184.0 85.2,182.7 85.4,184.1 85.5,181.9 85.7,181.7 85.8,182.8 86.0,181.6 86.1,180.2 86.3,183.0 86.4,182.7 86.5,181.2 86.7,181.9 86.8,184.2 87.0,185.1 87.1,183.8 87.3,183.4 87.4,185.6 87.5,186.2 87.7,184.1 87.8,184.5 88.0,186.8 88.1,186.4 88.3,185.8 88.4,184.4 88.6,184.7 88.7,185.4 88.8,187.4 89.0,182.7 89.1,186.2 89.3,183.4 89.4,183.5 89.6,184.4 89.7,184.5 89.8,185.7 90.0,185.9 90.1,185.5 90.3,185.7 90.4,183.9 90.6,184.8 90.7,181.0 90.9,178.7 91.0,183.4 91.1,180.6 91.3,176.1 91.4,174.2 91.6,172.2 91.7,168.8 91.9,164.6 92.0,162.4 92.2,157.7 92.3,154.4 92.4,153.1 92.6,152.6 92.7,156.5 92.9,158.8 93.0,165.2 93.2,166.6 93.3,170.9 93.4,171.1 93.6,172.9 93.7,178.1 93.9,179.9 94.0,181.5 94.2,182.1 94.3,183.8 94.5,182.4 94.6,184.2 94.7,182.4 94.9,183.5 95.0,185.1 95.2,185.5 95.3,184.0 95.5,185.5 95.6,187.0 95.7,185.5 95.9,186.2 96.0,183.0 96.2,185.4 96.3,186.0 96.5,187.8 96.6,184.0 96.8,184.7 96.9,185.2 97.0,185.2 97.2,184.5 97.3,183.4 97.5,183.6 97.6,183.7 97.8,182.2 97.9,184.4 98.0,181.8 98.2,181.2 98.3,181.7 98.5,181.5 98.6,181.0 98.8,182.7 98.9,184.8 99.1,183.3 99.2,183.0 99.3,183.2 99.5,183.6 99.6,183.0 99.8,184.1 99.9,186.6 100.1,183.5 100.2,183.4 100.3,180.6 100.5,178.4 100.6,178.3 100.8,174.5 100.9,175.9 101.1,172.5 101.2,174.6 101.4,175.2 101.5,177.2 101.6,176.9 101.8,176.7 101.9,180.3 102.1,180.5 102.2,179.4 102.4,180.4 102.5,178.1 102.6,176.9 102.8,175.7 102.9,174.0 103.1,169.1 103.2,169.6 103.4,170.7 103.5,169.3 103.7,172.5 103.8,176.0 103.9,177.7 104.1,177.8 104.2,179.3 104.4,178.4 104.5,179.9 104.7,179.0 104.8,175.4 104.9,171.0 105.1,168.2 105.2,158.4 105.4,152.1 105.5,148.4 105.7,143.3 105.8,137.3 106.0,137.7 106.1,140.0 106.2,144.9 106.4,152.2 106.5,161.5 106.7,161.8 106.8,169.8 107.0,171.8 107.1,172.2 107.2,172.9 107.4,171.6 107.5,168.7 107.7,167.4 107.8,161.2 108.0,155.9 108.1,153.8 108.3,149.6 108.4,149.4 108.5,154.6 108.7,156.6 108.8,161.5 109.0,163.4 109.1,167.5 109.3,169.9 109.4,166.2 109.5,165.1 109.7,163.7 109.8,164.1 110.0,163.4 110.1,163.4 110.3,166.3 110.4,170.7 110.6,173.0 110.7,175.1 110.8,179.2 111.0,180.4 111.1,182.5 111.3,181.6 111.4,183.5 111.6,183.9 111.7,183.2 111.8,184.0 112.0,185.2 112.1,183.7 112.3,186.5 112.4,186.5 112.6,184.8 112.7,185.5 112.9,184.1 113.0,185.1 113.1,185.2 113.3,184.3 113.4,186.0 113.6,187.0 113.7,184.7 113.9,186.2 114.0,184.9 114.1,186.2 114.3,185.4 114.4,185.7 114.6,186.0 114.7,185.6 114.9,184.3 115.0,184.6 115.2,183.5 115.3,184.5 115.4,183.5 115.6,182.8 115.7,180.6 115.9,176.9 116.0,173.6 116.2,168.8 116.3,163.8 116.4,160.8 116.6,159.9 116.7,161.2 116.9,160.6 117.0,165.9 117.2,174.4 117.3,174.4 117.5,176.6 117.6,180.7 117.7,181.5 117.9,183.3 118.0,183.5 118.2,184.5 118.3,184.2 118.5,184.9 118.6,184.6 118.7,185.8 118.9,184.8 119.0,185.8 119.2,187.4 119.3,185.2 119.5,185.1 119.6,186.1 119.8,183.4 119.9,184.9 120.0,183.2 120.2,183.7 120.3,182.4 120.5,181.4 120.6,180.2 120.8,181.9 120.9,182.8 121.0,180.1 121.2,182.5 121.3,180.8 121.5,184.1 121.6,186.1 121.8,184.5 121.9,184.4 122.1,185.0 122.2,185.9 122.3,185.0 122.5,186.8 122.6,186.8 122.8,185.3 122.9,184.1 123.1,186.8 123.2,183.1 123.3,182.6 123.5,181.5 123.6,178.0 123.8,175.8 123.9,173.2 124.1,171.1 124.2,171.7 124.4,172.7 124.5,175.3 124.6,179.7 124.8,181.2 124.9,185.1 125.1,184.5 125.2,186.3 125.4,185.9 125.5,185.6 125.6,185.2 125.8,186.3 125.9,183.4 126.1,185.9 126.2,187.6 126.4,184.0 126.5,186.2 126.7,186.3 126.8,185.2 126.9,186.6 127.1,184.4 127.2,183.8 127.4,184.3 127.5,185.4 127.7,185.8 127.8,184.2 127.9,183.4 128.1,183.2 128.2,182.6 128.4,180.3 128.5,180.9 128.7,181.4 128.8,181.0 129.0,178.9 129.1,177.8 129.2,180.5 129.4,181.8 129.5,183.2 129.7,182.1 129.8,185.6 130.0,185.3 130.1,183.2 130.2,185.2 130.4,185.1 130.5,183.3 130.7,183.1 130.8,183.6 131.0,181.8 131.1,184.6 131.3,182.5 131.4,180.1 131.5,180.4 131.7,179.3 131.8,179.5 132.0,178.8 132.1,180.8 132.3,179.8 132.4,182.1 132.5,181.7 132.7,185.7 132.8,186.9 133.0,185.2 133.1,185.4 133.3,184.8 133.4,184.9 133.6,186.4 133.7,184.7 133.8,186.1 134.0,186.2 134.1,184.7 134.3,184.8 134.4,185.3 134.6,185.1 134.7,182.6 134.8,184.6 135.0,183.7 135.1,182.9 135.3,183.0 135.4,180.2 135.6,179.4 135.7,180.9 135.9,184.1 136.0,184.7 136.1,183.2 136.3,184.9 136.4,185.3 136.6,185.4 136.7,186.2 136.9,186.1 137.0,186.0 137.1,185.5 137.3,185.8 137.4,185.9 137.6,188.8 137.7,186.8 137.9,184.7 138.0,184.9 138.2,184.2 138.3,186.9 138.4,186.7 138.6,186.2 138.7,184.8 138.9,185.9 139.0,185.5 139.2,185.7 139.3,185.5 139.4,186.0 139.6,184.3 139.7,188.0 139.9,184.2 140.0,183.9 140.2,181.7 140.3,179.0 140.5,178.5 140.6,174.0 140.7,172.5 140.9,169.1 141.0,167.6 141.2,166.2 141.3,165.6 141.5,170.7 141.6,173.5 141.7,176.5 141.9,179.7 142.0,181.4 142.2,180.3 142.3,183.2 142.5,183.1 142.6,184.3 142.8,182.7 142.9,184.7 143.0,185.0 143.2,183.1 143.3,186.7 143.5,186.4 143.6,186.1 143.8,186.6 143.9,185.0 144.0,184.2 144.2,182.6 144.3,186.4 144.5,182.3 144.6,181.4 144.8,184.0 144.9,182.8 145.1,181.8 145.2,185.0 145.3,184.3 145.5,184.6 145.6,185.6 145.8,185.4 145.9,186.2 146.1,187.0 146.2,184.9 146.3,185.7 146.5,184.6 146.6,185.8 146.8,186.2 146.9,186.5 147.1,186.5 147.2,185.9 147.4,184.6 147.5,184.1 147.6,184.0 147.8,184.9 147.9,183.4 148.1,181.2 148.2,182.2 148.4,180.6 148.5,177.7 148.6,174.3 148.8,173.5 148.9,167.6 149.1,161.9 149.2,159.6 149.4,154.3 149.5,153.4 149.7,154.7 149.8,157.9 149.9,162.0 150.1,167.9 150.2,172.5 150.4,173.3 150.5,174.9 150.7,175.0 150.8,178.0 150.9,176.2 151.1,175.2 151.2,173.5 151.4,169.1 151.5,166.4 151.7,163.0 151.8,161.9 152.0,162.2 152.1,163.0 152.2,163.8 152.4,168.6 152.5,171.9 152.7,176.6 152.8,180.2 153.0,179.9 153.1,182.6 153.2,183.9 153.4,184.8 153.5,183.3 153.7,183.2 153.8,183.4 154.0,182.8 154.1,185.8 154.3,185.8 154.4,186.1 154.5,183.2 154.7,186.3 154.8,184.7 155.0,183.7 155.1,186.5 155.3,182.8 155.4,182.2 155.5,183.0 155.7,184.1 155.8,181.9 156.0,182.8 156.1,182.4 156.3,184.7 156.4,186.6 156.6,184.9 156.7,184.4 156.8,187.0 157.0,186.4 157.1,186.9 157.3,184.8 157.4,187.7 157.6,184.0 157.7,186.3 157.8,183.9 158.0,184.6 158.1,184.3 158.3,183.0 158.4,180.7 158.6,180.4 158.7,178.0 158.9,177.4 159.0,175.6 159.1,175.6 159.3,174.8 159.4,179.4 159.6,178.8 159.7,180.3 159.9,183.0 160.0,184.4 160.1,184.0 160.3,183.8 160.4,184.9 160.6,184.7 160.7,187.6 160.9,184.1 161.0,184.9 161.2,186.6 161.3,187.4 161.4,185.7 161.6,185.5 161.7,186.4 161.9,186.7 162.0,185.8 162.2,186.0 162.3,185.3 162.4,184.9 162.6,186.5 162.7,185.4 162.9,187.1 163.0,184.7 163.2,187.8 163.3,186.8 163.5,186.5 163.6,184.9 163.7,186.7 163.9,184.5 164.0,184.9 164.2,184.0 164.3,182.4 164.5,184.2 164.6,182.7 164.7,179.0 164.9,179.1 165.0,180.4 165.2,176.4 165.3,177.2 165.5,177.0 165.6,177.3 165.8,180.3 165.9,179.6 166.0,181.2 166.2,184.0 166.3,184.8 166.5,183.1 166.6,182.5 166.8,184.4 166.9,181.4 167.0,181.0 167.2,178.7 167.3,177.6 167.5,179.2 167.6,174.7 167.8,178.2 167.9,178.2 168.1,179.9 168.2,180.6 168.3,181.3 168.5,182.5 168.6,183.3 168.8,184.0 168.9,185.2 169.1,182.9 169.2,183.3 169.3,181.7 169.5,182.9 169.6,181.7 169.8,179.8 169.9,175.8 170.1,175.2 170.2,171.9 170.4,169.3 170.5,167.2 170.6,170.5 170.8,169.1 170.9,172.8 171.1,173.9 171.2,176.7 171.4,179.7 171.5,181.7 171.6,181.2 171.8,184.4 171.9,183.2 172.1,183.5 172.2,185.0 172.4,185.4 172.5,186.0 172.7,187.1 172.8,185.5 172.9,186.1 173.1,183.3 173.2,186.5 173.4,185.4 173.5,184.9 173.7,183.9 173.8,184.8 173.9,185.2 174.1,184.2 174.2,184.4 174.4,185.4 174.5,185.5 174.7,186.6 174.8,186.1 175.0,187.6 175.1,185.7 175.2,185.0 175.4,183.1 175.5,184.7 175.7,180.5 175.8,178.1 176.0,175.9 176.1,173.4 176.2,168.3 176.4,165.6 176.5,159.1 176.7,159.7 176.8,156.6 177.0,159.1 177.1,159.3 177.3,164.0 177.4,167.9 177.5,173.4 177.7,175.8 177.8,179.2 178.0,182.8 178.1,181.7 178.3,183.2 178.4,184.4 178.5,186.1 178.7,183.7 178.8,184.7 179.0,186.1 179.1,185.0 179.3,183.3 179.4,182.6 179.6,181.3 179.7,178.7 179.8,180.3 180.0,180.1 180.1,179.5 180.3,180.5 180.4,178.5 180.6,179.4 180.7,178.6 180.9,182.0 181.0,182.8 181.1,185.2 181.3,185.7 181.4,184.1 181.6,184.3 181.7,185.5 181.9,186.5 182.0,185.3 182.1,185.3 182.3,186.3 182.4,184.8 182.6,186.1 182.7,185.9 182.9,185.2 183.0,184.5 183.2,182.9 183.3,182.2 183.4,180.5 183.6,181.6 183.7,184.9 183.9,183.6 184.0,184.8 184.2,183.5 184.3,183.9 184.4,185.1 184.6,186.9 184.7,186.3 184.9,186.0 185.0,185.3 185.2,184.3 185.3,187.3 185.5,186.3 185.6,188.0 185.7,188.4 185.9,185.0 186.0,186.5 186.2,186.3 186.3,185.1 186.5,186.2 186.6,185.5 186.7,186.5 186.9,185.9 187.0,185.1 187.2,186.5 187.3,188.3 187.5,184.1 187.6,185.7 187.8,182.8 187.9,182.0 188.0,181.8 188.2,183.2 188.3,185.1 188.5,182.4 188.6,181.7 188.8,183.9 188.9,185.3 189.0,184.9 189.2,183.6 189.3,185.1 189.5,185.2 189.6,185.1 189.8,186.7 189.9,185.9 190.1,185.7 190.2,186.7 190.3,187.0 190.5,184.9 190.6,184.3 190.8,185.1 190.9,186.1 191.1,185.2 191.2,185.5 191.3,185.9 191.5,187.0 191.6,186.6 191.8,184.8 191.9,186.2 192.1,184.8 192.2,185.5 192.4,186.3 192.5,185.9 192.6,184.9 192.8,184.8 192.9,183.9 193.1,181.0 193.2,181.8 193.4,182.5 193.5,185.4 193.6,183.6 193.8,185.6 193.9,185.5 194.1,185.4 194.2,185.7 194.4,187.2 194.5,184.7 194.7,186.2 194.8,183.9 194.9,186.3 195.1,185.6 195.2,186.5 195.4,185.3 195.5,187.7 195.7,187.3 195.8,187.3 195.9,186.4 196.1,185.2 196.2,187.0 196.4,185.2 196.5,186.1 196.7,185.7 196.8,185.2 197.0,186.6 197.1,187.7 197.2,188.0 197.4,186.8 197.5,184.6 197.7,187.3 197.8,185.2 198.0,185.1 198.1,184.0 198.2,186.2 198.4,184.2 198.5,185.2 198.7,183.4 198.8,183.7 199.0,183.6 199.1,181.2 199.3,182.4 199.4,180.0 199.5,179.5 199.7,180.1 199.8,179.5 200.0,179.8 200.1,180.4 200.3,180.5 200.4,179.5 200.5,180.8 200.7,179.9 200.8,179.5 201.0,180.1 201.1,184.0 201.3,182.7 201.4,181.7 201.6,183.7 201.7,183.4 201.8,186.5 202.0,184.3 202.1,183.9 202.3,185.4 202.4,184.9 202.6,186.1 202.7,186.9 202.8,185.3 203.0,187.6 203.1,186.8 203.3,185.8 203.4,184.5 203.6,186.6 203.7,183.9 203.9,187.1 204.0,187.9 204.1,185.5 204.3,186.5 204.4,186.1 204.6,185.4 204.7,187.3 204.9,185.3 205.0,187.1 205.1,184.0 205.3,188.0 205.4,185.6 205.6,183.9 205.7,186.4 205.9,186.2 206.0,185.2 206.2,187.0 206.3,184.7 206.4,188.7 206.6,185.7 206.7,186.6 206.9,185.9 207.0,184.5 207.2,186.4 207.3,184.3 207.4,184.8 207.6,184.1 207.7,187.1 207.9,185.8 208.0,184.1 208.2,183.6 208.3,182.1 208.5,183.7 208.6,181.8 208.7,180.5 208.9,179.4 209.0,179.1 209.2,182.1 209.3,177.5 209.5,179.9 209.6,178.3 209.7,180.7 209.9,182.2 210.0,179.4 210.2,181.7 210.3,182.8 210.5,184.6 210.6,183.9 210.8,183.1 210.9,185.2 211.0,184.2 211.2,186.3 211.3,185.1 211.5,183.1 211.6,185.8 211.8,184.9 211.9,186.5 212.0,186.8 212.2,185.3 212.3,185.0 212.5,186.2 212.6,187.3 212.8,185.5 212.9,182.4 213.1,184.1 213.2,183.3 213.3,182.5 213.5,184.2 213.6,183.7 213.8,185.3 213.9,185.8 214.1,185.2 214.2,186.2 214.3,187.2 214.5,185.3 214.6,186.0 214.8,187.6 214.9,185.8 215.1,186.3 215.2,186.6 215.4,184.9 215.5,185.0 215.6,186.1 215.8,187.7 215.9,185.7 216.1,185.5 216.2,186.1 216.4,188.0 216.5,186.0 216.6,186.7 216.8,186.3 216.9,187.2 217.1,183.7 217.2,185.9 217.4,187.7 217.5,185.4 217.7,187.4 217.8,186.2 217.9,187.1 218.1,184.5 218.2,186.9 218.4,186.4 218.5,184.8 218.7,186.6 218.8,185.6 218.9,188.0 219.1,187.9 219.2,186.7 219.4,186.8 219.5,187.6 219.7,186.2 219.8,186.6 220.0,184.8 220.1,186.9 220.2,187.1 220.4,186.2 220.5,185.7 220.7,184.1 220.8,184.0 221.0,185.1 221.1,182.0 221.2,183.5 221.4,182.1 221.5,183.4 221.7,181.6 221.8,182.3 222.0,183.4 222.1,182.6 222.3,180.8 222.4,182.1 222.5,184.4 222.7,183.9 222.8,183.3 223.0,183.5 223.1,186.1 223.3,183.5 223.4,185.8 223.5,184.6 223.7,184.7 223.8,187.5 224.0,185.9 224.1,186.6 224.3,185.2 224.4,187.2 224.6,184.2 224.7,185.8 224.8,184.3 225.0,184.6 225.1,184.9 225.3,187.3 225.4,184.0 225.6,182.5 225.7,183.4 225.8,181.0 226.0,182.5 226.1,181.8 226.3,181.3 226.4,181.2 226.6,181.4 226.7,182.8 226.9,181.5 227.0,182.3 227.1,183.3 227.3,182.7 227.4,185.5 227.6,184.1 227.7,183.5 227.9,183.5 228.0,186.6 228.1,185.2 228.3,186.4 228.4,186.1 228.6,185.8 228.7,186.4 228.9,187.4 229.0,186.7 229.2,185.7 229.3,183.8 229.4,185.0 229.6,186.7 229.7,185.0 229.9,186.6 230.0,187.4 230.2,186.8 230.3,188.3 230.4,186.6 230.6,185.2 230.7,187.0 230.9,185.6 231.0,184.4 231.2,185.9 231.3,187.5 231.5,186.4 231.6,185.9 231.7,184.0 231.9,187.2 232.0,184.5 232.2,184.1 232.3,184.2 232.5,183.2 232.6,184.4 232.7,183.1 232.9,184.1 233.0,183.5 233.2,185.8 233.3,185.9 233.5,187.2 233.6,185.8 233.8,186.7 233.9,185.9 234.0,187.8 234.2,186.5 234.3,187.2 234.5,186.0 234.6,187.4 234.8,186.0 234.9,184.6 235.0,187.5 235.2,187.6 235.3,188.2 235.5,186.0 235.6,187.2 235.8,185.0 235.9,186.9 236.1,187.0 236.2,185.7 236.3,186.6 236.5,186.7 236.6,187.2 236.8,186.3 236.9,187.8 237.1,186.7 237.2,185.6 237.3,185.9 237.5,186.0 237.6,186.8 237.8,186.0 237.9,187.2 238.1,186.5 238.2,188.8 238.4,187.1 238.5,186.9 238.6,186.5 238.8,188.7 238.9,187.7 239.1,185.7 239.2,187.9 239.4,186.9 239.5,187.3" fill="none" stroke="#111" stroke-width="1.15" stroke-linejoin="round"/>
<polyline points="0.0,448.0 0.4,447.8 0.8,448.3 1.2,448.5 1.5,448.1 1.9,448.2 2.3,448.3 2.7,448.1 3.1,448.2 3.5,448.2 3.8,448.1 4.2,447.9 4.6,448.1 5.0,448.2 5.4,448.0 5.8,448.1 6.1,448.3 6.5,448.4 6.9,447.9 7.3,448.1 7.7,448.7 8.1,448.8 8.4,448.4 8.8,447.7 9.2,447.6 9.6,447.7 10.0,447.9 10.4,447.9 10.7,448.0 11.1,448.1 11.5,448.1 11.9,448.3 12.3,448.3 12.7,448.2 13.0,448.0 13.4,447.9 13.8,448.1 14.2,448.2 14.6,448.0 15.0,448.1 15.3,448.2 15.7,448.1 16.1,448.4 16.5,448.4 16.9,448.4 17.3,448.3 17.6,448.3 18.0,448.2 18.4,448.0 18.8,448.1 19.2,448.2 19.6,448.1 19.9,448.2 20.3,448.1 20.7,447.9 21.1,448.0 21.5,447.7 21.9,447.6 22.2,448.0 22.6,448.2 23.0,448.3 23.4,448.3 23.8,448.0 24.2,448.1 24.5,448.3 24.9,448.2 25.3,448.0 25.7,448.2 26.1,448.4 26.5,448.1 26.8,447.9 27.2,447.7 27.6,447.7 28.0,447.4 28.4,447.2 28.8,446.7 29.1,447.0 29.5,447.4 29.9,447.4 30.3,447.8 30.7,447.5 31.1,447.1 31.4,447.9 31.8,448.4 32.2,448.1 32.6,448.5 33.0,448.5 33.4,448.0 33.7,448.0 34.1,448.4 34.5,448.3 34.9,447.9 35.3,448.1 35.7,448.3 36.0,448.1 36.4,447.8 36.8,448.1 37.2,448.2 37.6,448.0 38.0,448.3 38.3,448.4 38.7,448.4 39.1,448.6 39.5,448.2 39.9,448.1 40.3,448.2 40.6,448.2 41.0,448.0 41.4,447.8 41.8,448.1 42.2,448.2 42.6,448.1 42.9,447.8 43.3,447.8 43.7,448.3 44.1,448.2 44.5,448.2 44.9,448.1 45.2,448.0 45.6,448.3 46.0,448.4 46.4,448.3 46.8,448.0 47.2,447.3 47.5,447.2 47.9,447.6 48.3,447.6 48.7,447.5 49.1,447.3 49.5,446.9 49.8,446.9 50.2,446.6 50.6,445.8 51.0,444.5 51.4,443.7 51.8,443.4 52.1,443.2 52.5,444.1 52.9,445.0 53.3,445.6 53.7,446.7 54.1,447.6 54.4,447.8 54.8,447.7 55.2,447.7 55.6,447.4 56.0,447.7 56.4,448.1 56.7,447.8 57.1,447.5 57.5,447.5 57.9,447.6 58.3,447.5 58.7,447.4 59.0,447.7 59.4,447.8 59.8,447.8 60.2,447.7 60.6,447.3 61.0,447.9 61.3,447.7 61.7,447.0 62.1,446.9 62.5,446.5 62.9,446.7 63.3,446.8 63.6,446.2 64.0,446.1 64.4,446.1 64.8,446.2 65.2,446.6 65.6,446.4 65.9,445.6 66.3,445.0 66.7,444.5 67.1,443.6 67.5,441.9 67.9,440.3 68.2,439.2 68.6,439.1 69.0,440.3 69.4,441.6 69.8,442.6 70.2,443.6 70.5,444.2 70.9,445.1 71.3,445.9 71.7,446.1 72.1,446.3 72.5,446.1 72.8,445.8 73.2,445.7 73.6,445.7 74.0,445.5 74.4,445.3 74.8,445.2 75.1,445.1 75.5,445.8 75.9,445.9 76.3,446.0 76.7,446.2 77.1,445.9 77.4,446.0 77.8,446.1 78.2,445.9 78.6,446.0 79.0,445.2 79.4,444.3 79.7,444.0 80.1,443.5 80.5,442.6 80.9,441.1 81.3,440.3 81.7,440.4 82.0,440.5 82.4,440.4 82.8,440.5 83.2,439.9 83.6,439.0 84.0,438.5 84.3,438.7 84.7,439.3 85.1,439.9 85.5,441.4 85.9,442.5 86.3,442.7 86.6,443.3 87.0,443.6 87.4,443.2 87.8,442.8 88.2,442.2 88.6,440.2 88.9,435.8 89.3,427.8 89.7,415.2 90.1,401.1 90.5,395.5 90.9,404.7 91.2,419.1 91.6,430.1 92.0,437.3 92.4,440.8 92.8,442.1 93.2,443.1 93.5,443.1 93.9,442.5 94.3,441.3 94.7,440.5 95.1,439.4 95.5,438.6 95.8,439.8 96.2,441.4 96.6,442.8 97.0,443.5 97.4,443.8 97.8,443.9 98.1,444.2 98.5,444.4 98.9,444.3 99.3,444.5 99.7,443.9 100.1,443.5 100.4,443.3 100.8,442.8 101.2,441.9 101.6,439.8 102.0,437.2 102.4,433.9 102.7,430.6 103.1,428.8 103.5,428.9 103.9,430.8 104.3,434.1 104.7,437.5 105.0,440.2 105.4,441.8 105.8,442.7 106.2,443.7 106.6,444.1 107.0,444.1 107.3,444.6 107.7,444.5 108.1,443.8 108.5,443.3 108.9,442.1 109.3,440.9 109.6,439.9 110.0,439.1 110.4,439.1 110.8,440.6 111.2,442.3 111.6,443.2 111.9,443.8 112.3,444.3 112.7,444.4 113.1,444.3 113.5,444.1 113.9,443.5 114.2,442.7 114.6,441.7 115.0,441.3 115.4,441.7 115.8,442.8 116.2,444.0 116.5,444.9 116.9,445.3 117.3,445.2 117.7,445.4 118.1,445.7 118.5,446.1 118.8,445.7 119.2,445.5 119.6,445.5 120.0,445.1 120.4,444.8 120.8,443.6 121.1,442.0 121.5,439.2 121.9,435.1 122.3,429.9 122.7,425.2 123.1,424.5 123.4,428.6 123.8,433.6 124.2,438.3 124.6,441.9 125.0,443.9 125.4,445.2 125.7,445.3 126.1,445.5 126.5,446.0 126.9,445.9 127.3,445.2 127.7,445.0 128.0,444.6 128.4,444.2 128.8,444.5 129.2,444.8 129.6,444.7 130.0,445.6 130.3,445.9 130.7,445.5 131.1,445.9 131.5,445.8 131.9,445.5 132.3,445.5 132.6,444.9 133.0,443.8 133.4,442.1 133.8,439.7 134.2,438.7 134.6,439.9 134.9,441.8 135.3,443.6 135.7,444.5 136.1,444.3 136.5,443.6 136.9,443.4 137.2,443.4 137.6,443.6 138.0,443.5 138.4,443.4 138.8,443.2 139.2,443.1 139.5,443.5 139.9,443.3 140.3,443.0 140.7,442.9 141.1,442.9 141.5,442.4 141.8,442.2 142.2,442.9 142.6,443.0 143.0,443.2 143.4,443.3 143.8,442.8 144.1,443.0 144.5,443.4 144.9,443.8 145.3,443.6 145.7,443.7 146.1,443.7 146.4,443.9 146.8,444.3 147.2,444.2 147.6,444.3 148.0,444.7 148.4,444.8 148.7,444.8 149.1,445.1 149.5,445.3 149.9,445.4 150.3,445.5 150.7,445.6 151.0,445.7 151.4,445.7 151.8,446.1 152.2,446.6 152.6,446.6 153.0,446.4 153.3,446.3 153.7,446.4 154.1,446.4 154.5,445.9 154.9,446.0 155.3,445.7 155.6,445.0 156.0,445.1 156.4,445.8 156.8,446.2 157.2,446.3 157.6,446.3 157.9,446.9 158.3,446.4 158.7,445.6 159.1,445.6 159.5,445.0 159.9,444.6 160.2,444.9 160.6,445.2 161.0,445.2 161.4,445.4 161.8,445.8 162.2,445.9 162.5,445.7 162.9,445.9 163.3,445.9 163.7,445.2 164.1,444.1 164.5,443.3 164.8,442.5 165.2,441.7 165.6,441.7 166.0,442.4 166.4,443.4 166.8,444.1 167.1,444.7 167.5,445.8 167.9,446.2 168.3,446.2 168.7,446.5 169.1,446.4 169.4,446.0 169.8,446.2 170.2,446.2 170.6,446.4 171.0,446.2 171.4,446.0 171.7,445.7 172.1,445.3 172.5,444.8 172.9,443.5 173.3,441.5 173.7,439.4 174.0,437.7 174.4,436.7 174.8,437.6 175.2,439.5 175.6,441.6 176.0,443.6 176.3,444.6 176.7,445.3 177.1,445.4 177.5,445.7 177.9,446.4 178.3,446.2 178.6,446.1 179.0,446.6 179.4,446.5 179.8,446.1 180.2,446.2 180.6,446.0 180.9,445.6 181.3,445.9 181.7,445.8 182.1,445.7 182.5,445.4 182.9,444.6 183.2,443.8 183.6,443.3 184.0,443.1 184.4,443.3 184.8,444.0 185.2,444.6 185.5,444.9 185.9,445.4 186.3,445.4 186.7,445.1 187.1,444.2 187.5,443.0 187.8,441.8 188.2,439.1 188.6,436.3 189.0,433.9 189.4,433.3 189.8,435.0 190.1,437.7 190.5,440.6 190.9,443.0 191.3,444.8 191.7,445.4 192.1,445.7 192.4,446.1 192.8,446.7 193.2,446.8 193.6,446.9 194.0,447.2 194.4,447.0 194.7,447.1 195.1,447.3 195.5,447.3 195.9,447.4 196.3,447.5 196.7,447.4 197.0,447.1 197.4,447.0 197.8,447.1 198.2,447.0 198.6,446.8 199.0,446.8 199.3,446.7 199.7,446.8 200.1,447.2 200.5,447.5 200.9,447.6 201.3,447.7 201.6,448.0 202.0,448.0 202.4,448.0 202.8,448.2 203.2,448.2 203.6,448.1 203.9,448.1 204.3,448.0 204.7,447.8 205.1,447.4 205.5,447.5 205.9,447.3 206.2,446.8 206.6,446.8 207.0,446.8 207.4,446.8 207.8,446.7 208.2,446.7 208.5,447.0 208.9,447.1 209.3,447.0 209.7,447.0 210.1,447.2 210.5,447.6 210.8,447.7 211.2,447.5 211.6,447.5 212.0,447.4 212.4,447.1 212.8,447.0 213.1,446.9 213.5,446.7 213.9,446.6 214.3,446.6 214.7,446.8 215.1,446.9 215.4,447.2 215.8,447.7 216.2,447.8 216.6,447.8 217.0,447.6 217.4,447.3 217.7,447.5 218.1,447.5 218.5,447.8 218.9,447.9 219.3,447.7 219.7,448.0 220.0,447.9 220.4,447.7 220.8,448.0 221.2,447.6 221.6,447.3 222.0,447.5 222.3,447.1 222.7,447.2 223.1,447.6 223.5,447.1 223.9,446.6 224.3,447.0 224.6,447.4 225.0,447.7 225.4,447.6 225.8,447.6 226.2,448.5 226.6,448.5 226.9,448.0 227.3,448.2 227.7,448.1 228.1,447.8 228.5,448.1 228.9,448.2 229.2,448.2 229.6,448.0 230.0,447.7 230.4,448.0 230.8,448.1 231.2,448.0 231.5,447.9 231.9,447.8 232.3,447.6 232.7,447.0 233.1,447.1 233.5,447.2 233.8,447.1 234.2,447.3 234.6,447.2 235.0,446.9 235.4,446.9 235.8,447.2 236.1,447.5 236.5,447.3 236.9,447.2 237.3,447.4 237.7,447.8 238.1,447.8 238.4,448.0 238.8,448.2 239.2,448.0 239.6,448.1" fill="none" stroke="#000" stroke-width="1.08" stroke-linejoin="round"/>
<line x1="16.8" y1="260.1" x2="239.6" y2="260.1" stroke="#111" stroke-width="1.3"/>
<path d="M42.1 260.1V250.3M47.1 260.1V257.1M81.1 260.1V233.3M84.1 260.1V195.1M96.1 260.1V250.3M103.1 260.1V255.1M135.1 260.1V253.8M138.1 260.1V250.3M140.1 260.1V257.6M146.1 260.1V252.1M152.1 260.1V256.1M158.1 260.1V255.1M160.1 260.1V257.1M167.1 260.1V251.1M168.1 260.1V252.1M173.1 260.1V257.6M188.1 260.1V255.1M197.1 260.1V259.1M202.1 260.1V252.1M206.1 260.1V256.1M209.1 260.1V258.1M212.1 260.1V257.1M217.1 260.1V255.1M218.1 260.1V254.1M225.1 260.1V256.1M226.1 260.1V256.1M229.1 260.1V255.6M231.1 260.1V257.1M234.1 260.1V257.1M238.1 260.1V258.1" stroke="#262626" stroke-width="1" fill="none"/>
<path d="M109.6 260.1V237.1" stroke="#2a2a2a" stroke-width="1.1" fill="none"/>
<line x1="29.7" y1="325.1" x2="239.6" y2="325.1" stroke="#111" stroke-width="1.3"/>
<path d="M39.1 325.1V322.1M52.1 325.1V324.1M63.1 325.1V321.1M78.1 325.1V320.6M84.1 325.1V318.6M92.1 325.1V316.1M101.1 325.1V308.1M106.1 325.1V273.1M108.1 325.1V271.1M109.1 325.1V304.1M110.1 325.1V304.1M121.1 325.1V316.1M124.1 325.1V324.1M129.1 325.1V320.1M131.1 325.1V314.1M138.1 325.1V323.1M141.1 325.1V306.7M150.1 325.1V312.6M152.1 325.1V314.1M155.1 325.1V320.1M159.1 325.1V320.1M160.1 325.1V322.1M165.1 325.1V317.1M166.1 325.1V317.1M167.1 325.1V316.1M171.1 325.1V306.7M182.1 325.1V315.6M194.1 325.1V318.1M200.1 325.1V322.1M202.1 325.1V323.6M206.1 325.1V320.1M209.1 325.1V315.6M211.1 325.1V321.1M212.1 325.1V322.1M217.1 325.1V323.6M222.1 325.1V313.6M223.1 325.1V319.1M225.1 325.1V319.1M226.1 325.1V320.1M227.1 325.1V316.6M230.1 325.1V321.1M231.1 325.1V320.1M233.1 325.1V316.1M237.1 325.1V321.1M237.1 325.1V321.1M238.1 325.1V321.1" stroke="#262626" stroke-width="1" fill="none"/>
<path d="M43.6 325.1V319.1M64.6 325.1V322.1M86.6 325.1V320.6M103.6 325.1V315.1M105.6 325.1V263.1M116.6 325.1V285.4M127.6 325.1V315.1M149.6 325.1V293.7M163.6 325.1V315.1M179.6 325.1V319.6M180.6 325.1V319.6M188.6 325.1V321.6M195.6 325.1V318.1" stroke="#2a2a2a" stroke-width="1.1" fill="none"/>
<line x1="5.8" y1="390.0" x2="239.6" y2="390.0" stroke="#111" stroke-width="1.3"/>
<path d="M7.1 390.0V385.0M12.1 390.0V389.0M63.1 390.0V382.1M73.1 390.0V380.2M84.1 390.0V388.0M85.1 390.0V388.0M90.1 390.0V379.0M105.1 390.0V385.5M120.1 390.0V389.0M121.1 390.0V388.0M135.1 390.0V386.5M136.1 390.0V386.5M139.1 390.0V383.5M141.1 390.0V388.0M148.1 390.0V387.0M150.1 390.0V381.0M152.1 390.0V388.5M166.1 390.0V386.0M170.1 390.0V386.5M175.1 390.0V389.0M178.1 390.0V389.0M182.1 390.0V387.0M185.1 390.0V388.0M187.1 390.0V388.0M190.1 390.0V375.5M192.1 390.0V388.0M195.1 390.0V386.0M196.1 390.0V386.0M201.1 390.0V387.0M205.1 390.0V386.5M206.1 390.0V386.5M207.1 390.0V386.5M216.1 390.0V389.0M223.1 390.0V388.5M227.1 390.0V386.0M232.1 390.0V388.5M234.1 390.0V388.5M237.1 390.0V388.5" stroke="#262626" stroke-width="1" fill="none"/>
<path d="M80.6 390.0V376.0M95.6 390.0V328.0M109.6 390.0V385.5M125.6 390.0V384.2" stroke="#2a2a2a" stroke-width="1.1" fill="none"/>
<line x1="0.0" y1="519.0" x2="239.6" y2="519.0" stroke="#111" stroke-width="1.3"/>
<path d="M2.1 519.0V516.2M40.1 519.0V516.0M52.1 519.0V503.2M61.1 519.0V517.5M74.1 519.0V507.0M91.1 519.0V454.4M115.1 519.0V510.0M136.1 519.0V508.6M143.1 519.0V511.1M165.1 519.0V504.7M175.1 519.0V499.3M186.1 519.0V517.5M189.1 519.0V506.0M192.1 519.0V517.0M198.1 519.0V516.0M201.1 519.0V513.5M208.1 519.0V508.3M213.1 519.0V515.0M218.1 519.0V515.5M222.1 519.0V515.0M228.1 519.0V515.0M233.1 519.0V515.0" stroke="#262626" stroke-width="1" fill="none"/>
<path d="M12.6 519.0V495.7M69.6 519.0V496.2M83.6 519.0V486.5M103.6 519.0V486.5M110.6 519.0V495.7M123.6 519.0V505.0M124.6 519.0V505.0" stroke="#2a2a2a" stroke-width="1.1" fill="none"/>
<path d="M93.1 583.5V522.0M102.1 583.5V582.5M124.1 583.5V574.8M141.1 583.5V572.8M159.1 583.5V574.5M178.1 583.5V579.5M179.1 583.5V572.0M184.1 583.5V572.0M223.1 583.5V582.0M227.1 583.5V578.3" stroke="#262626" stroke-width="1" fill="none"/>
<path d="M62.6 583.5V578.0" stroke="#2a2a2a" stroke-width="1.1" fill="none"/>
<path d="M0 590.6V0.1H239.7V590.6" fill="none" stroke="#111" stroke-width="1.45"/>
<line x1="0" y1="583.5" x2="239.6" y2="583.5" stroke="#111" stroke-width="1.4"/>
<path d="M47.9 583.5v7.1M95.8 583.5v7.1M143.8 583.5v7.1M191.7 583.5v7.1" stroke="#111" stroke-width="1.2" fill="none"/>
<text x="0.0" y="611.8" text-anchor="middle" font-size="17.3">10</text>
<text x="47.9" y="611.8" text-anchor="middle" font-size="17.3">20</text>
<text x="95.8" y="611.8" text-anchor="middle" font-size="17.3">30</text>
<text x="143.8" y="611.8" text-anchor="middle" font-size="17.3">40</text>
<text x="191.7" y="611.8" text-anchor="middle" font-size="17.3">50</text>
<text x="239.6" y="611.8" text-anchor="middle" font-size="17.3">60</text>
<text x="5.2" y="19.8" font-size="22.2">(b)</text>
<text x="236.9" y="19.9" text-anchor="end" font-size="18.4">2-1</text>
<text x="236.9" y="84.9" text-anchor="end" font-size="18.4">2-2</text>
<text x="236.9" y="149.9" text-anchor="end" font-size="18.4">2-3</text>
<text x="237.0" y="217.8" text-anchor="end" font-size="18.4">CsAlSiO<tspan dy="2.6" font-size="10.8" stroke-width="0.2">4</tspan></text>
<text x="237.0" y="282.2" text-anchor="end" font-size="18.4">Ca<tspan dy="2.6" font-size="10.8" stroke-width="0.2">2</tspan><tspan dy="-2.6">SiO</tspan><tspan dy="2.6" font-size="10.8" stroke-width="0.2">4</tspan></text>
<text x="237.0" y="347.3" text-anchor="end" font-size="18.4">CaSiO<tspan dy="2.6" font-size="10.8" stroke-width="0.2">3</tspan></text>
<text x="237.0" y="404.5" text-anchor="end" font-size="18.4"><tspan letter-spacing="-0.62">therma</tspan><tspan letter-spacing="1.5">l</tspan><tspan letter-spacing="-0.22"> insulation</tspan></text>
<text x="237.0" y="424.6" text-anchor="end" font-size="18.4">as received</text>
<text x="236.6" y="466.3" text-anchor="end" font-size="18.4" letter-spacing="-0.40">xonotlite</text>
<text x="236.6" y="486.8" text-anchor="end" font-size="18.4">Ca<tspan dy="2.6" font-size="10.8" stroke-width="0.2">6</tspan><tspan dy="-2.6">Si</tspan><tspan dy="2.6" font-size="10.8" stroke-width="0.2">6</tspan><tspan dy="-2.6">O</tspan><tspan dy="2.6" font-size="10.8" stroke-width="0.2">17</tspan><tspan dy="-2.6">(OH)</tspan><tspan dy="2.6" font-size="10.8" stroke-width="0.2">2</tspan></text>
<text x="237.0" y="534.3" text-anchor="end" font-size="18.4">calcite</text>
<text x="237.0" y="554.3" text-anchor="end" font-size="18.4">CaCO<tspan dy="2.6" font-size="10.8" stroke-width="0.2">3</tspan></text>
</g>
<g transform="translate(576.6,0)">
<polyline points="0.0,58.9 0.4,59.2 0.8,59.1 1.2,59.0 1.5,59.2 1.9,59.1 2.3,59.1 2.7,59.3 3.1,59.0 3.5,59.0 3.8,59.2 4.2,59.1 4.6,59.0 5.0,59.1 5.4,59.1 5.8,59.3 6.1,59.0 6.5,59.1 6.9,59.1 7.3,59.3 7.7,58.9 8.1,59.1 8.4,59.1 8.8,58.9 9.2,59.1 9.6,59.3 10.0,59.1 10.4,59.4 10.7,59.0 11.1,59.1 11.5,59.2 11.9,59.0 12.3,59.3 12.7,59.0 13.0,59.3 13.4,59.2 13.8,59.2 14.2,58.9 14.6,58.9 15.0,59.1 15.3,59.0 15.7,59.1 16.1,59.0 16.5,59.2 16.9,59.3 17.3,59.3 17.6,59.1 18.0,58.8 18.4,59.1 18.8,59.2 19.2,58.9 19.6,59.1 19.9,59.1 20.3,59.1 20.7,59.1 21.1,59.1 21.5,59.3 21.9,59.0 22.2,59.1 22.6,59.0 23.0,59.1 23.4,59.3 23.8,59.1 24.2,58.9 24.5,59.1 24.9,59.2 25.3,59.2 25.7,59.2 26.1,59.1 26.5,59.2 26.8,58.9 27.2,59.1 27.6,59.1 28.0,58.9 28.4,58.9 28.8,59.1 29.1,59.1 29.5,59.0 29.9,59.1 30.3,59.3 30.7,59.0 31.1,59.0 31.4,59.0 31.8,59.2 32.2,59.1 32.6,59.2 33.0,59.1 33.4,58.9 33.7,58.9 34.1,59.0 34.5,59.0 34.9,59.0 35.3,59.1 35.7,59.1 36.0,59.2 36.4,59.1 36.8,58.8 37.2,59.0 37.6,59.1 38.0,59.1 38.3,59.2 38.7,59.0 39.1,59.0 39.5,59.3 39.9,59.0 40.3,59.2 40.6,58.9 41.0,59.1 41.4,58.9 41.8,59.1 42.2,59.1 42.6,59.0 42.9,58.9 43.3,59.0 43.7,59.2 44.1,59.0 44.5,59.0 44.9,59.1 45.2,59.1 45.6,58.7 46.0,58.9 46.4,58.8 46.8,58.5 47.2,58.3 47.5,58.2 47.9,58.0 48.3,58.1 48.7,58.3 49.1,58.4 49.5,58.7 49.8,58.9 50.2,59.0 50.6,59.0 51.0,59.0 51.4,59.2 51.8,59.3 52.1,59.0 52.5,59.2 52.9,59.3 53.3,59.0 53.7,59.1 54.1,59.0 54.4,59.1 54.8,59.2 55.2,59.2 55.6,59.1 56.0,59.1 56.4,59.1 56.7,59.1 57.1,59.2 57.5,59.0 57.9,59.2 58.3,59.0 58.7,58.8 59.0,58.6 59.4,58.2 59.8,57.4 60.2,54.7 60.6,54.6 61.0,56.9 61.3,58.1 61.7,57.5 62.1,55.1 62.5,52.9 62.9,54.6 63.3,57.2 63.6,58.5 64.0,58.7 64.4,59.0 64.8,59.0 65.2,59.1 65.6,59.0 65.9,59.0 66.3,58.9 66.7,59.1 67.1,59.1 67.5,58.9 67.9,59.0 68.2,59.2 68.6,59.0 69.0,59.1 69.4,59.0 69.8,59.0 70.2,58.9 70.5,59.0 70.9,59.3 71.3,59.2 71.7,59.0 72.1,59.1 72.5,58.9 72.8,59.0 73.2,59.1 73.6,58.9 74.0,59.1 74.4,59.3 74.8,58.8 75.1,59.3 75.5,58.9 75.9,58.9 76.3,59.0 76.7,59.2 77.1,58.8 77.4,59.0 77.8,58.8 78.2,58.6 78.6,58.3 79.0,58.2 79.4,58.2 79.7,58.5 80.1,58.6 80.5,58.9 80.9,58.9 81.3,58.8 81.7,59.0 82.0,58.9 82.4,59.1 82.8,59.1 83.2,59.0 83.6,59.0 84.0,58.9 84.3,59.0 84.7,58.8 85.1,59.0 85.5,59.0 85.9,59.1 86.3,58.9 86.6,58.8 87.0,59.0 87.4,58.9 87.8,58.7 88.2,58.8 88.6,58.8 88.9,58.5 89.3,58.5 89.7,58.4 90.1,58.1 90.5,57.8 90.9,57.5 91.2,56.6 91.6,54.1 92.0,45.3 92.4,22.7 92.8,6.2 93.2,29.3 93.5,48.5 93.9,55.1 94.3,56.5 94.7,57.5 95.1,57.8 95.5,58.1 95.8,57.9 96.2,57.4 96.6,55.4 97.0,51.2 97.4,49.6 97.8,53.4 98.1,56.9 98.5,58.2 98.9,58.5 99.3,58.5 99.7,58.6 100.1,58.7 100.4,59.0 100.8,58.7 101.2,58.6 101.6,58.5 102.0,58.3 102.4,57.8 102.7,57.9 103.1,58.2 103.5,58.6 103.9,58.6 104.3,58.9 104.7,59.0 105.0,58.9 105.4,58.9 105.8,59.1 106.2,59.1 106.6,59.3 107.0,58.9 107.3,59.1 107.7,59.3 108.1,59.2 108.5,59.0 108.9,58.8 109.3,58.8 109.6,58.5 110.0,58.4 110.4,58.5 110.8,58.4 111.2,58.7 111.6,58.9 111.9,58.8 112.3,59.1 112.7,59.1 113.1,58.9 113.5,58.8 113.9,59.0 114.2,58.8 114.6,59.1 115.0,59.0 115.4,59.1 115.8,59.2 116.2,59.0 116.5,58.9 116.9,59.1 117.3,59.1 117.7,58.9 118.1,59.2 118.5,59.2 118.8,59.1 119.2,59.2 119.6,58.8 120.0,59.0 120.4,59.1 120.8,59.0 121.1,58.6 121.5,59.0 121.9,59.0 122.3,58.8 122.7,58.6 123.1,58.4 123.4,58.1 123.8,56.2 124.2,50.4 124.6,45.4 125.0,50.7 125.4,55.8 125.7,57.8 126.1,58.5 126.5,58.7 126.9,58.8 127.3,58.9 127.7,59.1 128.0,58.9 128.4,59.1 128.8,58.9 129.2,59.1 129.6,58.8 130.0,58.7 130.3,58.1 130.7,58.2 131.1,58.3 131.5,58.6 131.9,58.9 132.3,59.0 132.6,58.9 133.0,58.9 133.4,58.8 133.8,59.1 134.2,58.7 134.6,58.8 134.9,59.0 135.3,59.3 135.7,59.0 136.1,59.0 136.5,59.3 136.9,59.0 137.2,59.0 137.6,59.1 138.0,58.9 138.4,58.8 138.8,58.9 139.2,58.7 139.5,58.7 139.9,58.4 140.3,57.2 140.7,53.4 141.1,47.5 141.5,49.1 141.8,54.7 142.2,57.8 142.6,58.3 143.0,58.3 143.4,58.6 143.8,58.7 144.1,58.5 144.5,57.9 144.9,58.0 145.3,58.3 145.7,58.6 146.1,58.9 146.4,59.0 146.8,59.1 147.2,59.4 147.6,59.2 148.0,59.0 148.4,59.1 148.7,59.0 149.1,59.1 149.5,59.0 149.9,58.9 150.3,59.2 150.7,59.1 151.0,59.2 151.4,58.9 151.8,59.0 152.2,59.0 152.6,58.9 153.0,58.9 153.3,59.0 153.7,58.9 154.1,59.2 154.5,59.0 154.9,59.0 155.3,59.2 155.6,58.8 156.0,59.0 156.4,58.8 156.8,58.9 157.2,58.6 157.6,58.5 157.9,58.5 158.3,57.8 158.7,54.7 159.1,48.3 159.5,47.1 159.9,53.4 160.2,57.1 160.6,58.6 161.0,58.7 161.4,58.9 161.8,58.8 162.2,59.0 162.5,59.1 162.9,59.0 163.3,59.1 163.7,58.9 164.1,58.9 164.5,58.7 164.8,58.4 165.2,57.9 165.6,58.2 166.0,58.4 166.4,58.7 166.8,59.0 167.1,58.9 167.5,59.0 167.9,59.0 168.3,59.1 168.7,59.1 169.1,58.9 169.4,58.8 169.8,59.1 170.2,59.0 170.6,59.1 171.0,59.0 171.4,59.0 171.7,58.9 172.1,59.4 172.5,59.1 172.9,59.2 173.3,59.0 173.7,59.1 174.0,59.1 174.4,58.9 174.8,58.8 175.2,59.3 175.6,59.0 176.0,58.8 176.3,58.8 176.7,58.6 177.1,58.0 177.5,56.0 177.9,54.9 178.3,56.7 178.6,58.0 179.0,58.2 179.4,57.0 179.8,53.7 180.2,50.5 180.6,53.7 180.9,57.1 181.3,58.2 181.7,58.7 182.1,58.5 182.5,58.5 182.9,58.8 183.2,58.4 183.6,58.2 184.0,56.6 184.4,52.3 184.8,47.4 185.2,50.7 185.5,56.1 185.9,58.1 186.3,58.6 186.7,58.7 187.1,58.8 187.5,58.9 187.8,59.0 188.2,58.9 188.6,58.9 189.0,59.1 189.4,59.2 189.8,58.9 190.1,58.9 190.5,59.0 190.9,59.2 191.3,59.0 191.7,58.8 192.1,59.2 192.4,58.9 192.8,59.0 193.2,58.9 193.6,58.4 194.0,58.5 194.4,58.3 194.7,58.5 195.1,58.8 195.5,59.1 195.9,59.2 196.3,59.2 196.7,59.3 197.0,58.9 197.4,59.1 197.8,59.2 198.2,59.2 198.6,59.2 199.0,59.1 199.3,59.2 199.7,58.9 200.1,59.2 200.5,59.2 200.9,59.0 201.3,58.9 201.6,58.9 202.0,59.1 202.4,59.1 202.8,59.1 203.2,59.0 203.6,59.1 203.9,59.2 204.3,59.2 204.7,59.1 205.1,59.2 205.5,58.9 205.9,59.1 206.2,59.2 206.6,59.1 207.0,59.2 207.4,59.1 207.8,59.0 208.2,59.3 208.5,59.3 208.9,59.0 209.3,59.1 209.7,59.1 210.1,59.0 210.5,59.1 210.8,59.0 211.2,59.2 211.6,59.1 212.0,59.2 212.4,59.2 212.8,59.0 213.1,59.0 213.5,59.3 213.9,59.2 214.3,59.1 214.7,59.0 215.1,59.2 215.4,59.1 215.8,59.3 216.2,58.8 216.6,59.0 217.0,59.0 217.4,59.0 217.7,59.0 218.1,59.0 218.5,59.1 218.9,59.0 219.3,59.1 219.7,58.9 220.0,59.1 220.4,59.1 220.8,59.0 221.2,58.9 221.6,59.0 222.0,59.0 222.3,58.7 222.7,58.3 223.1,57.4 223.5,57.5 223.9,58.1 224.3,58.6 224.6,58.9 225.0,58.7 225.4,58.6 225.8,58.6 226.2,58.3 226.6,56.8 226.9,54.9 227.3,54.7 227.7,57.0 228.1,58.4 228.5,58.6 228.9,58.7 229.2,58.3 229.6,58.4 230.0,58.2 230.4,58.5 230.8,58.9 231.2,59.1 231.5,58.9 231.9,59.2 232.3,58.9 232.7,58.9 233.1,59.1 233.5,58.9 233.8,59.0 234.2,58.9 234.6,59.1 235.0,59.0 235.4,59.2 235.8,59.0 236.1,59.1 236.5,59.1 236.9,59.0 237.3,59.1 237.7,59.1 238.1,59.0 238.4,59.0 238.8,59.3 239.2,59.0 239.6,59.0" fill="none" stroke="#111" stroke-width="1.05" stroke-linejoin="round"/>
<polyline points="0.0,123.0 0.1,118.7 0.2,120.9 0.3,124.8 0.4,121.6 0.5,118.7 0.6,120.6 0.7,120.0 0.8,120.7 0.9,121.7 1.0,121.7 1.1,119.1 1.2,122.9 1.2,123.0 1.3,122.0 1.4,121.9 1.5,119.5 1.6,121.2 1.7,121.3 1.8,120.6 1.9,119.7 2.0,123.4 2.1,122.9 2.2,121.9 2.3,122.2 2.4,122.8 2.5,121.9 2.6,121.2 2.7,121.7 2.8,122.7 2.9,121.1 3.0,123.3 3.1,121.7 3.2,121.3 3.3,121.2 3.4,118.0 3.5,119.3 3.5,121.1 3.6,121.0 3.7,120.9 3.8,120.9 3.9,119.0 4.0,119.8 4.1,123.2 4.2,121.6 4.3,120.6 4.4,118.5 4.5,121.6 4.6,125.7 4.7,119.7 4.8,124.3 4.9,123.0 5.0,120.4 5.1,122.2 5.2,115.0 5.3,120.0 5.4,121.7 5.5,120.8 5.6,122.5 5.7,117.3 5.8,121.5 5.8,119.8 5.9,121.6 6.0,121.4 6.1,121.3 6.2,118.8 6.3,114.8 6.4,122.8 6.5,116.0 6.6,121.3 6.7,122.3 6.8,118.7 6.9,122.2 7.0,122.5 7.1,120.3 7.2,120.9 7.3,117.9 7.4,119.1 7.5,123.4 7.6,119.5 7.7,122.9 7.8,121.9 7.9,122.0 8.0,122.6 8.1,122.2 8.1,122.1 8.2,119.5 8.3,124.4 8.4,120.8 8.5,121.7 8.6,121.5 8.7,122.8 8.8,124.3 8.9,122.6 9.0,117.4 9.1,120.1 9.2,121.6 9.3,115.8 9.4,120.3 9.5,122.0 9.6,122.2 9.7,121.9 9.8,122.8 9.9,121.6 10.0,122.9 10.1,120.8 10.2,122.0 10.3,124.0 10.4,120.8 10.4,115.1 10.5,124.3 10.6,122.1 10.7,121.2 10.8,120.1 10.9,122.5 11.0,121.2 11.1,121.4 11.2,122.2 11.3,123.2 11.4,123.9 11.5,121.6 11.6,121.0 11.7,119.4 11.8,122.4 11.9,123.3 12.0,118.3 12.1,121.5 12.2,124.6 12.3,123.4 12.4,119.5 12.5,120.0 12.6,124.0 12.7,120.9 12.7,119.1 12.8,122.9 12.9,121.0 13.0,118.2 13.1,120.5 13.2,123.1 13.3,120.4 13.4,122.4 13.5,122.5 13.6,120.0 13.7,119.7 13.8,122.8 13.9,119.4 14.0,122.6 14.1,121.3 14.2,123.0 14.3,122.2 14.4,122.2 14.5,121.6 14.6,121.7 14.7,121.3 14.8,123.5 14.9,123.0 15.0,122.2 15.0,123.0 15.1,120.9 15.2,120.0 15.3,120.6 15.4,123.0 15.5,120.0 15.6,116.6 15.7,121.3 15.8,120.1 15.9,122.1 16.0,120.7 16.1,119.5 16.2,123.0 16.3,122.2 16.4,119.8 16.5,122.7 16.6,122.2 16.7,121.7 16.8,121.1 16.9,122.8 17.0,121.1 17.1,118.9 17.2,123.2 17.3,119.1 17.3,121.0 17.4,122.1 17.5,123.1 17.6,123.0 17.7,119.2 17.8,121.9 17.9,120.5 18.0,122.7 18.1,121.7 18.2,119.0 18.3,121.7 18.4,119.1 18.5,116.6 18.6,120.0 18.7,121.0 18.8,124.1 18.9,120.2 19.0,124.5 19.1,120.8 19.2,122.4 19.3,117.8 19.4,120.9 19.5,122.4 19.6,122.1 19.6,123.2 19.7,120.5 19.8,124.8 19.9,122.0 20.0,122.2 20.1,120.2 20.2,118.7 20.3,122.0 20.4,121.4 20.5,123.0 20.6,121.6 20.7,121.7 20.8,120.8 20.9,119.5 21.0,121.7 21.1,120.1 21.2,124.1 21.3,123.9 21.4,121.4 21.5,123.2 21.6,120.9 21.7,121.3 21.8,122.1 21.9,121.9 21.9,116.9 22.0,119.0 22.1,120.7 22.2,123.1 22.3,119.8 22.4,121.6 22.5,123.6 22.6,121.8 22.7,121.2 22.8,122.7 22.9,119.5 23.0,122.6 23.1,121.5 23.2,120.9 23.3,121.9 23.4,122.0 23.5,118.2 23.6,119.6 23.7,122.2 23.8,122.2 23.9,121.6 24.0,120.7 24.1,116.5 24.2,123.3 24.2,122.1 24.3,120.9 24.4,122.0 24.5,121.2 24.6,123.7 24.7,122.4 24.8,122.9 24.9,119.4 25.0,123.0 25.1,121.9 25.2,120.8 25.3,124.3 25.4,122.1 25.5,121.0 25.6,118.0 25.7,123.8 25.8,122.6 25.9,120.4 26.0,122.4 26.1,120.4 26.2,122.0 26.3,123.4 26.4,118.3 26.5,120.8 26.5,122.2 26.6,122.3 26.7,121.0 26.8,122.1 26.9,123.5 27.0,121.1 27.1,121.5 27.2,120.2 27.3,123.1 27.4,120.3 27.5,122.7 27.6,124.9 27.7,120.9 27.8,119.8 27.9,119.9 28.0,122.2 28.1,119.8 28.2,122.4 28.3,122.9 28.4,120.4 28.5,119.1 28.6,125.9 28.7,122.4 28.8,120.9 28.8,123.4 28.9,121.5 29.0,120.6 29.1,123.7 29.2,124.7 29.3,119.9 29.4,122.3 29.5,122.4 29.6,121.7 29.7,119.3 29.8,123.2 29.9,122.9 30.0,121.3 30.1,119.7 30.2,121.1 30.3,121.1 30.4,121.5 30.5,122.3 30.6,122.5 30.7,123.0 30.8,121.7 30.9,123.4 31.0,120.9 31.1,122.5 31.1,120.0 31.2,112.7 31.3,119.9 31.4,122.7 31.5,118.4 31.6,124.1 31.7,119.9 31.8,117.1 31.9,121.0 32.0,122.3 32.1,120.7 32.2,121.6 32.3,122.4 32.4,119.3 32.5,122.9 32.6,119.1 32.7,118.2 32.8,122.6 32.9,123.2 33.0,121.2 33.1,122.6 33.2,122.4 33.3,122.4 33.4,121.7 33.4,117.8 33.5,121.8 33.6,118.5 33.7,122.5 33.8,120.1 33.9,121.4 34.0,121.4 34.1,121.9 34.2,121.3 34.3,121.2 34.4,118.9 34.5,117.9 34.6,122.7 34.7,119.9 34.8,122.3 34.9,122.1 35.0,120.6 35.1,123.5 35.2,119.2 35.3,120.7 35.4,123.4 35.5,122.6 35.6,117.5 35.7,117.4 35.7,120.0 35.8,121.2 35.9,113.5 36.0,122.8 36.1,119.4 36.2,119.9 36.3,118.7 36.4,116.4 36.5,120.9 36.6,122.1 36.7,120.7 36.8,122.4 36.9,123.8 37.0,121.6 37.1,120.6 37.2,121.7 37.3,121.5 37.4,119.9 37.5,121.7 37.6,122.7 37.7,119.5 37.8,121.4 37.9,121.8 38.0,119.9 38.0,122.6 38.1,118.9 38.2,119.9 38.3,119.1 38.4,118.6 38.5,119.8 38.6,119.1 38.7,120.5 38.8,119.7 38.9,122.2 39.0,121.4 39.1,120.4 39.2,123.3 39.3,117.8 39.4,120.3 39.5,120.6 39.6,119.1 39.7,118.9 39.8,120.9 39.9,118.9 40.0,120.9 40.1,117.2 40.2,120.3 40.3,118.8 40.3,118.5 40.4,118.5 40.5,119.2 40.6,118.6 40.7,118.8 40.8,116.7 40.9,119.6 41.0,118.4 41.1,119.4 41.2,120.1 41.3,118.7 41.4,121.0 41.5,119.5 41.6,122.2 41.7,121.8 41.8,118.6 41.9,119.9 42.0,117.7 42.1,120.3 42.2,118.2 42.3,115.3 42.4,117.6 42.5,119.7 42.6,117.8 42.6,118.0 42.7,123.3 42.8,117.6 42.9,120.7 43.0,120.5 43.1,119.4 43.2,121.0 43.3,119.3 43.4,118.6 43.5,119.6 43.6,121.4 43.7,113.2 43.8,116.4 43.9,117.5 44.0,119.6 44.1,116.4 44.2,116.7 44.3,119.3 44.4,116.3 44.5,118.3 44.6,114.8 44.7,119.7 44.8,116.0 44.9,115.2 44.9,117.1 45.0,115.6 45.1,120.4 45.2,115.6 45.3,117.6 45.4,117.4 45.5,116.8 45.6,115.2 45.7,117.0 45.8,120.4 45.9,120.1 46.0,118.6 46.1,115.6 46.2,120.2 46.3,119.4 46.4,118.2 46.5,118.3 46.6,118.7 46.7,118.0 46.8,115.5 46.9,119.5 47.0,118.1 47.1,117.4 47.2,117.5 47.2,115.9 47.3,120.2 47.4,120.2 47.5,117.5 47.6,115.0 47.7,116.7 47.8,118.5 47.9,117.7 48.0,116.6 48.1,119.1 48.2,119.7 48.3,117.4 48.4,119.6 48.5,116.3 48.6,119.2 48.7,118.9 48.8,117.3 48.9,119.5 49.0,120.9 49.1,113.8 49.2,116.5 49.3,119.5 49.4,118.4 49.5,118.0 49.5,120.1 49.6,119.7 49.7,116.7 49.8,116.5 49.9,111.7 50.0,116.0 50.1,116.6 50.2,120.3 50.3,116.5 50.4,115.3 50.5,117.0 50.6,117.0 50.7,114.9 50.8,118.2 50.9,115.1 51.0,115.0 51.1,116.8 51.2,120.0 51.3,119.5 51.4,117.7 51.5,119.3 51.6,120.0 51.7,114.4 51.8,115.2 51.8,119.8 51.9,113.0 52.0,119.9 52.1,119.3 52.2,117.3 52.3,116.0 52.4,118.4 52.5,118.0 52.6,120.0 52.7,114.7 52.8,116.0 52.9,124.6 53.0,122.7 53.1,120.0 53.2,119.4 53.3,115.8 53.4,117.5 53.5,121.1 53.6,121.0 53.7,120.5 53.8,119.3 53.9,121.8 54.0,120.6 54.1,118.5 54.1,120.5 54.2,120.1 54.3,123.1 54.4,117.8 54.5,118.9 54.6,114.6 54.7,120.7 54.8,120.2 54.9,118.9 55.0,118.8 55.1,118.1 55.2,119.5 55.3,120.8 55.4,121.2 55.5,120.1 55.6,121.5 55.7,117.3 55.8,121.4 55.9,118.3 56.0,121.2 56.1,120.3 56.2,120.0 56.3,122.3 56.4,119.7 56.4,119.4 56.5,120.8 56.6,122.1 56.7,120.0 56.8,120.2 56.9,123.4 57.0,123.1 57.1,120.5 57.2,116.7 57.3,118.9 57.4,123.3 57.5,121.9 57.6,118.3 57.7,119.3 57.8,123.4 57.9,121.6 58.0,120.7 58.1,118.7 58.2,120.6 58.3,121.3 58.4,120.6 58.5,119.3 58.6,118.6 58.7,118.7 58.7,121.7 58.8,117.9 58.9,121.4 59.0,118.5 59.1,122.4 59.2,121.3 59.3,119.4 59.4,121.0 59.5,122.9 59.6,120.7 59.7,121.7 59.8,119.1 59.9,119.3 60.0,121.0 60.1,121.3 60.2,119.4 60.3,118.8 60.4,122.2 60.5,122.0 60.6,122.9 60.7,123.1 60.8,121.3 60.9,121.0 61.0,116.7 61.1,120.6 61.1,119.5 61.2,121.7 61.3,123.1 61.4,122.3 61.5,118.5 61.6,121.6 61.7,121.1 61.8,119.3 61.9,121.5 62.0,120.0 62.1,120.1 62.2,124.4 62.3,123.8 62.4,122.2 62.5,121.2 62.6,120.5 62.7,122.3 62.8,116.9 62.9,122.2 63.0,123.3 63.1,124.3 63.2,118.1 63.3,121.0 63.4,122.3 63.4,120.2 63.5,122.4 63.6,122.4 63.7,119.5 63.8,120.8 63.9,122.5 64.0,121.9 64.1,123.8 64.2,120.3 64.3,121.7 64.4,121.6 64.5,121.0 64.6,122.7 64.7,121.0 64.8,121.9 64.9,122.5 65.0,120.8 65.1,120.4 65.2,120.1 65.3,119.5 65.4,120.5 65.5,121.6 65.6,122.4 65.7,120.2 65.7,118.3 65.8,121.6 65.9,122.8 66.0,119.2 66.1,117.7 66.2,121.3 66.3,120.8 66.4,121.4 66.5,123.1 66.6,118.3 66.7,117.7 66.8,119.8 66.9,123.5 67.0,121.6 67.1,119.9 67.2,124.7 67.3,119.4 67.4,121.8 67.5,120.1 67.6,121.7 67.7,123.4 67.8,121.5 67.9,118.7 68.0,121.8 68.0,121.3 68.1,122.6 68.2,123.1 68.3,121.3 68.4,121.1 68.5,124.2 68.6,119.6 68.7,121.9 68.8,118.9 68.9,115.6 69.0,122.4 69.1,122.3 69.2,120.6 69.3,123.0 69.4,123.4 69.5,123.6 69.6,121.0 69.7,116.6 69.8,121.2 69.9,121.9 70.0,120.1 70.1,121.4 70.2,122.5 70.3,120.3 70.3,121.2 70.4,120.6 70.5,123.2 70.6,122.2 70.7,121.3 70.8,122.6 70.9,123.1 71.0,119.3 71.1,121.3 71.2,122.3 71.3,120.5 71.4,120.2 71.5,122.2 71.6,123.5 71.7,116.4 71.8,121.8 71.9,122.3 72.0,121.8 72.1,121.4 72.2,120.3 72.3,125.2 72.4,121.8 72.5,122.1 72.6,123.6 72.6,122.6 72.7,122.4 72.8,121.9 72.9,120.0 73.0,120.5 73.1,120.3 73.2,122.2 73.3,122.2 73.4,122.7 73.5,118.2 73.6,122.7 73.7,119.1 73.8,118.7 73.9,120.4 74.0,120.9 74.1,124.6 74.2,115.5 74.3,123.8 74.4,121.3 74.5,122.8 74.6,119.2 74.7,123.1 74.8,121.6 74.9,122.2 74.9,121.0 75.0,121.7 75.1,122.7 75.2,121.4 75.3,120.6 75.4,123.0 75.5,122.1 75.6,121.7 75.7,123.4 75.8,125.2 75.9,123.6 76.0,120.8 76.1,124.2 76.2,123.3 76.3,118.4 76.4,123.0 76.5,122.9 76.6,123.0 76.7,122.6 76.8,118.4 76.9,121.6 77.0,123.7 77.1,119.1 77.2,120.3 77.2,122.5 77.3,121.5 77.4,122.3 77.5,123.9 77.6,123.4 77.7,118.7 77.8,117.9 77.9,122.7 78.0,120.1 78.1,118.2 78.2,119.5 78.3,121.3 78.4,120.9 78.5,120.8 78.6,122.1 78.7,120.9 78.8,124.2 78.9,121.3 79.0,119.6 79.1,122.6 79.2,122.1 79.3,123.1 79.4,121.0 79.5,121.4 79.5,122.1 79.6,119.4 79.7,117.0 79.8,122.5 79.9,124.2 80.0,120.8 80.1,122.8 80.2,118.3 80.3,119.9 80.4,119.5 80.5,121.8 80.6,121.1 80.7,120.1 80.8,121.2 80.9,122.9 81.0,122.4 81.1,121.8 81.2,122.1 81.3,122.2 81.4,121.4 81.5,121.2 81.6,123.8 81.7,119.7 81.8,116.4 81.8,120.3 81.9,123.3 82.0,120.4 82.1,121.2 82.2,124.0 82.3,119.0 82.4,124.5 82.5,121.9 82.6,121.7 82.7,120.3 82.8,121.3 82.9,122.5 83.0,122.8 83.1,109.6 83.2,122.4 83.3,119.7 83.4,119.3 83.5,123.2 83.6,121.0 83.7,122.0 83.8,124.1 83.9,122.3 84.0,120.6 84.1,123.9 84.1,119.5 84.2,121.9 84.3,121.5 84.4,122.6 84.5,122.5 84.6,120.4 84.7,118.0 84.8,123.6 84.9,121.7 85.0,119.0 85.1,117.2 85.2,121.4 85.3,121.7 85.4,122.3 85.5,122.3 85.6,121.8 85.7,120.0 85.8,121.4 85.9,122.4 86.0,122.3 86.1,123.5 86.2,119.4 86.3,120.8 86.4,121.2 86.4,120.1 86.5,123.1 86.6,123.9 86.7,120.7 86.8,118.9 86.9,121.8 87.0,122.5 87.1,122.5 87.2,121.3 87.3,124.0 87.4,117.1 87.5,122.2 87.6,120.7 87.7,117.9 87.8,119.7 87.9,116.7 88.0,120.0 88.1,118.4 88.2,116.1 88.3,114.9 88.4,116.4 88.5,111.6 88.6,115.4 88.7,112.5 88.7,116.7 88.8,110.4 88.9,104.7 89.0,111.6 89.1,111.2 89.2,112.2 89.3,104.8 89.4,108.1 89.5,104.6 89.6,110.5 89.7,108.8 89.8,108.6 89.9,108.3 90.0,105.4 90.1,107.2 90.2,98.9 90.3,104.5 90.4,104.8 90.5,98.1 90.6,102.7 90.7,103.9 90.8,99.9 90.9,97.4 91.0,98.7 91.0,100.1 91.1,97.6 91.2,98.7 91.3,98.8 91.4,88.8 91.5,95.0 91.6,91.9 91.7,92.0 91.8,91.2 91.9,88.5 92.0,87.3 92.1,82.7 92.2,85.2 92.3,78.9 92.4,75.8 92.5,74.6 92.6,72.5 92.7,74.9 92.8,76.1 92.9,75.5 93.0,73.4 93.1,75.9 93.2,77.3 93.3,83.5 93.3,84.2 93.4,85.4 93.5,88.3 93.6,83.3 93.7,88.7 93.8,90.4 93.9,89.4 94.0,92.8 94.1,94.4 94.2,94.5 94.3,94.2 94.4,97.0 94.5,96.0 94.6,99.3 94.7,97.6 94.8,96.1 94.9,97.8 95.0,99.2 95.1,99.4 95.2,100.1 95.3,103.5 95.4,102.7 95.5,104.7 95.6,103.7 95.6,103.6 95.7,102.4 95.8,98.9 95.9,107.6 96.0,98.4 96.1,108.2 96.2,103.6 96.3,102.4 96.4,107.5 96.5,104.5 96.6,109.6 96.7,105.7 96.8,111.5 96.9,112.1 97.0,112.7 97.1,110.0 97.2,112.1 97.3,111.6 97.4,115.9 97.5,112.6 97.6,112.2 97.7,108.5 97.8,116.3 97.9,113.6 97.9,114.9 98.0,117.2 98.1,118.8 98.2,116.6 98.3,118.3 98.4,115.3 98.5,110.8 98.6,118.0 98.7,117.9 98.8,115.9 98.9,114.4 99.0,118.8 99.1,113.1 99.2,120.2 99.3,119.5 99.4,116.1 99.5,116.5 99.6,116.8 99.7,111.7 99.8,113.5 99.9,113.8 100.0,116.4 100.1,112.3 100.2,107.7 100.2,112.5 100.3,111.9 100.4,109.0 100.5,108.1 100.6,100.3 100.7,104.5 100.8,107.1 100.9,101.4 101.0,102.6 101.1,102.9 101.2,99.2 101.3,101.9 101.4,106.7 101.5,106.4 101.6,111.6 101.7,110.6 101.8,111.5 101.9,114.1 102.0,110.0 102.1,115.9 102.2,113.7 102.3,116.2 102.4,116.8 102.5,112.9 102.5,117.6 102.6,114.3 102.7,113.4 102.8,111.7 102.9,119.4 103.0,114.4 103.1,115.6 103.2,114.1 103.3,110.4 103.4,117.7 103.5,114.5 103.6,118.2 103.7,116.5 103.8,116.7 103.9,110.8 104.0,113.9 104.1,116.0 104.2,115.9 104.3,113.3 104.4,114.6 104.5,108.9 104.6,108.7 104.7,107.7 104.8,108.8 104.8,103.1 104.9,102.5 105.0,102.3 105.1,95.5 105.2,90.0 105.3,76.9 105.4,81.4 105.5,79.1 105.6,77.3 105.7,76.4 105.8,78.5 105.9,79.6 106.0,75.7 106.1,83.3 106.2,76.6 106.3,97.6 106.4,97.7 106.5,105.9 106.6,100.6 106.7,108.7 106.8,109.7 106.9,105.4 107.0,109.6 107.1,107.2 107.1,110.9 107.2,103.8 107.3,109.4 107.4,109.6 107.5,108.5 107.6,93.1 107.7,103.0 107.8,99.2 107.9,102.0 108.0,94.5 108.1,92.0 108.2,97.9 108.3,97.5 108.4,96.9 108.5,105.0 108.6,105.1 108.7,103.6 108.8,107.7 108.9,105.7 109.0,106.3 109.1,108.3 109.2,113.0 109.3,109.5 109.4,108.9 109.4,114.8 109.5,104.7 109.6,111.1 109.7,104.3 109.8,110.5 109.9,108.0 110.0,108.8 110.1,109.7 110.2,108.9 110.3,108.9 110.4,111.6 110.5,107.5 110.6,101.6 110.7,115.8 110.8,115.6 110.9,112.2 111.0,112.0 111.1,113.9 111.2,117.7 111.3,116.5 111.4,116.6 111.5,118.5 111.6,118.4 111.7,116.8 111.7,116.6 111.8,115.4 111.9,117.2 112.0,120.3 112.1,113.8 112.2,118.6 112.3,118.8 112.4,119.7 112.5,122.5 112.6,115.6 112.7,118.9 112.8,121.7 112.9,118.7 113.0,115.3 113.1,120.9 113.2,121.8 113.3,125.4 113.4,122.1 113.5,122.0 113.6,119.8 113.7,119.9 113.8,113.8 113.9,115.7 114.0,120.5 114.0,119.6 114.1,109.3 114.2,118.9 114.3,115.3 114.4,118.9 114.5,123.9 114.6,113.0 114.7,121.4 114.8,117.3 114.9,119.9 115.0,114.5 115.1,119.1 115.2,116.1 115.3,119.8 115.4,122.3 115.5,118.2 115.6,117.2 115.7,121.4 115.8,118.8 115.9,108.6 116.0,114.7 116.1,118.7 116.2,112.6 116.3,112.9 116.3,112.5 116.4,107.0 116.5,100.6 116.6,107.2 116.7,101.8 116.8,102.7 116.9,97.3 117.0,105.3 117.1,105.0 117.2,93.8 117.3,106.8 117.4,107.0 117.5,106.5 117.6,115.0 117.7,118.1 117.8,113.2 117.9,116.5 118.0,113.1 118.1,119.8 118.2,115.2 118.3,117.7 118.4,118.3 118.5,115.8 118.6,119.5 118.6,118.9 118.7,112.8 118.8,115.5 118.9,115.0 119.0,113.7 119.1,116.0 119.2,119.1 119.3,113.0 119.4,113.6 119.5,118.3 119.6,116.0 119.7,118.2 119.8,119.1 119.9,104.6 120.0,118.2 120.1,116.0 120.2,111.8 120.3,113.5 120.4,113.3 120.5,114.7 120.6,119.0 120.7,114.0 120.8,120.7 120.9,116.7 121.0,120.8 121.0,122.3 121.1,123.0 121.2,117.1 121.3,123.5 121.4,117.6 121.5,115.5 121.6,120.9 121.7,115.9 121.8,122.0 121.9,119.8 122.0,117.0 122.1,119.6 122.2,119.6 122.3,121.8 122.4,122.6 122.5,120.1 122.6,123.6 122.7,122.6 122.8,112.5 122.9,117.7 123.0,114.5 123.1,118.5 123.2,119.8 123.3,115.4 123.3,110.4 123.4,119.3 123.5,116.9 123.6,119.1 123.7,119.4 123.8,119.4 123.9,120.9 124.0,117.6 124.1,121.8 124.2,124.0 124.3,117.7 124.4,118.5 124.5,124.1 124.6,117.3 124.7,119.3 124.8,117.5 124.9,117.7 125.0,119.8 125.1,111.2 125.2,111.4 125.3,124.6 125.4,118.9 125.5,115.7 125.6,121.4 125.6,117.5 125.7,120.8 125.8,119.2 125.9,122.1 126.0,121.6 126.1,118.2 126.2,121.6 126.3,122.2 126.4,121.3 126.5,114.2 126.6,111.9 126.7,120.7 126.8,118.8 126.9,120.8 127.0,116.5 127.1,122.6 127.2,121.1 127.3,122.2 127.4,115.7 127.5,122.3 127.6,119.9 127.7,119.8 127.8,121.0 127.9,120.4 127.9,110.4 128.0,124.1 128.1,121.4 128.2,120.4 128.3,122.6 128.4,116.0 128.5,119.8 128.6,119.6 128.7,116.8 128.8,114.9 128.9,118.4 129.0,120.1 129.1,113.7 129.2,117.8 129.3,106.9 129.4,118.4 129.5,119.4 129.6,113.1 129.7,113.7 129.8,116.8 129.9,108.4 130.0,113.3 130.1,112.1 130.2,111.3 130.2,111.7 130.3,112.7 130.4,112.2 130.5,115.8 130.6,112.6 130.7,116.0 130.8,109.3 130.9,113.1 131.0,117.7 131.1,118.0 131.2,115.1 131.3,120.8 131.4,119.8 131.5,118.7 131.6,122.9 131.7,124.2 131.8,118.4 131.9,123.2 132.0,117.6 132.1,121.1 132.2,120.8 132.3,119.2 132.4,119.0 132.5,118.1 132.5,120.6 132.6,119.4 132.7,114.8 132.8,119.1 132.9,120.7 133.0,116.7 133.1,118.3 133.2,124.1 133.3,120.6 133.4,121.0 133.5,115.0 133.6,116.9 133.7,117.7 133.8,122.1 133.9,121.0 134.0,115.8 134.1,120.1 134.2,122.8 134.3,122.3 134.4,119.5 134.5,118.7 134.6,117.6 134.7,114.0 134.8,120.6 134.8,117.7 134.9,113.7 135.0,122.0 135.1,123.1 135.2,118.2 135.3,116.4 135.4,123.2 135.5,117.9 135.6,121.9 135.7,121.4 135.8,119.0 135.9,121.1 136.0,118.3 136.1,117.3 136.2,116.2 136.3,121.7 136.4,119.3 136.5,120.3 136.6,121.2 136.7,122.6 136.8,118.9 136.9,122.3 137.0,119.7 137.1,122.6 137.1,119.2 137.2,120.0 137.3,125.6 137.4,120.7 137.5,121.0 137.6,119.2 137.7,123.5 137.8,114.5 137.9,119.4 138.0,119.3 138.1,122.7 138.2,122.3 138.3,116.5 138.4,122.7 138.5,120.9 138.6,120.9 138.7,122.3 138.8,120.1 138.9,121.9 139.0,122.8 139.1,115.7 139.2,119.3 139.3,121.5 139.4,119.8 139.4,110.6 139.5,121.9 139.6,120.2 139.7,117.0 139.8,117.7 139.9,116.7 140.0,121.0 140.1,115.9 140.2,116.0 140.3,119.2 140.4,116.1 140.5,118.5 140.6,116.3 140.7,115.0 140.8,97.7 140.9,104.3 141.0,111.1 141.1,104.1 141.2,102.8 141.3,105.9 141.4,111.0 141.5,110.6 141.6,107.7 141.7,106.4 141.7,112.4 141.8,115.6 141.9,115.1 142.0,118.5 142.1,109.3 142.2,112.7 142.3,120.2 142.4,120.3 142.5,117.6 142.6,121.9 142.7,121.5 142.8,121.6 142.9,119.2 143.0,124.0 143.1,121.5 143.2,121.1 143.3,115.6 143.4,120.4 143.5,114.8 143.6,123.3 143.7,119.5 143.8,121.3 143.9,123.1 144.0,121.0 144.0,120.4 144.1,118.8 144.2,121.0 144.3,116.5 144.4,124.2 144.5,116.3 144.6,122.0 144.7,116.7 144.8,116.3 144.9,117.1 145.0,122.0 145.1,123.1 145.2,121.8 145.3,118.7 145.4,118.8 145.5,115.9 145.6,123.8 145.7,121.5 145.8,115.8 145.9,124.7 146.0,118.2 146.1,121.1 146.2,122.5 146.3,114.9 146.3,120.9 146.4,123.3 146.5,123.7 146.6,119.3 146.7,120.3 146.8,120.0 146.9,119.9 147.0,121.1 147.1,122.2 147.2,122.7 147.3,122.1 147.4,121.9 147.5,120.4 147.6,122.2 147.7,119.3 147.8,118.9 147.9,116.2 148.0,116.7 148.1,122.7 148.2,118.7 148.3,116.1 148.4,119.0 148.5,115.5 148.6,119.3 148.6,113.5 148.7,111.7 148.8,109.7 148.9,104.1 149.0,97.7 149.1,97.5 149.2,103.9 149.3,97.5 149.4,93.4 149.5,98.5 149.6,103.5 149.7,103.3 149.8,97.9 149.9,105.2 150.0,114.2 150.1,109.6 150.2,115.2 150.3,113.3 150.4,120.3 150.5,114.3 150.6,109.5 150.7,118.3 150.8,121.0 150.9,115.0 150.9,124.2 151.0,115.5 151.1,118.6 151.2,119.2 151.3,118.9 151.4,120.8 151.5,120.0 151.6,121.7 151.7,121.7 151.8,116.7 151.9,117.4 152.0,117.4 152.1,121.0 152.2,126.2 152.3,122.6 152.4,121.5 152.5,122.0 152.6,121.2 152.7,122.4 152.8,119.7 152.9,124.9 153.0,124.1 153.1,120.3 153.2,122.5 153.2,121.7 153.3,121.5 153.4,122.5 153.5,118.2 153.6,123.4 153.7,115.0 153.8,120.9 153.9,122.5 154.0,122.6 154.1,124.8 154.2,117.1 154.3,120.5 154.4,118.7 154.5,123.6 154.6,117.6 154.7,124.7 154.8,120.2 154.9,117.9 155.0,122.1 155.1,118.2 155.2,125.2 155.3,119.9 155.4,120.4 155.5,117.8 155.5,121.0 155.6,121.7 155.7,122.0 155.8,123.7 155.9,122.0 156.0,122.2 156.1,123.6 156.2,121.5 156.3,122.7 156.4,125.1 156.5,122.4 156.6,123.4 156.7,120.9 156.8,121.9 156.9,122.5 157.0,122.0 157.1,123.7 157.2,120.8 157.3,124.9 157.4,120.4 157.5,125.2 157.6,123.5 157.7,122.9 157.8,124.8 157.8,120.5 157.9,123.9 158.0,122.9 158.1,122.2 158.2,122.1 158.3,122.3 158.4,124.9 158.5,121.3 158.6,116.8 158.7,123.7 158.8,123.1 158.9,123.6 159.0,122.0 159.1,122.6 159.2,124.3 159.3,120.8 159.4,121.9 159.5,119.5 159.6,122.2 159.7,119.3 159.8,121.1 159.9,120.6 160.0,125.3 160.1,120.6 160.1,122.8 160.2,120.7 160.3,120.0 160.4,119.9 160.5,122.7 160.6,123.4 160.7,124.4 160.8,121.2 160.9,125.6 161.0,121.1 161.1,117.1 161.2,121.8 161.3,123.2 161.4,120.8 161.5,120.6 161.6,119.1 161.7,118.7 161.8,107.6 161.9,119.6 162.0,122.3 162.1,123.0 162.2,123.3 162.3,125.0 162.4,124.1 162.4,124.8 162.5,122.5 162.6,113.2 162.7,116.4 162.8,119.8 162.9,122.9 163.0,123.4 163.1,123.8 163.2,117.6 163.3,123.7 163.4,122.8 163.5,121.2 163.6,124.3 163.7,121.2 163.8,123.7 163.9,122.7 164.0,120.3 164.1,120.9 164.2,116.7 164.3,119.8 164.4,122.7 164.5,123.3 164.6,121.2 164.7,119.1 164.7,117.8 164.8,123.2 164.9,121.0 165.0,120.5 165.1,117.5 165.2,117.0 165.3,120.0 165.4,117.3 165.5,115.7 165.6,122.2 165.7,115.3 165.8,117.8 165.9,120.4 166.0,115.1 166.1,119.0 166.2,116.5 166.3,120.5 166.4,119.2 166.5,118.2 166.6,120.6 166.7,121.1 166.8,121.3 166.9,119.3 167.0,115.9 167.0,118.0 167.1,119.0 167.2,119.2 167.3,123.4 167.4,120.4 167.5,119.5 167.6,121.1 167.7,123.1 167.8,122.8 167.9,124.0 168.0,124.1 168.1,123.3 168.2,123.7 168.3,117.5 168.4,122.5 168.5,123.5 168.6,123.1 168.7,122.3 168.8,113.0 168.9,120.2 169.0,118.5 169.1,118.6 169.2,118.5 169.3,119.4 169.3,122.4 169.4,119.9 169.5,119.1 169.6,117.8 169.7,120.6 169.8,118.6 169.9,120.4 170.0,123.5 170.1,124.1 170.2,119.7 170.3,115.4 170.4,117.2 170.5,117.7 170.6,112.7 170.7,107.9 170.8,108.4 170.9,111.6 171.0,110.6 171.1,106.3 171.2,109.7 171.3,110.8 171.4,107.8 171.5,110.9 171.6,119.6 171.6,118.2 171.7,117.6 171.8,122.0 171.9,119.2 172.0,117.6 172.1,120.3 172.2,122.0 172.3,120.9 172.4,116.3 172.5,118.8 172.6,117.3 172.7,120.8 172.8,122.8 172.9,121.4 173.0,123.0 173.1,120.2 173.2,119.4 173.3,121.1 173.4,120.9 173.5,122.6 173.6,120.0 173.7,119.9 173.8,122.5 173.9,121.9 173.9,122.4 174.0,121.3 174.1,122.0 174.2,121.3 174.3,123.8 174.4,119.9 174.5,122.9 174.6,122.3 174.7,119.9 174.8,120.9 174.9,122.1 175.0,121.1 175.1,121.0 175.2,119.1 175.3,123.2 175.4,119.4 175.5,120.9 175.6,120.2 175.7,125.5 175.8,114.0 175.9,120.6 176.0,124.4 176.1,121.4 176.2,120.7 176.2,121.6 176.3,120.6 176.4,119.5 176.5,122.2 176.6,120.4 176.7,121.9 176.8,119.1 176.9,114.3 177.0,121.9 177.1,118.5 177.2,119.7 177.3,114.9 177.4,119.4 177.5,121.2 177.6,119.3 177.7,114.7 177.8,120.8 177.9,115.3 178.0,116.1 178.1,120.0 178.2,116.6 178.3,120.2 178.4,115.1 178.5,122.5 178.5,121.5 178.6,121.6 178.7,121.4 178.8,121.4 178.9,124.2 179.0,117.6 179.1,125.8 179.2,123.1 179.3,119.7 179.4,126.0 179.5,122.1 179.6,123.0 179.7,119.4 179.8,117.3 179.9,122.8 180.0,124.5 180.1,121.1 180.2,123.5 180.3,122.4 180.4,123.9 180.5,121.9 180.6,123.5 180.7,120.9 180.8,116.1 180.9,120.5 180.9,121.8 181.0,120.5 181.1,124.7 181.2,121.6 181.3,122.3 181.4,117.6 181.5,118.6 181.6,120.0 181.7,122.6 181.8,121.2 181.9,119.9 182.0,124.7 182.1,123.3 182.2,123.0 182.3,124.8 182.4,123.0 182.5,121.8 182.6,116.4 182.7,121.5 182.8,118.6 182.9,118.3 183.0,120.7 183.1,119.3 183.2,111.8 183.2,124.9 183.3,117.1 183.4,121.6 183.5,125.1 183.6,123.0 183.7,121.5 183.8,118.1 183.9,120.7 184.0,122.7 184.1,123.0 184.2,122.8 184.3,122.0 184.4,121.3 184.5,122.6 184.6,126.1 184.7,123.4 184.8,121.9 184.9,120.7 185.0,122.5 185.1,121.8 185.2,119.7 185.3,119.9 185.4,119.3 185.5,122.7 185.5,120.6 185.6,120.0 185.7,121.5 185.8,121.5 185.9,116.4 186.0,118.7 186.1,121.5 186.2,120.7 186.3,118.2 186.4,119.8 186.5,120.9 186.6,121.2 186.7,117.5 186.8,111.2 186.9,117.3 187.0,121.1 187.1,121.8 187.2,123.2 187.3,118.2 187.4,121.6 187.5,119.8 187.6,121.0 187.7,113.6 187.8,121.2 187.8,119.8 187.9,125.4 188.0,117.8 188.1,118.6 188.2,120.0 188.3,117.1 188.4,120.2 188.5,117.4 188.6,118.7 188.7,117.8 188.8,121.3 188.9,121.7 189.0,118.3 189.1,118.4 189.2,120.8 189.3,120.3 189.4,118.6 189.5,115.3 189.6,124.0 189.7,121.2 189.8,117.6 189.9,119.2 190.0,121.2 190.1,121.3 190.1,119.0 190.2,119.8 190.3,117.7 190.4,118.9 190.5,115.7 190.6,116.2 190.7,110.7 190.8,120.8 190.9,113.1 191.0,120.3 191.1,120.4 191.2,118.7 191.3,115.6 191.4,118.4 191.5,119.6 191.6,116.2 191.7,114.7 191.8,119.0 191.9,117.7 192.0,119.4 192.1,116.9 192.2,120.0 192.3,123.4 192.4,116.9 192.4,121.2 192.5,118.3 192.6,113.6 192.7,117.5 192.8,118.4 192.9,122.0 193.0,117.8 193.1,119.0 193.2,121.4 193.3,120.9 193.4,119.6 193.5,115.3 193.6,117.5 193.7,117.0 193.8,121.3 193.9,116.7 194.0,110.6 194.1,120.1 194.2,113.7 194.3,119.9 194.4,118.7 194.5,117.9 194.6,119.4 194.7,119.3 194.7,119.1 194.8,117.3 194.9,117.5 195.0,120.5 195.1,115.2 195.2,122.0 195.3,112.1 195.4,116.2 195.5,118.8 195.6,117.8 195.7,116.2 195.8,118.2 195.9,120.4 196.0,120.1 196.1,119.9 196.2,120.9 196.3,115.7 196.4,120.6 196.5,125.8 196.6,119.5 196.7,120.3 196.8,111.4 196.9,118.8 197.0,118.4 197.0,121.4 197.1,114.4 197.2,118.1 197.3,123.8 197.4,121.5 197.5,117.9 197.6,120.8 197.7,120.8 197.8,119.4 197.9,121.2 198.0,120.7 198.1,121.6 198.2,124.8 198.3,120.0 198.4,123.4 198.5,117.5 198.6,117.0 198.7,124.8 198.8,124.9 198.9,113.5 199.0,117.2 199.1,121.9 199.2,120.4 199.3,126.2 199.3,119.6 199.4,117.8 199.5,125.1 199.6,122.9 199.7,120.2 199.8,121.3 199.9,115.8 200.0,116.1 200.1,124.4 200.2,124.0 200.3,114.5 200.4,120.1 200.5,121.6 200.6,121.6 200.7,121.1 200.8,119.9 200.9,125.2 201.0,124.0 201.1,124.8 201.2,123.3 201.3,121.2 201.4,119.8 201.5,116.3 201.6,126.8 201.6,119.9 201.7,122.3 201.8,117.4 201.9,121.9 202.0,122.4 202.1,116.6 202.2,126.8 202.3,120.8 202.4,116.8 202.5,123.1 202.6,121.6 202.7,117.7 202.8,118.2 202.9,119.6 203.0,119.0 203.1,122.7 203.2,123.9 203.3,118.3 203.4,122.1 203.5,125.0 203.6,125.2 203.7,124.1 203.8,117.8 203.9,119.9 203.9,124.1 204.0,122.8 204.1,125.0 204.2,120.7 204.3,121.1 204.4,119.6 204.5,123.9 204.6,123.7 204.7,121.8 204.8,121.8 204.9,123.2 205.0,121.6 205.1,119.5 205.2,124.3 205.3,125.3 205.4,121.8 205.5,122.6 205.6,123.8 205.7,125.3 205.8,123.4 205.9,120.0 206.0,122.4 206.1,119.5 206.2,114.6 206.2,124.0 206.3,115.3 206.4,123.0 206.5,121.8 206.6,115.9 206.7,123.2 206.8,122.8 206.9,123.8 207.0,120.4 207.1,117.1 207.2,115.8 207.3,122.2 207.4,120.9 207.5,120.9 207.6,121.9 207.7,125.5 207.8,124.1 207.9,123.0 208.0,120.7 208.1,124.2 208.2,120.4 208.3,118.5 208.4,118.8 208.5,123.1 208.5,122.4 208.6,120.4 208.7,122.8 208.8,121.6 208.9,112.3 209.0,114.6 209.1,119.5 209.2,125.0 209.3,122.0 209.4,113.6 209.5,121.4 209.6,124.8 209.7,118.6 209.8,121.4 209.9,122.6 210.0,114.6 210.1,120.1 210.2,123.1 210.3,120.3 210.4,123.2 210.5,123.1 210.6,122.8 210.7,118.3 210.8,125.7 210.8,125.4 210.9,121.7 211.0,122.0 211.1,120.9 211.2,116.9 211.3,122.1 211.4,123.6 211.5,118.8 211.6,117.8 211.7,125.9 211.8,125.5 211.9,124.8 212.0,118.5 212.1,116.9 212.2,124.6 212.3,121.5 212.4,120.2 212.5,117.1 212.6,121.8 212.7,123.8 212.8,118.9 212.9,121.3 213.0,122.9 213.1,124.6 213.1,122.1 213.2,120.7 213.3,121.7 213.4,123.4 213.5,122.2 213.6,121.8 213.7,118.2 213.8,120.7 213.9,123.1 214.0,122.9 214.1,114.7 214.2,118.2 214.3,120.1 214.4,119.7 214.5,119.7 214.6,118.0 214.7,120.9 214.8,110.0 214.9,123.1 215.0,125.1 215.1,127.4 215.2,123.7 215.3,122.8 215.4,120.8 215.4,122.1 215.5,124.0 215.6,121.5 215.7,113.1 215.8,119.6 215.9,123.3 216.0,119.3 216.1,116.9 216.2,117.9 216.3,123.4 216.4,124.6 216.5,122.7 216.6,125.0 216.7,124.0 216.8,122.3 216.9,120.0 217.0,122.3 217.1,124.3 217.2,119.7 217.3,121.4 217.4,121.8 217.5,122.7 217.6,124.1 217.7,124.1 217.7,119.9 217.8,123.9 217.9,121.0 218.0,116.7 218.1,116.2 218.2,115.6 218.3,116.3 218.4,121.5 218.5,117.8 218.6,117.5 218.7,121.7 218.8,124.1 218.9,121.0 219.0,124.5 219.1,113.7 219.2,121.0 219.3,118.0 219.4,121.0 219.5,120.9 219.6,121.9 219.7,123.8 219.8,121.6 219.9,124.7 220.0,111.9 220.0,117.9 220.1,124.3 220.2,122.2 220.3,118.8 220.4,120.1 220.5,117.6 220.6,120.8 220.7,119.0 220.8,114.1 220.9,122.1 221.0,121.6 221.1,119.4 221.2,120.7 221.3,116.7 221.4,118.7 221.5,121.8 221.6,111.3 221.7,118.1 221.8,118.8 221.9,110.2 222.0,114.0 222.1,118.2 222.2,113.6 222.3,117.4 222.3,121.5 222.4,121.4 222.5,119.2 222.6,115.5 222.7,119.2 222.8,114.7 222.9,114.7 223.0,116.9 223.1,116.3 223.2,118.7 223.3,116.2 223.4,119.1 223.5,119.2 223.6,120.7 223.7,119.9 223.8,118.8 223.9,116.4 224.0,118.7 224.1,121.4 224.2,117.3 224.3,119.2 224.4,120.4 224.5,120.9 224.6,122.4 224.6,117.9 224.7,120.5 224.8,123.1 224.9,122.3 225.0,123.5 225.1,122.2 225.2,121.9 225.3,121.8 225.4,113.0 225.5,120.9 225.6,123.5 225.7,116.0 225.8,117.6 225.9,119.4 226.0,121.7 226.1,114.9 226.2,112.4 226.3,114.0 226.4,117.8 226.5,118.6 226.6,120.0 226.7,116.2 226.8,118.0 226.9,117.7 226.9,115.1 227.0,117.1 227.1,118.9 227.2,116.8 227.3,111.4 227.4,119.2 227.5,124.7 227.6,116.2 227.7,120.6 227.8,118.4 227.9,114.7 228.0,119.9 228.1,119.3 228.2,124.7 228.3,119.4 228.4,119.7 228.5,117.4 228.6,119.8 228.7,120.1 228.8,119.6 228.9,120.6 229.0,120.1 229.1,116.9 229.2,124.4 229.2,123.2 229.3,122.9 229.4,112.1 229.5,123.3 229.6,116.3 229.7,123.5 229.8,111.6 229.9,122.1 230.0,116.5 230.1,119.5 230.2,113.3 230.3,111.0 230.4,110.4 230.5,110.6 230.6,111.4 230.7,114.1 230.8,118.5 230.9,119.3 231.0,120.4 231.1,122.7 231.2,115.7 231.3,115.9 231.4,123.9 231.5,122.4 231.5,122.5 231.6,119.1 231.7,123.7 231.8,123.1 231.9,119.6 232.0,118.0 232.1,121.4 232.2,123.8 232.3,119.1 232.4,123.5 232.5,122.2 232.6,121.5 232.7,119.6 232.8,121.7 232.9,123.7 233.0,123.7 233.1,121.6 233.2,120.3 233.3,119.6 233.4,123.1 233.5,121.4 233.6,125.9 233.7,113.6 233.8,118.5 233.8,122.2 233.9,122.3 234.0,123.8 234.1,122.5 234.2,124.7 234.3,119.9 234.4,120.9 234.5,121.3 234.6,125.8 234.7,118.4 234.8,123.6 234.9,122.5 235.0,118.4 235.1,120.2 235.2,123.4 235.3,111.1 235.4,118.7 235.5,126.6 235.6,123.2 235.7,123.6 235.8,122.0 235.9,117.2 236.0,119.6 236.1,123.6 236.1,125.1 236.2,119.6 236.3,123.1 236.4,123.0 236.5,119.0 236.6,118.1 236.7,122.8 236.8,120.8 236.9,123.0 237.0,123.9 237.1,118.5 237.2,116.2 237.3,125.8 237.4,120.8 237.5,123.1 237.6,118.0 237.7,122.6 237.8,122.1 237.9,125.3 238.0,122.0 238.1,121.8 238.2,121.9 238.3,119.9 238.4,122.5 238.4,121.3 238.5,118.3 238.6,120.6 238.7,123.8 238.8,120.0 238.9,125.1 239.0,119.5 239.1,121.5 239.2,124.2 239.3,120.3 239.4,123.8 239.5,122.3 239.6,124.2" fill="none" stroke="#111" stroke-width="1.15" stroke-linejoin="round"/>
<polyline points="0.0,185.1 0.1,186.2 0.2,188.2 0.3,186.0 0.4,187.0 0.5,185.9 0.6,183.6 0.7,184.3 0.8,185.4 0.9,186.1 1.0,184.4 1.1,184.0 1.2,185.1 1.2,184.5 1.3,183.0 1.4,183.7 1.5,183.4 1.6,187.7 1.7,185.1 1.8,183.2 1.9,185.9 2.0,184.3 2.1,183.1 2.2,184.7 2.3,185.5 2.4,184.8 2.5,185.3 2.6,184.8 2.7,187.0 2.8,188.3 2.9,185.8 3.0,182.6 3.1,189.9 3.2,186.3 3.3,185.9 3.4,184.2 3.5,184.2 3.5,184.2 3.6,183.9 3.7,184.8 3.8,186.1 3.9,185.5 4.0,187.2 4.1,184.9 4.2,185.5 4.3,186.3 4.4,183.6 4.5,186.4 4.6,187.3 4.7,185.1 4.8,187.9 4.9,186.6 5.0,186.2 5.1,187.7 5.2,190.2 5.3,186.7 5.4,186.6 5.5,186.4 5.6,181.5 5.7,186.8 5.8,182.4 5.8,188.8 5.9,189.1 6.0,185.7 6.1,185.7 6.2,183.9 6.3,186.8 6.4,184.9 6.5,186.0 6.6,183.5 6.7,188.5 6.8,183.3 6.9,185.7 7.0,185.7 7.1,185.7 7.2,184.9 7.3,186.6 7.4,186.1 7.5,184.5 7.6,184.1 7.7,184.1 7.8,185.4 7.9,185.6 8.0,185.1 8.1,186.5 8.1,184.2 8.2,183.2 8.3,186.3 8.4,185.1 8.5,184.9 8.6,185.9 8.7,186.4 8.8,184.9 8.9,184.8 9.0,184.1 9.1,188.2 9.2,184.8 9.3,185.9 9.4,185.4 9.5,184.1 9.6,185.8 9.7,184.6 9.8,184.9 9.9,185.1 10.0,186.9 10.1,188.0 10.2,182.9 10.3,183.3 10.4,184.0 10.4,186.3 10.5,184.1 10.6,182.5 10.7,184.8 10.8,185.2 10.9,185.1 11.0,187.2 11.1,183.8 11.2,187.2 11.3,189.1 11.4,184.5 11.5,186.7 11.6,181.2 11.7,186.4 11.8,182.4 11.9,186.4 12.0,184.7 12.1,187.6 12.2,183.4 12.3,185.0 12.4,183.5 12.5,186.3 12.6,188.1 12.7,184.6 12.7,184.0 12.8,186.2 12.9,184.6 13.0,183.8 13.1,183.6 13.2,187.5 13.3,186.8 13.4,183.8 13.5,186.8 13.6,184.2 13.7,186.1 13.8,187.8 13.9,184.3 14.0,186.8 14.1,186.7 14.2,186.8 14.3,185.6 14.4,186.5 14.5,184.1 14.6,187.1 14.7,186.0 14.8,185.0 14.9,183.9 15.0,184.5 15.0,184.7 15.1,186.3 15.2,186.1 15.3,182.9 15.4,185.0 15.5,184.9 15.6,187.0 15.7,184.7 15.8,186.9 15.9,186.3 16.0,187.7 16.1,185.3 16.2,187.9 16.3,187.6 16.4,185.4 16.5,183.7 16.6,183.3 16.7,185.2 16.8,189.2 16.9,187.7 17.0,186.9 17.1,186.8 17.2,185.1 17.3,187.7 17.3,185.4 17.4,186.3 17.5,185.2 17.6,186.3 17.7,187.0 17.8,185.1 17.9,184.0 18.0,186.8 18.1,185.4 18.2,186.4 18.3,184.7 18.4,188.2 18.5,185.3 18.6,186.4 18.7,185.2 18.8,185.2 18.9,186.9 19.0,183.3 19.1,187.0 19.2,187.7 19.3,187.5 19.4,184.5 19.5,187.0 19.6,187.0 19.6,184.9 19.7,184.1 19.8,184.2 19.9,180.5 20.0,185.3 20.1,184.5 20.2,188.0 20.3,187.2 20.4,186.1 20.5,184.5 20.6,187.4 20.7,184.3 20.8,181.9 20.9,186.3 21.0,186.2 21.1,185.5 21.2,187.1 21.3,188.3 21.4,187.4 21.5,185.7 21.6,187.7 21.7,185.2 21.8,181.7 21.9,184.4 21.9,184.0 22.0,187.7 22.1,186.7 22.2,184.2 22.3,185.4 22.4,184.2 22.5,183.9 22.6,184.9 22.7,186.3 22.8,186.9 22.9,184.9 23.0,186.3 23.1,183.9 23.2,184.5 23.3,186.8 23.4,188.1 23.5,187.3 23.6,186.9 23.7,184.1 23.8,187.7 23.9,185.6 24.0,185.1 24.1,184.5 24.2,183.5 24.2,184.8 24.3,185.0 24.4,186.9 24.5,184.2 24.6,184.3 24.7,185.0 24.8,188.7 24.9,185.0 25.0,183.1 25.1,183.6 25.2,182.6 25.3,185.4 25.4,183.7 25.5,183.3 25.6,185.6 25.7,186.8 25.8,186.7 25.9,185.3 26.0,184.6 26.1,185.1 26.2,184.3 26.3,183.2 26.4,183.6 26.5,185.4 26.5,185.8 26.6,186.0 26.7,184.0 26.8,186.5 26.9,182.8 27.0,184.2 27.1,184.4 27.2,181.5 27.3,185.7 27.4,184.6 27.5,185.8 27.6,185.8 27.7,183.9 27.8,184.8 27.9,187.0 28.0,186.0 28.1,184.0 28.2,187.6 28.3,183.5 28.4,185.0 28.5,186.0 28.6,184.7 28.7,186.9 28.8,187.6 28.8,185.1 28.9,184.6 29.0,185.5 29.1,185.7 29.2,184.8 29.3,181.4 29.4,185.6 29.5,186.5 29.6,186.1 29.7,183.8 29.8,181.2 29.9,186.7 30.0,186.0 30.1,187.0 30.2,182.7 30.3,184.4 30.4,186.1 30.5,189.0 30.6,187.1 30.7,185.0 30.8,185.7 30.9,185.1 31.0,185.6 31.1,186.5 31.1,184.3 31.2,185.6 31.3,187.5 31.4,187.0 31.5,185.8 31.6,185.5 31.7,185.4 31.8,183.0 31.9,187.6 32.0,181.7 32.1,185.5 32.2,186.2 32.3,185.6 32.4,187.7 32.5,185.3 32.6,184.9 32.7,187.3 32.8,185.8 32.9,183.9 33.0,186.2 33.1,188.1 33.2,185.3 33.3,183.9 33.4,182.7 33.4,186.4 33.5,183.7 33.6,186.6 33.7,184.3 33.8,186.4 33.9,184.5 34.0,186.3 34.1,181.9 34.2,186.0 34.3,185.2 34.4,184.4 34.5,185.3 34.6,185.7 34.7,187.3 34.8,183.7 34.9,187.3 35.0,185.1 35.1,187.7 35.2,184.6 35.3,184.0 35.4,182.2 35.5,186.5 35.6,181.6 35.7,184.2 35.7,186.6 35.8,185.1 35.9,185.4 36.0,181.5 36.1,185.1 36.2,184.7 36.3,184.1 36.4,184.7 36.5,183.0 36.6,184.3 36.7,181.9 36.8,182.6 36.9,184.2 37.0,185.3 37.1,187.6 37.2,178.9 37.3,186.5 37.4,182.2 37.5,186.0 37.6,184.6 37.7,183.9 37.8,184.1 37.9,187.6 38.0,183.2 38.0,185.1 38.1,184.0 38.2,185.1 38.3,180.5 38.4,185.8 38.5,183.6 38.6,184.7 38.7,187.2 38.8,184.4 38.9,184.0 39.0,185.1 39.1,183.4 39.2,188.5 39.3,184.9 39.4,183.8 39.5,183.9 39.6,184.0 39.7,182.1 39.8,186.6 39.9,181.6 40.0,184.3 40.1,185.3 40.2,185.2 40.3,184.1 40.3,185.4 40.4,183.9 40.5,183.3 40.6,183.9 40.7,181.5 40.8,183.5 40.9,186.4 41.0,186.0 41.1,184.9 41.2,183.8 41.3,183.9 41.4,182.4 41.5,184.6 41.6,181.9 41.7,182.3 41.8,185.9 41.9,185.0 42.0,183.0 42.1,183.1 42.2,180.0 42.3,186.4 42.4,184.4 42.5,180.9 42.6,185.6 42.6,180.3 42.7,185.0 42.8,184.6 42.9,184.0 43.0,183.8 43.1,185.4 43.2,182.4 43.3,183.7 43.4,180.9 43.5,184.0 43.6,184.3 43.7,181.7 43.8,180.4 43.9,181.5 44.0,182.5 44.1,183.3 44.2,184.0 44.3,179.1 44.4,180.9 44.5,184.4 44.6,181.4 44.7,182.6 44.8,183.3 44.9,183.3 44.9,185.4 45.0,181.4 45.1,179.7 45.2,183.4 45.3,185.0 45.4,183.3 45.5,183.9 45.6,180.9 45.7,184.3 45.8,178.6 45.9,185.7 46.0,182.1 46.1,179.2 46.2,179.2 46.3,178.1 46.4,182.4 46.5,179.2 46.6,185.0 46.7,179.9 46.8,183.5 46.9,182.8 47.0,180.6 47.1,182.6 47.2,184.9 47.2,183.7 47.3,184.5 47.4,181.3 47.5,182.6 47.6,182.2 47.7,183.8 47.8,187.6 47.9,183.4 48.0,184.0 48.1,183.1 48.2,182.3 48.3,184.5 48.4,183.9 48.5,179.5 48.6,181.6 48.7,182.8 48.8,183.4 48.9,182.8 49.0,186.5 49.1,182.6 49.2,181.1 49.3,178.7 49.4,182.3 49.5,181.4 49.5,177.8 49.6,183.6 49.7,183.8 49.8,181.5 49.9,177.3 50.0,182.7 50.1,188.1 50.2,183.3 50.3,183.5 50.4,182.1 50.5,182.4 50.6,185.9 50.7,185.7 50.8,182.8 50.9,183.2 51.0,181.8 51.1,181.2 51.2,185.0 51.3,184.9 51.4,184.7 51.5,187.2 51.6,180.8 51.7,185.4 51.8,183.8 51.8,186.8 51.9,184.6 52.0,184.1 52.1,185.7 52.2,183.1 52.3,183.3 52.4,181.9 52.5,185.4 52.6,182.9 52.7,181.8 52.8,184.0 52.9,187.7 53.0,184.2 53.1,184.2 53.2,181.6 53.3,186.7 53.4,182.0 53.5,183.4 53.6,184.3 53.7,183.3 53.8,187.1 53.9,182.1 54.0,186.8 54.1,185.2 54.1,185.6 54.2,183.2 54.3,181.5 54.4,184.5 54.5,183.6 54.6,184.7 54.7,182.1 54.8,186.7 54.9,184.6 55.0,184.5 55.1,181.6 55.2,185.8 55.3,185.2 55.4,181.1 55.5,186.6 55.6,186.4 55.7,187.9 55.8,185.2 55.9,187.3 56.0,187.3 56.1,187.6 56.2,182.8 56.3,186.4 56.4,184.1 56.4,181.9 56.5,184.7 56.6,182.6 56.7,182.0 56.8,184.0 56.9,180.6 57.0,184.5 57.1,185.9 57.2,187.4 57.3,182.2 57.4,185.8 57.5,181.4 57.6,184.9 57.7,184.5 57.8,182.4 57.9,189.4 58.0,186.3 58.1,186.0 58.2,183.4 58.3,186.9 58.4,186.4 58.5,185.1 58.6,186.8 58.7,184.3 58.7,182.9 58.8,183.3 58.9,185.1 59.0,189.0 59.1,181.9 59.2,185.8 59.3,182.9 59.4,187.4 59.5,182.3 59.6,187.4 59.7,184.1 59.8,184.8 59.9,185.5 60.0,185.1 60.1,182.9 60.2,185.5 60.3,185.9 60.4,182.1 60.5,188.5 60.6,181.1 60.7,183.1 60.8,184.4 60.9,184.2 61.0,183.4 61.1,183.4 61.1,187.8 61.2,184.7 61.3,182.2 61.4,187.5 61.5,186.5 61.6,187.2 61.7,185.6 61.8,185.8 61.9,186.1 62.0,188.3 62.1,188.3 62.2,183.6 62.3,183.4 62.4,183.3 62.5,187.4 62.6,188.5 62.7,186.4 62.8,184.9 62.9,185.7 63.0,181.5 63.1,184.7 63.2,186.3 63.3,187.1 63.4,185.6 63.4,182.6 63.5,186.9 63.6,185.1 63.7,187.7 63.8,185.0 63.9,186.1 64.0,185.8 64.1,187.5 64.2,186.7 64.3,186.8 64.4,186.3 64.5,180.9 64.6,186.7 64.7,188.8 64.8,186.0 64.9,185.1 65.0,187.0 65.1,185.4 65.2,185.4 65.3,187.0 65.4,183.6 65.5,186.2 65.6,187.2 65.7,185.4 65.7,184.8 65.8,184.3 65.9,185.8 66.0,185.7 66.1,185.9 66.2,185.1 66.3,188.8 66.4,186.7 66.5,190.8 66.6,184.6 66.7,185.3 66.8,184.7 66.9,185.1 67.0,183.3 67.1,185.2 67.2,187.0 67.3,185.2 67.4,185.7 67.5,186.3 67.6,185.4 67.7,187.7 67.8,186.3 67.9,188.0 68.0,187.0 68.0,185.2 68.1,183.0 68.2,184.4 68.3,185.6 68.4,185.0 68.5,183.0 68.6,184.8 68.7,186.3 68.8,184.8 68.9,186.3 69.0,187.8 69.1,183.7 69.2,185.0 69.3,185.9 69.4,185.7 69.5,184.5 69.6,185.8 69.7,188.9 69.8,182.4 69.9,183.0 70.0,184.9 70.1,181.6 70.2,184.5 70.3,183.0 70.3,185.9 70.4,184.0 70.5,187.0 70.6,186.1 70.7,186.4 70.8,183.7 70.9,185.7 71.0,183.4 71.1,186.5 71.2,183.8 71.3,185.2 71.4,186.9 71.5,187.1 71.6,185.3 71.7,188.2 71.8,182.8 71.9,187.5 72.0,185.1 72.1,186.7 72.2,184.1 72.3,187.6 72.4,185.5 72.5,187.3 72.6,182.0 72.6,184.5 72.7,184.4 72.8,187.5 72.9,185.6 73.0,185.6 73.1,185.4 73.2,184.3 73.3,183.9 73.4,188.1 73.5,185.8 73.6,184.1 73.7,185.2 73.8,183.8 73.9,186.6 74.0,185.9 74.1,186.6 74.2,185.3 74.3,184.3 74.4,185.2 74.5,185.4 74.6,185.6 74.7,186.3 74.8,186.8 74.9,184.0 74.9,187.0 75.0,185.0 75.1,184.5 75.2,187.6 75.3,185.0 75.4,186.1 75.5,185.7 75.6,186.8 75.7,186.0 75.8,182.7 75.9,184.6 76.0,185.8 76.1,184.2 76.2,186.1 76.3,185.2 76.4,188.8 76.5,185.4 76.6,184.5 76.7,183.9 76.8,187.1 76.9,183.3 77.0,184.4 77.1,185.0 77.2,187.9 77.2,187.4 77.3,184.2 77.4,187.2 77.5,186.2 77.6,186.5 77.7,186.4 77.8,185.8 77.9,185.8 78.0,184.2 78.1,184.7 78.2,186.3 78.3,184.7 78.4,185.9 78.5,181.7 78.6,187.2 78.7,187.1 78.8,187.9 78.9,186.2 79.0,186.2 79.1,183.6 79.2,185.9 79.3,184.1 79.4,184.2 79.5,186.5 79.5,186.7 79.6,182.6 79.7,181.3 79.8,188.9 79.9,186.1 80.0,185.2 80.1,183.7 80.2,188.6 80.3,187.8 80.4,188.8 80.5,184.9 80.6,185.1 80.7,185.6 80.8,187.0 80.9,185.6 81.0,183.1 81.1,186.3 81.2,185.9 81.3,185.2 81.4,186.1 81.5,183.3 81.6,185.5 81.7,181.9 81.8,187.5 81.8,186.2 81.9,187.5 82.0,185.0 82.1,186.3 82.2,185.6 82.3,184.8 82.4,185.6 82.5,185.2 82.6,184.3 82.7,184.6 82.8,185.3 82.9,184.3 83.0,185.6 83.1,187.5 83.2,188.1 83.3,186.2 83.4,186.4 83.5,186.7 83.6,182.0 83.7,183.6 83.8,184.3 83.9,185.1 84.0,186.4 84.1,185.1 84.1,184.5 84.2,186.3 84.3,184.8 84.4,185.4 84.5,186.2 84.6,183.0 84.7,186.3 84.8,186.5 84.9,188.2 85.0,184.4 85.1,187.4 85.2,187.9 85.3,184.7 85.4,182.1 85.5,183.9 85.6,184.9 85.7,185.2 85.8,183.4 85.9,182.9 86.0,184.2 86.1,185.8 86.2,181.3 86.3,181.3 86.4,183.3 86.4,182.8 86.5,184.9 86.6,180.4 86.7,177.5 86.8,181.4 86.9,175.7 87.0,177.9 87.1,179.3 87.2,178.9 87.3,174.5 87.4,176.7 87.5,174.9 87.6,171.9 87.7,169.8 87.8,180.4 87.9,175.1 88.0,175.5 88.1,174.3 88.2,169.0 88.3,170.5 88.4,172.3 88.5,175.8 88.6,168.5 88.7,172.3 88.7,170.6 88.8,167.9 88.9,167.6 89.0,168.4 89.1,167.7 89.2,167.3 89.3,170.3 89.4,166.2 89.5,159.5 89.6,162.7 89.7,151.8 89.8,164.1 89.9,162.7 90.0,162.7 90.1,161.0 90.2,159.3 90.3,156.9 90.4,162.0 90.5,163.1 90.6,159.7 90.7,162.1 90.8,161.6 90.9,153.7 91.0,159.7 91.0,156.3 91.1,152.5 91.2,154.9 91.3,151.8 91.4,152.8 91.5,150.8 91.6,150.9 91.7,146.3 91.8,148.7 91.9,144.0 92.0,151.6 92.1,145.7 92.2,144.8 92.3,146.2 92.4,139.3 92.5,141.2 92.6,142.8 92.7,144.2 92.8,136.8 92.9,142.3 93.0,136.4 93.1,139.6 93.2,147.3 93.3,138.3 93.3,136.2 93.4,138.6 93.5,142.5 93.6,141.1 93.7,144.6 93.8,142.1 93.9,148.5 94.0,147.1 94.1,144.7 94.2,145.6 94.3,147.9 94.4,150.8 94.5,145.2 94.6,152.8 94.7,149.0 94.8,149.5 94.9,148.5 95.0,156.2 95.1,152.9 95.2,147.8 95.3,156.1 95.4,156.3 95.5,154.8 95.6,153.5 95.6,158.0 95.7,155.8 95.8,156.9 95.9,158.1 96.0,157.5 96.1,158.6 96.2,162.1 96.3,160.1 96.4,166.1 96.5,157.5 96.6,160.4 96.7,160.4 96.8,162.4 96.9,164.0 97.0,162.2 97.1,159.2 97.2,163.0 97.3,167.3 97.4,165.5 97.5,162.8 97.6,166.1 97.7,163.1 97.8,166.6 97.9,171.3 97.9,169.1 98.0,169.5 98.1,167.8 98.2,174.5 98.3,168.1 98.4,169.9 98.5,170.0 98.6,176.1 98.7,176.8 98.8,175.6 98.9,174.9 99.0,172.3 99.1,170.5 99.2,170.6 99.3,174.9 99.4,177.1 99.5,178.9 99.6,177.9 99.7,176.8 99.8,177.0 99.9,178.0 100.0,181.8 100.1,179.4 100.2,179.9 100.2,181.3 100.3,180.9 100.4,182.9 100.5,184.3 100.6,179.7 100.7,185.5 100.8,183.6 100.9,184.8 101.0,187.3 101.1,186.6 101.2,186.7 101.3,188.1 101.4,187.1 101.5,186.1 101.6,184.4 101.7,187.6 101.8,185.7 101.9,186.6 102.0,186.5 102.1,184.0 102.2,185.4 102.3,183.8 102.4,187.3 102.5,186.0 102.5,186.4 102.6,187.0 102.7,181.1 102.8,181.2 102.9,186.3 103.0,187.1 103.1,184.6 103.2,184.2 103.3,187.7 103.4,187.0 103.5,188.5 103.6,186.4 103.7,185.3 103.8,184.6 103.9,188.1 104.0,187.0 104.1,186.4 104.2,184.2 104.3,184.3 104.4,182.5 104.5,187.8 104.6,186.1 104.7,185.6 104.8,186.9 104.8,187.0 104.9,184.4 105.0,184.3 105.1,186.7 105.2,186.5 105.3,185.2 105.4,185.9 105.5,184.1 105.6,185.8 105.7,186.9 105.8,183.1 105.9,186.5 106.0,187.0 106.1,186.9 106.2,186.5 106.3,187.9 106.4,185.3 106.5,187.3 106.6,185.4 106.7,183.5 106.8,184.7 106.9,182.3 107.0,186.9 107.1,185.8 107.1,182.6 107.2,183.7 107.3,183.8 107.4,189.6 107.5,187.0 107.6,185.5 107.7,185.1 107.8,183.1 107.9,184.5 108.0,185.0 108.1,186.1 108.2,185.9 108.3,185.2 108.4,185.2 108.5,186.2 108.6,188.2 108.7,187.3 108.8,186.3 108.9,184.3 109.0,183.5 109.1,186.2 109.2,183.5 109.3,186.3 109.4,184.8 109.4,185.9 109.5,184.2 109.6,186.7 109.7,183.0 109.8,185.8 109.9,182.7 110.0,185.7 110.1,183.2 110.2,183.2 110.3,186.1 110.4,186.4 110.5,184.0 110.6,183.5 110.7,187.4 110.8,184.7 110.9,187.0 111.0,185.2 111.1,185.6 111.2,186.2 111.3,183.2 111.4,181.4 111.5,185.1 111.6,185.5 111.7,186.6 111.7,184.1 111.8,188.5 111.9,189.8 112.0,185.8 112.1,185.2 112.2,183.9 112.3,183.6 112.4,185.1 112.5,183.0 112.6,187.2 112.7,185.7 112.8,186.4 112.9,186.7 113.0,188.0 113.1,184.9 113.2,185.2 113.3,186.2 113.4,189.0 113.5,185.5 113.6,183.6 113.7,184.9 113.8,184.7 113.9,186.9 114.0,186.2 114.0,186.9 114.1,186.1 114.2,187.0 114.3,185.7 114.4,187.3 114.5,186.6 114.6,188.8 114.7,185.8 114.8,189.2 114.9,186.7 115.0,184.8 115.1,186.1 115.2,181.5 115.3,186.6 115.4,186.3 115.5,184.9 115.6,183.0 115.7,186.9 115.8,183.6 115.9,185.3 116.0,186.4 116.1,187.4 116.2,189.2 116.3,183.4 116.3,184.6 116.4,184.4 116.5,186.3 116.6,182.6 116.7,186.3 116.8,184.1 116.9,186.9 117.0,184.3 117.1,185.3 117.2,184.6 117.3,185.2 117.4,180.7 117.5,183.5 117.6,184.9 117.7,187.0 117.8,188.3 117.9,185.3 118.0,184.0 118.1,185.1 118.2,187.8 118.3,184.7 118.4,185.3 118.5,185.3 118.6,184.4 118.6,183.8 118.7,182.1 118.8,183.5 118.9,185.7 119.0,186.2 119.1,183.0 119.2,186.7 119.3,183.9 119.4,184.4 119.5,185.5 119.6,182.7 119.7,186.8 119.8,187.8 119.9,187.1 120.0,188.2 120.1,184.0 120.2,187.4 120.3,185.1 120.4,185.1 120.5,187.1 120.6,185.1 120.7,183.7 120.8,187.8 120.9,183.9 121.0,187.7 121.0,186.4 121.1,184.3 121.2,185.6 121.3,187.7 121.4,186.8 121.5,184.9 121.6,185.6 121.7,185.9 121.8,185.9 121.9,185.1 122.0,185.4 122.1,184.8 122.2,186.8 122.3,186.2 122.4,186.7 122.5,186.9 122.6,188.4 122.7,186.9 122.8,187.7 122.9,186.5 123.0,180.6 123.1,184.5 123.2,187.7 123.3,186.5 123.3,186.0 123.4,185.0 123.5,183.3 123.6,182.0 123.7,181.9 123.8,178.3 123.9,180.0 124.0,175.9 124.1,172.4 124.2,175.8 124.3,180.0 124.4,179.4 124.5,188.2 124.6,185.3 124.7,185.6 124.8,184.7 124.9,185.4 125.0,186.8 125.1,185.1 125.2,182.4 125.3,185.9 125.4,182.4 125.5,181.9 125.6,184.4 125.6,186.1 125.7,186.8 125.8,184.1 125.9,186.2 126.0,185.2 126.1,184.3 126.2,184.3 126.3,183.0 126.4,185.8 126.5,186.4 126.6,186.2 126.7,185.4 126.8,188.1 126.9,183.5 127.0,184.0 127.1,185.7 127.2,185.0 127.3,187.5 127.4,186.5 127.5,186.7 127.6,187.9 127.7,184.2 127.8,186.2 127.9,183.6 127.9,182.6 128.0,185.4 128.1,187.0 128.2,187.9 128.3,185.8 128.4,185.2 128.5,189.2 128.6,186.8 128.7,184.3 128.8,184.6 128.9,186.3 129.0,185.4 129.1,186.9 129.2,184.7 129.3,184.7 129.4,187.6 129.5,186.4 129.6,184.1 129.7,186.6 129.8,184.0 129.9,181.1 130.0,187.0 130.1,187.6 130.2,184.0 130.2,187.6 130.3,188.3 130.4,184.7 130.5,184.3 130.6,186.5 130.7,186.8 130.8,184.8 130.9,187.1 131.0,183.6 131.1,185.2 131.2,186.5 131.3,186.3 131.4,187.3 131.5,184.9 131.6,187.8 131.7,184.2 131.8,188.6 131.9,184.5 132.0,184.3 132.1,182.3 132.2,184.1 132.3,183.8 132.4,185.5 132.5,184.2 132.5,184.0 132.6,182.6 132.7,185.6 132.8,185.2 132.9,187.2 133.0,185.8 133.1,185.0 133.2,184.8 133.3,183.6 133.4,186.8 133.5,183.1 133.6,184.4 133.7,185.4 133.8,184.5 133.9,186.3 134.0,179.7 134.1,185.8 134.2,187.3 134.3,181.1 134.4,186.9 134.5,184.4 134.6,184.2 134.7,185.3 134.8,186.0 134.8,187.4 134.9,183.2 135.0,186.4 135.1,187.6 135.2,186.7 135.3,187.7 135.4,186.7 135.5,187.7 135.6,187.2 135.7,184.1 135.8,184.6 135.9,185.0 136.0,188.3 136.1,187.3 136.2,186.6 136.3,186.3 136.4,183.9 136.5,184.3 136.6,186.4 136.7,181.9 136.8,187.7 136.9,185.5 137.0,185.1 137.1,188.2 137.1,185.9 137.2,185.7 137.3,186.7 137.4,187.6 137.5,186.8 137.6,183.3 137.7,184.2 137.8,185.5 137.9,186.1 138.0,187.0 138.1,187.4 138.2,182.7 138.3,184.6 138.4,183.4 138.5,186.3 138.6,184.3 138.7,186.7 138.8,190.1 138.9,187.2 139.0,186.8 139.1,186.4 139.2,185.7 139.3,187.4 139.4,185.4 139.4,182.4 139.5,183.6 139.6,185.7 139.7,184.2 139.8,181.3 139.9,184.1 140.0,177.5 140.1,183.9 140.2,184.7 140.3,180.7 140.4,180.9 140.5,182.0 140.6,179.6 140.7,180.5 140.8,183.1 140.9,184.1 141.0,185.5 141.1,181.4 141.2,183.1 141.3,181.5 141.4,184.8 141.5,181.6 141.6,186.2 141.7,183.8 141.7,187.6 141.8,186.1 141.9,185.5 142.0,187.3 142.1,184.8 142.2,185.9 142.3,186.5 142.4,186.6 142.5,184.4 142.6,186.4 142.7,184.3 142.8,186.4 142.9,187.4 143.0,185.0 143.1,185.7 143.2,184.2 143.3,189.2 143.4,184.0 143.5,185.4 143.6,187.1 143.7,185.9 143.8,186.0 143.9,183.4 144.0,185.0 144.0,188.8 144.1,185.2 144.2,187.1 144.3,184.2 144.4,188.4 144.5,187.1 144.6,184.7 144.7,182.2 144.8,180.9 144.9,185.5 145.0,186.6 145.1,188.7 145.2,187.9 145.3,186.7 145.4,189.6 145.5,185.4 145.6,187.0 145.7,184.5 145.8,187.0 145.9,186.7 146.0,186.6 146.1,188.6 146.2,187.3 146.3,187.1 146.3,183.8 146.4,183.7 146.5,185.9 146.6,184.4 146.7,181.5 146.8,187.4 146.9,188.2 147.0,186.5 147.1,184.6 147.2,186.5 147.3,186.0 147.4,186.9 147.5,184.9 147.6,184.4 147.7,187.5 147.8,182.8 147.9,186.8 148.0,187.7 148.1,187.7 148.2,188.2 148.3,185.5 148.4,184.0 148.5,186.4 148.6,185.4 148.6,187.3 148.7,186.5 148.8,184.6 148.9,187.9 149.0,185.5 149.1,189.9 149.2,183.7 149.3,186.5 149.4,185.5 149.5,186.7 149.6,187.5 149.7,183.4 149.8,185.1 149.9,186.9 150.0,185.9 150.1,184.8 150.2,186.1 150.3,186.0 150.4,182.5 150.5,186.3 150.6,185.8 150.7,185.4 150.8,183.1 150.9,185.2 150.9,185.4 151.0,185.2 151.1,186.5 151.2,182.1 151.3,186.7 151.4,183.0 151.5,183.0 151.6,188.4 151.7,182.9 151.8,185.7 151.9,183.5 152.0,186.9 152.1,184.0 152.2,184.5 152.3,188.2 152.4,185.2 152.5,182.5 152.6,186.8 152.7,185.0 152.8,185.2 152.9,189.0 153.0,184.2 153.1,186.7 153.2,185.8 153.2,187.5 153.3,185.2 153.4,185.3 153.5,188.5 153.6,180.5 153.7,185.3 153.8,186.6 153.9,187.4 154.0,186.1 154.1,183.7 154.2,186.0 154.3,185.6 154.4,186.8 154.5,186.0 154.6,187.7 154.7,184.6 154.8,182.4 154.9,185.2 155.0,185.2 155.1,187.6 155.2,184.9 155.3,185.4 155.4,183.7 155.5,185.1 155.5,185.9 155.6,186.9 155.7,185.5 155.8,187.8 155.9,185.9 156.0,187.8 156.1,186.2 156.2,187.7 156.3,187.7 156.4,186.9 156.5,184.3 156.6,185.6 156.7,185.9 156.8,186.8 156.9,185.2 157.0,186.7 157.1,182.1 157.2,186.5 157.3,186.1 157.4,182.6 157.5,181.9 157.6,183.8 157.7,186.5 157.8,183.7 157.8,182.7 157.9,186.9 158.0,186.5 158.1,183.7 158.2,183.9 158.3,185.2 158.4,187.7 158.5,185.3 158.6,181.1 158.7,186.4 158.8,186.6 158.9,184.0 159.0,181.9 159.1,185.7 159.2,183.8 159.3,183.6 159.4,185.0 159.5,187.0 159.6,185.3 159.7,185.7 159.8,184.3 159.9,184.6 160.0,185.3 160.1,184.6 160.1,183.6 160.2,183.9 160.3,187.2 160.4,186.4 160.5,185.2 160.6,184.5 160.7,185.6 160.8,186.9 160.9,185.8 161.0,186.4 161.1,186.2 161.2,183.2 161.3,185.3 161.4,185.2 161.5,186.9 161.6,186.0 161.7,184.9 161.8,180.7 161.9,182.6 162.0,184.9 162.1,183.6 162.2,185.1 162.3,187.4 162.4,183.6 162.4,185.2 162.5,182.9 162.6,185.1 162.7,185.2 162.8,185.2 162.9,184.6 163.0,185.8 163.1,185.8 163.2,183.7 163.3,187.5 163.4,185.0 163.5,185.3 163.6,181.1 163.7,185.0 163.8,185.1 163.9,185.9 164.0,185.4 164.1,185.9 164.2,187.2 164.3,186.9 164.4,189.1 164.5,185.0 164.6,182.6 164.7,185.5 164.7,186.7 164.8,187.6 164.9,187.1 165.0,182.8 165.1,186.6 165.2,186.7 165.3,187.4 165.4,185.6 165.5,183.6 165.6,187.0 165.7,185.1 165.8,184.7 165.9,183.2 166.0,185.4 166.1,183.5 166.2,185.8 166.3,185.0 166.4,188.7 166.5,188.3 166.6,186.5 166.7,184.3 166.8,183.0 166.9,187.7 167.0,186.8 167.0,185.0 167.1,184.2 167.2,186.3 167.3,184.5 167.4,189.8 167.5,184.8 167.6,186.5 167.7,184.4 167.8,184.8 167.9,184.8 168.0,186.2 168.1,183.3 168.2,184.7 168.3,185.1 168.4,187.5 168.5,187.0 168.6,184.6 168.7,179.6 168.8,186.0 168.9,187.0 169.0,182.6 169.1,185.4 169.2,185.9 169.3,184.2 169.3,185.1 169.4,186.6 169.5,185.9 169.6,185.8 169.7,181.8 169.8,183.9 169.9,185.2 170.0,186.7 170.1,185.5 170.2,184.6 170.3,188.0 170.4,189.4 170.5,187.3 170.6,184.4 170.7,183.9 170.8,185.5 170.9,184.8 171.0,185.4 171.1,188.7 171.2,183.4 171.3,187.4 171.4,186.5 171.5,187.6 171.6,183.2 171.6,184.8 171.7,183.5 171.8,184.2 171.9,182.6 172.0,185.5 172.1,184.0 172.2,188.3 172.3,187.0 172.4,187.8 172.5,186.1 172.6,183.4 172.7,188.0 172.8,188.1 172.9,186.2 173.0,186.8 173.1,185.0 173.2,184.7 173.3,187.9 173.4,183.6 173.5,187.4 173.6,186.2 173.7,185.0 173.8,183.6 173.9,185.1 173.9,187.0 174.0,186.1 174.1,184.0 174.2,189.1 174.3,186.5 174.4,185.7 174.5,186.1 174.6,184.9 174.7,184.4 174.8,186.6 174.9,185.2 175.0,182.1 175.1,186.4 175.2,187.3 175.3,184.3 175.4,185.5 175.5,185.1 175.6,186.6 175.7,184.2 175.8,186.8 175.9,186.6 176.0,187.0 176.1,185.7 176.2,188.3 176.2,186.5 176.3,182.2 176.4,184.9 176.5,184.6 176.6,188.4 176.7,183.0 176.8,183.9 176.9,183.5 177.0,182.4 177.1,182.4 177.2,182.1 177.3,183.9 177.4,183.6 177.5,185.1 177.6,180.7 177.7,183.9 177.8,187.6 177.9,184.0 178.0,184.2 178.1,185.0 178.2,186.6 178.3,186.0 178.4,185.9 178.5,185.4 178.5,188.6 178.6,184.0 178.7,187.2 178.8,186.1 178.9,186.9 179.0,186.2 179.1,185.6 179.2,188.0 179.3,183.4 179.4,183.4 179.5,182.2 179.6,186.1 179.7,189.0 179.8,181.5 179.9,186.9 180.0,184.8 180.1,184.2 180.2,183.8 180.3,182.9 180.4,185.1 180.5,184.9 180.6,184.8 180.7,188.0 180.8,189.2 180.9,188.1 180.9,186.1 181.0,186.8 181.1,187.0 181.2,188.0 181.3,188.1 181.4,186.0 181.5,187.3 181.6,185.3 181.7,186.2 181.8,182.9 181.9,184.5 182.0,187.2 182.1,185.6 182.2,182.8 182.3,186.1 182.4,185.8 182.5,182.1 182.6,185.7 182.7,183.9 182.8,185.7 182.9,180.1 183.0,186.9 183.1,181.4 183.2,186.3 183.2,183.5 183.3,185.7 183.4,184.8 183.5,184.9 183.6,184.0 183.7,184.8 183.8,184.1 183.9,188.3 184.0,187.0 184.1,183.7 184.2,186.6 184.3,185.4 184.4,187.9 184.5,184.5 184.6,184.5 184.7,185.5 184.8,186.5 184.9,186.6 185.0,188.7 185.1,182.0 185.2,185.3 185.3,186.2 185.4,185.3 185.5,185.4 185.5,184.6 185.6,184.3 185.7,185.1 185.8,185.6 185.9,187.0 186.0,186.3 186.1,183.4 186.2,186.1 186.3,181.1 186.4,186.5 186.5,181.4 186.6,187.7 186.7,186.6 186.8,184.2 186.9,186.9 187.0,183.0 187.1,186.3 187.2,189.2 187.3,186.1 187.4,184.7 187.5,187.4 187.6,185.1 187.7,183.6 187.8,185.4 187.8,187.2 187.9,184.2 188.0,183.0 188.1,186.4 188.2,183.3 188.3,183.4 188.4,187.3 188.5,187.6 188.6,183.0 188.7,179.2 188.8,181.6 188.9,184.4 189.0,184.8 189.1,180.4 189.2,182.5 189.3,183.2 189.4,183.0 189.5,182.3 189.6,185.2 189.7,181.5 189.8,182.5 189.9,183.2 190.0,182.7 190.1,187.7 190.1,182.8 190.2,180.4 190.3,185.5 190.4,184.1 190.5,185.9 190.6,181.4 190.7,183.0 190.8,184.5 190.9,180.9 191.0,181.6 191.1,179.7 191.2,180.6 191.3,184.6 191.4,183.0 191.5,182.5 191.6,181.5 191.7,184.0 191.8,182.6 191.9,182.4 192.0,179.7 192.1,182.0 192.2,179.1 192.3,181.8 192.4,182.3 192.4,182.4 192.5,180.4 192.6,180.7 192.7,182.0 192.8,181.8 192.9,180.4 193.0,182.3 193.1,183.8 193.2,182.8 193.3,181.5 193.4,181.4 193.5,180.9 193.6,182.7 193.7,184.1 193.8,184.4 193.9,183.4 194.0,183.1 194.1,181.4 194.2,186.5 194.3,182.0 194.4,183.7 194.5,181.8 194.6,182.1 194.7,185.4 194.7,180.4 194.8,178.2 194.9,184.0 195.0,183.0 195.1,186.1 195.2,182.7 195.3,183.1 195.4,188.0 195.5,184.5 195.6,183.3 195.7,184.1 195.8,183.1 195.9,184.0 196.0,184.2 196.1,184.2 196.2,187.0 196.3,186.5 196.4,187.0 196.5,182.0 196.6,186.9 196.7,186.1 196.8,184.5 196.9,186.6 197.0,184.4 197.0,186.4 197.1,185.2 197.2,187.4 197.3,185.6 197.4,183.3 197.5,182.8 197.6,184.2 197.7,186.2 197.8,184.8 197.9,184.8 198.0,188.6 198.1,185.0 198.2,185.2 198.3,185.6 198.4,186.9 198.5,187.5 198.6,185.7 198.7,185.3 198.8,186.7 198.9,184.8 199.0,185.8 199.1,186.4 199.2,185.2 199.3,181.5 199.3,187.9 199.4,185.1 199.5,186.3 199.6,181.3 199.7,185.2 199.8,187.1 199.9,184.8 200.0,186.0 200.1,187.9 200.2,186.3 200.3,186.9 200.4,185.3 200.5,186.7 200.6,183.8 200.7,184.3 200.8,186.2 200.9,185.9 201.0,186.7 201.1,184.4 201.2,188.9 201.3,184.3 201.4,186.4 201.5,187.8 201.6,184.1 201.6,185.4 201.7,186.9 201.8,187.8 201.9,187.1 202.0,184.0 202.1,187.2 202.2,184.9 202.3,185.4 202.4,183.3 202.5,187.5 202.6,186.1 202.7,186.1 202.8,184.8 202.9,186.1 203.0,181.8 203.1,184.0 203.2,188.1 203.3,183.6 203.4,186.9 203.5,186.0 203.6,185.1 203.7,184.8 203.8,185.2 203.9,186.0 203.9,183.0 204.0,185.1 204.1,183.8 204.2,186.1 204.3,184.6 204.4,187.0 204.5,185.5 204.6,181.7 204.7,183.4 204.8,185.5 204.9,188.1 205.0,185.6 205.1,184.3 205.2,188.4 205.3,187.9 205.4,185.5 205.5,185.7 205.6,184.3 205.7,185.5 205.8,186.4 205.9,184.7 206.0,184.7 206.1,182.7 206.2,183.7 206.2,188.6 206.3,182.6 206.4,186.6 206.5,187.3 206.6,181.3 206.7,185.9 206.8,185.7 206.9,184.6 207.0,185.7 207.1,186.4 207.2,184.2 207.3,187.0 207.4,185.2 207.5,185.1 207.6,187.2 207.7,184.2 207.8,184.0 207.9,182.2 208.0,186.4 208.1,185.4 208.2,186.5 208.3,182.8 208.4,182.6 208.5,188.7 208.5,189.5 208.6,185.5 208.7,185.0 208.8,186.4 208.9,186.0 209.0,186.8 209.1,185.6 209.2,183.1 209.3,187.1 209.4,185.9 209.5,187.1 209.6,185.2 209.7,184.4 209.8,186.1 209.9,182.0 210.0,184.9 210.1,185.3 210.2,186.8 210.3,187.5 210.4,184.7 210.5,184.3 210.6,185.2 210.7,184.3 210.8,186.2 210.8,185.1 210.9,185.3 211.0,188.8 211.1,183.6 211.2,184.0 211.3,186.3 211.4,186.6 211.5,185.4 211.6,186.3 211.7,188.1 211.8,186.7 211.9,184.3 212.0,186.6 212.1,188.3 212.2,186.4 212.3,184.1 212.4,187.4 212.5,189.3 212.6,185.8 212.7,185.7 212.8,184.8 212.9,185.9 213.0,186.0 213.1,186.5 213.1,182.7 213.2,185.4 213.3,182.8 213.4,185.5 213.5,187.0 213.6,188.2 213.7,185.5 213.8,185.0 213.9,187.1 214.0,184.5 214.1,185.6 214.2,185.0 214.3,183.9 214.4,184.2 214.5,184.9 214.6,188.3 214.7,186.1 214.8,185.3 214.9,185.8 215.0,187.3 215.1,186.3 215.2,183.4 215.3,185.0 215.4,186.7 215.4,186.7 215.5,185.4 215.6,185.1 215.7,184.6 215.8,185.1 215.9,186.5 216.0,188.2 216.1,186.0 216.2,188.0 216.3,185.9 216.4,183.6 216.5,186.4 216.6,186.3 216.7,184.0 216.8,186.9 216.9,185.9 217.0,186.3 217.1,186.1 217.2,186.2 217.3,185.9 217.4,184.6 217.5,186.9 217.6,181.7 217.7,186.5 217.7,186.2 217.8,186.0 217.9,186.9 218.0,187.3 218.1,185.7 218.2,186.9 218.3,187.8 218.4,183.8 218.5,185.6 218.6,184.9 218.7,185.9 218.8,185.5 218.9,185.9 219.0,186.8 219.1,189.1 219.2,186.7 219.3,184.7 219.4,185.1 219.5,184.6 219.6,186.9 219.7,185.3 219.8,183.7 219.9,182.9 220.0,188.2 220.0,185.7 220.1,185.6 220.2,185.8 220.3,183.4 220.4,187.7 220.5,187.6 220.6,185.9 220.7,185.6 220.8,186.6 220.9,185.1 221.0,186.3 221.1,186.6 221.2,183.1 221.3,186.1 221.4,184.2 221.5,185.4 221.6,187.6 221.7,184.7 221.8,185.3 221.9,183.4 222.0,186.2 222.1,182.9 222.2,185.2 222.3,182.0 222.3,185.2 222.4,187.2 222.5,185.4 222.6,184.2 222.7,183.9 222.8,182.2 222.9,183.0 223.0,183.4 223.1,184.1 223.2,184.8 223.3,184.3 223.4,182.7 223.5,184.2 223.6,181.4 223.7,186.1 223.8,185.7 223.9,185.3 224.0,188.0 224.1,182.6 224.2,183.1 224.3,179.6 224.4,189.0 224.5,184.4 224.6,185.2 224.6,182.5 224.7,184.6 224.8,184.9 224.9,182.2 225.0,184.7 225.1,183.7 225.2,183.7 225.3,182.8 225.4,181.5 225.5,183.7 225.6,184.5 225.7,183.4 225.8,183.7 225.9,182.8 226.0,185.1 226.1,182.5 226.2,185.3 226.3,184.1 226.4,183.0 226.5,186.9 226.6,182.1 226.7,184.5 226.8,186.0 226.9,183.5 226.9,185.5 227.0,183.8 227.1,184.3 227.2,184.6 227.3,185.0 227.4,183.5 227.5,183.0 227.6,183.3 227.7,184.2 227.8,183.6 227.9,188.3 228.0,182.9 228.1,184.1 228.2,187.0 228.3,187.8 228.4,183.6 228.5,185.5 228.6,182.3 228.7,184.9 228.8,182.7 228.9,183.3 229.0,184.4 229.1,184.6 229.2,180.3 229.2,184.8 229.3,184.3 229.4,184.2 229.5,182.5 229.6,182.8 229.7,185.3 229.8,182.3 229.9,182.4 230.0,187.4 230.1,182.7 230.2,184.4 230.3,183.5 230.4,185.5 230.5,186.2 230.6,186.0 230.7,181.4 230.8,181.3 230.9,184.2 231.0,180.7 231.1,185.2 231.2,184.4 231.3,185.6 231.4,181.9 231.5,184.5 231.5,186.1 231.6,183.5 231.7,185.8 231.8,183.0 231.9,186.3 232.0,184.5 232.1,184.9 232.2,188.8 232.3,186.5 232.4,184.8 232.5,189.5 232.6,186.0 232.7,183.1 232.8,182.4 232.9,184.6 233.0,184.4 233.1,182.0 233.2,185.3 233.3,185.5 233.4,186.4 233.5,186.0 233.6,185.8 233.7,184.3 233.8,184.5 233.8,185.1 233.9,186.4 234.0,186.3 234.1,185.2 234.2,183.9 234.3,185.3 234.4,184.0 234.5,186.8 234.6,185.6 234.7,182.5 234.8,184.1 234.9,185.0 235.0,185.1 235.1,185.2 235.2,184.5 235.3,182.4 235.4,184.1 235.5,184.6 235.6,185.5 235.7,183.7 235.8,181.7 235.9,186.2 236.0,185.4 236.1,184.7 236.1,183.7 236.2,182.6 236.3,184.8 236.4,187.7 236.5,184.6 236.6,187.6 236.7,185.4 236.8,185.2 236.9,184.4 237.0,184.8 237.1,184.0 237.2,185.5 237.3,185.3 237.4,184.2 237.5,186.7 237.6,186.8 237.7,185.5 237.8,185.6 237.9,186.1 238.0,182.5 238.1,186.0 238.2,188.0 238.3,182.7 238.4,186.4 238.4,186.3 238.5,187.0 238.6,184.2 238.7,186.7 238.8,188.5 238.9,184.9 239.0,186.3 239.1,187.2 239.2,184.1 239.3,185.9 239.4,185.4 239.5,182.5 239.6,184.2" fill="none" stroke="#111" stroke-width="1.15" stroke-linejoin="round"/>
<polyline points="0.0,448.0 0.4,447.8 0.8,448.3 1.2,448.5 1.5,448.1 1.9,448.2 2.3,448.3 2.7,448.1 3.1,448.2 3.5,448.2 3.8,448.1 4.2,447.9 4.6,448.1 5.0,448.2 5.4,448.0 5.8,448.1 6.1,448.3 6.5,448.4 6.9,447.9 7.3,448.1 7.7,448.7 8.1,448.8 8.4,448.4 8.8,447.7 9.2,447.6 9.6,447.7 10.0,447.9 10.4,447.9 10.7,448.0 11.1,448.1 11.5,448.1 11.9,448.3 12.3,448.3 12.7,448.2 13.0,448.0 13.4,447.9 13.8,448.1 14.2,448.2 14.6,448.0 15.0,448.1 15.3,448.2 15.7,448.1 16.1,448.4 16.5,448.4 16.9,448.4 17.3,448.3 17.6,448.3 18.0,448.2 18.4,448.0 18.8,448.1 19.2,448.2 19.6,448.1 19.9,448.2 20.3,448.1 20.7,447.9 21.1,448.0 21.5,447.7 21.9,447.6 22.2,448.0 22.6,448.2 23.0,448.3 23.4,448.3 23.8,448.0 24.2,448.1 24.5,448.3 24.9,448.2 25.3,448.0 25.7,448.2 26.1,448.4 26.5,448.1 26.8,447.9 27.2,447.7 27.6,447.7 28.0,447.4 28.4,447.2 28.8,446.7 29.1,447.0 29.5,447.4 29.9,447.4 30.3,447.8 30.7,447.5 31.1,447.1 31.4,447.9 31.8,448.4 32.2,448.1 32.6,448.5 33.0,448.5 33.4,448.0 33.7,448.0 34.1,448.4 34.5,448.3 34.9,447.9 35.3,448.1 35.7,448.3 36.0,448.1 36.4,447.8 36.8,448.1 37.2,448.2 37.6,448.0 38.0,448.3 38.3,448.4 38.7,448.4 39.1,448.6 39.5,448.2 39.9,448.1 40.3,448.2 40.6,448.2 41.0,448.0 41.4,447.8 41.8,448.1 42.2,448.2 42.6,448.1 42.9,447.8 43.3,447.8 43.7,448.3 44.1,448.2 44.5,448.2 44.9,448.1 45.2,448.0 45.6,448.3 46.0,448.4 46.4,448.3 46.8,448.0 47.2,447.3 47.5,447.2 47.9,447.6 48.3,447.6 48.7,447.5 49.1,447.3 49.5,446.9 49.8,446.9 50.2,446.6 50.6,445.8 51.0,444.5 51.4,443.7 51.8,443.4 52.1,443.2 52.5,444.1 52.9,445.0 53.3,445.6 53.7,446.7 54.1,447.6 54.4,447.8 54.8,447.7 55.2,447.7 55.6,447.4 56.0,447.7 56.4,448.1 56.7,447.8 57.1,447.5 57.5,447.5 57.9,447.6 58.3,447.5 58.7,447.4 59.0,447.7 59.4,447.8 59.8,447.8 60.2,447.7 60.6,447.3 61.0,447.9 61.3,447.7 61.7,447.0 62.1,446.9 62.5,446.5 62.9,446.7 63.3,446.8 63.6,446.2 64.0,446.1 64.4,446.1 64.8,446.2 65.2,446.6 65.6,446.4 65.9,445.6 66.3,445.0 66.7,444.5 67.1,443.6 67.5,441.9 67.9,440.3 68.2,439.2 68.6,439.1 69.0,440.3 69.4,441.6 69.8,442.6 70.2,443.6 70.5,444.2 70.9,445.1 71.3,445.9 71.7,446.1 72.1,446.3 72.5,446.1 72.8,445.8 73.2,445.7 73.6,445.7 74.0,445.5 74.4,445.3 74.8,445.2 75.1,445.1 75.5,445.8 75.9,445.9 76.3,446.0 76.7,446.2 77.1,445.9 77.4,446.0 77.8,446.1 78.2,445.9 78.6,446.0 79.0,445.2 79.4,444.3 79.7,444.0 80.1,443.5 80.5,442.6 80.9,441.1 81.3,440.3 81.7,440.4 82.0,440.5 82.4,440.4 82.8,440.5 83.2,439.9 83.6,439.0 84.0,438.5 84.3,438.7 84.7,439.3 85.1,439.9 85.5,441.4 85.9,442.5 86.3,442.7 86.6,443.3 87.0,443.6 87.4,443.2 87.8,442.8 88.2,442.2 88.6,440.2 88.9,435.8 89.3,427.8 89.7,415.2 90.1,401.1 90.5,395.5 90.9,404.7 91.2,419.1 91.6,430.1 92.0,437.3 92.4,440.8 92.8,442.1 93.2,443.1 93.5,443.1 93.9,442.5 94.3,441.3 94.7,440.5 95.1,439.4 95.5,438.6 95.8,439.8 96.2,441.4 96.6,442.8 97.0,443.5 97.4,443.8 97.8,443.9 98.1,444.2 98.5,444.4 98.9,444.3 99.3,444.5 99.7,443.9 100.1,443.5 100.4,443.3 100.8,442.8 101.2,441.9 101.6,439.8 102.0,437.2 102.4,433.9 102.7,430.6 103.1,428.8 103.5,428.9 103.9,430.8 104.3,434.1 104.7,437.5 105.0,440.2 105.4,441.8 105.8,442.7 106.2,443.7 106.6,444.1 107.0,444.1 107.3,444.6 107.7,444.5 108.1,443.8 108.5,443.3 108.9,442.1 109.3,440.9 109.6,439.9 110.0,439.1 110.4,439.1 110.8,440.6 111.2,442.3 111.6,443.2 111.9,443.8 112.3,444.3 112.7,444.4 113.1,444.3 113.5,444.1 113.9,443.5 114.2,442.7 114.6,441.7 115.0,441.3 115.4,441.7 115.8,442.8 116.2,444.0 116.5,444.9 116.9,445.3 117.3,445.2 117.7,445.4 118.1,445.7 118.5,446.1 118.8,445.7 119.2,445.5 119.6,445.5 120.0,445.1 120.4,444.8 120.8,443.6 121.1,442.0 121.5,439.2 121.9,435.1 122.3,429.9 122.7,425.2 123.1,424.5 123.4,428.6 123.8,433.6 124.2,438.3 124.6,441.9 125.0,443.9 125.4,445.2 125.7,445.3 126.1,445.5 126.5,446.0 126.9,445.9 127.3,445.2 127.7,445.0 128.0,444.6 128.4,444.2 128.8,444.5 129.2,444.8 129.6,444.7 130.0,445.6 130.3,445.9 130.7,445.5 131.1,445.9 131.5,445.8 131.9,445.5 132.3,445.5 132.6,444.9 133.0,443.8 133.4,442.1 133.8,439.7 134.2,438.7 134.6,439.9 134.9,441.8 135.3,443.6 135.7,444.5 136.1,444.3 136.5,443.6 136.9,443.4 137.2,443.4 137.6,443.6 138.0,443.5 138.4,443.4 138.8,443.2 139.2,443.1 139.5,443.5 139.9,443.3 140.3,443.0 140.7,442.9 141.1,442.9 141.5,442.4 141.8,442.2 142.2,442.9 142.6,443.0 143.0,443.2 143.4,443.3 143.8,442.8 144.1,443.0 144.5,443.4 144.9,443.8 145.3,443.6 145.7,443.7 146.1,443.7 146.4,443.9 146.8,444.3 147.2,444.2 147.6,444.3 148.0,444.7 148.4,444.8 148.7,444.8 149.1,445.1 149.5,445.3 149.9,445.4 150.3,445.5 150.7,445.6 151.0,445.7 151.4,445.7 151.8,446.1 152.2,446.6 152.6,446.6 153.0,446.4 153.3,446.3 153.7,446.4 154.1,446.4 154.5,445.9 154.9,446.0 155.3,445.7 155.6,445.0 156.0,445.1 156.4,445.8 156.8,446.2 157.2,446.3 157.6,446.3 157.9,446.9 158.3,446.4 158.7,445.6 159.1,445.6 159.5,445.0 159.9,444.6 160.2,444.9 160.6,445.2 161.0,445.2 161.4,445.4 161.8,445.8 162.2,445.9 162.5,445.7 162.9,445.9 163.3,445.9 163.7,445.2 164.1,444.1 164.5,443.3 164.8,442.5 165.2,441.7 165.6,441.7 166.0,442.4 166.4,443.4 166.8,444.1 167.1,444.7 167.5,445.8 167.9,446.2 168.3,446.2 168.7,446.5 169.1,446.4 169.4,446.0 169.8,446.2 170.2,446.2 170.6,446.4 171.0,446.2 171.4,446.0 171.7,445.7 172.1,445.3 172.5,444.8 172.9,443.5 173.3,441.5 173.7,439.4 174.0,437.7 174.4,436.7 174.8,437.6 175.2,439.5 175.6,441.6 176.0,443.6 176.3,444.6 176.7,445.3 177.1,445.4 177.5,445.7 177.9,446.4 178.3,446.2 178.6,446.1 179.0,446.6 179.4,446.5 179.8,446.1 180.2,446.2 180.6,446.0 180.9,445.6 181.3,445.9 181.7,445.8 182.1,445.7 182.5,445.4 182.9,444.6 183.2,443.8 183.6,443.3 184.0,443.1 184.4,443.3 184.8,444.0 185.2,444.6 185.5,444.9 185.9,445.4 186.3,445.4 186.7,445.1 187.1,444.2 187.5,443.0 187.8,441.8 188.2,439.1 188.6,436.3 189.0,433.9 189.4,433.3 189.8,435.0 190.1,437.7 190.5,440.6 190.9,443.0 191.3,444.8 191.7,445.4 192.1,445.7 192.4,446.1 192.8,446.7 193.2,446.8 193.6,446.9 194.0,447.2 194.4,447.0 194.7,447.1 195.1,447.3 195.5,447.3 195.9,447.4 196.3,447.5 196.7,447.4 197.0,447.1 197.4,447.0 197.8,447.1 198.2,447.0 198.6,446.8 199.0,446.8 199.3,446.7 199.7,446.8 200.1,447.2 200.5,447.5 200.9,447.6 201.3,447.7 201.6,448.0 202.0,448.0 202.4,448.0 202.8,448.2 203.2,448.2 203.6,448.1 203.9,448.1 204.3,448.0 204.7,447.8 205.1,447.4 205.5,447.5 205.9,447.3 206.2,446.8 206.6,446.8 207.0,446.8 207.4,446.8 207.8,446.7 208.2,446.7 208.5,447.0 208.9,447.1 209.3,447.0 209.7,447.0 210.1,447.2 210.5,447.6 210.8,447.7 211.2,447.5 211.6,447.5 212.0,447.4 212.4,447.1 212.8,447.0 213.1,446.9 213.5,446.7 213.9,446.6 214.3,446.6 214.7,446.8 215.1,446.9 215.4,447.2 215.8,447.7 216.2,447.8 216.6,447.8 217.0,447.6 217.4,447.3 217.7,447.5 218.1,447.5 218.5,447.8 218.9,447.9 219.3,447.7 219.7,448.0 220.0,447.9 220.4,447.7 220.8,448.0 221.2,447.6 221.6,447.3 222.0,447.5 222.3,447.1 222.7,447.2 223.1,447.6 223.5,447.1 223.9,446.6 224.3,447.0 224.6,447.4 225.0,447.7 225.4,447.6 225.8,447.6 226.2,448.5 226.6,448.5 226.9,448.0 227.3,448.2 227.7,448.1 228.1,447.8 228.5,448.1 228.9,448.2 229.2,448.2 229.6,448.0 230.0,447.7 230.4,448.0 230.8,448.1 231.2,448.0 231.5,447.9 231.9,447.8 232.3,447.6 232.7,447.0 233.1,447.1 233.5,447.2 233.8,447.1 234.2,447.3 234.6,447.2 235.0,446.9 235.4,446.9 235.8,447.2 236.1,447.5 236.5,447.3 236.9,447.2 237.3,447.4 237.7,447.8 238.1,447.8 238.4,448.0 238.8,448.2 239.2,448.0 239.6,448.1" fill="none" stroke="#000" stroke-width="1.08" stroke-linejoin="round"/>
<line x1="16.8" y1="260.1" x2="239.6" y2="260.1" stroke="#111" stroke-width="1.3"/>
<path d="M42.1 260.1V250.3M47.1 260.1V257.1M81.1 260.1V233.3M84.1 260.1V195.1M96.1 260.1V250.3M103.1 260.1V255.1M135.1 260.1V253.8M138.1 260.1V250.3M140.1 260.1V257.6M146.1 260.1V252.1M152.1 260.1V256.1M158.1 260.1V255.1M160.1 260.1V257.1M167.1 260.1V251.1M168.1 260.1V252.1M173.1 260.1V257.6M188.1 260.1V255.1M197.1 260.1V259.1M202.1 260.1V252.1M206.1 260.1V256.1M209.1 260.1V258.1M212.1 260.1V257.1M217.1 260.1V255.1M218.1 260.1V254.1M225.1 260.1V256.1M226.1 260.1V256.1M229.1 260.1V255.6M231.1 260.1V257.1M234.1 260.1V257.1M238.1 260.1V258.1" stroke="#262626" stroke-width="1" fill="none"/>
<path d="M109.6 260.1V237.1" stroke="#2a2a2a" stroke-width="1.1" fill="none"/>
<line x1="29.7" y1="325.1" x2="239.6" y2="325.1" stroke="#111" stroke-width="1.3"/>
<path d="M39.1 325.1V322.1M52.1 325.1V324.1M63.1 325.1V321.1M78.1 325.1V320.6M84.1 325.1V318.6M92.1 325.1V316.1M101.1 325.1V308.1M106.1 325.1V273.1M108.1 325.1V271.1M109.1 325.1V304.1M110.1 325.1V304.1M121.1 325.1V316.1M124.1 325.1V324.1M129.1 325.1V320.1M131.1 325.1V314.1M138.1 325.1V323.1M141.1 325.1V306.7M150.1 325.1V312.6M152.1 325.1V314.1M155.1 325.1V320.1M159.1 325.1V320.1M160.1 325.1V322.1M165.1 325.1V317.1M166.1 325.1V317.1M167.1 325.1V316.1M171.1 325.1V306.7M182.1 325.1V315.6M194.1 325.1V318.1M200.1 325.1V322.1M202.1 325.1V323.6M206.1 325.1V320.1M209.1 325.1V315.6M211.1 325.1V321.1M212.1 325.1V322.1M217.1 325.1V323.6M222.1 325.1V313.6M223.1 325.1V319.1M225.1 325.1V319.1M226.1 325.1V320.1M227.1 325.1V316.6M230.1 325.1V321.1M231.1 325.1V320.1M233.1 325.1V316.1M237.1 325.1V321.1M237.1 325.1V321.1M238.1 325.1V321.1" stroke="#262626" stroke-width="1" fill="none"/>
<path d="M43.6 325.1V319.1M64.6 325.1V322.1M86.6 325.1V320.6M103.6 325.1V315.1M105.6 325.1V263.1M116.6 325.1V285.4M127.6 325.1V315.1M149.6 325.1V293.7M163.6 325.1V315.1M179.6 325.1V319.6M180.6 325.1V319.6M188.6 325.1V321.6M195.6 325.1V318.1" stroke="#2a2a2a" stroke-width="1.1" fill="none"/>
<line x1="5.8" y1="390.0" x2="239.6" y2="390.0" stroke="#111" stroke-width="1.3"/>
<path d="M7.1 390.0V385.0M12.1 390.0V389.0M63.1 390.0V382.1M73.1 390.0V380.2M84.1 390.0V388.0M85.1 390.0V388.0M90.1 390.0V379.0M105.1 390.0V385.5M120.1 390.0V389.0M121.1 390.0V388.0M135.1 390.0V386.5M136.1 390.0V386.5M139.1 390.0V383.5M141.1 390.0V388.0M148.1 390.0V387.0M150.1 390.0V381.0M152.1 390.0V388.5M166.1 390.0V386.0M170.1 390.0V386.5M175.1 390.0V389.0M178.1 390.0V389.0M182.1 390.0V387.0M185.1 390.0V388.0M187.1 390.0V388.0M190.1 390.0V375.5M192.1 390.0V388.0M195.1 390.0V386.0M196.1 390.0V386.0M201.1 390.0V387.0M205.1 390.0V386.5M206.1 390.0V386.5M207.1 390.0V386.5M216.1 390.0V389.0M223.1 390.0V388.5M227.1 390.0V386.0M232.1 390.0V388.5M234.1 390.0V388.5M237.1 390.0V388.5" stroke="#262626" stroke-width="1" fill="none"/>
<path d="M80.6 390.0V376.0M95.6 390.0V328.0M109.6 390.0V385.5M125.6 390.0V384.2" stroke="#2a2a2a" stroke-width="1.1" fill="none"/>
<line x1="0.0" y1="519.0" x2="239.6" y2="519.0" stroke="#111" stroke-width="1.3"/>
<path d="M2.1 519.0V516.2M40.1 519.0V516.0M52.1 519.0V503.2M61.1 519.0V517.5M74.1 519.0V507.0M91.1 519.0V454.4M115.1 519.0V510.0M136.1 519.0V508.6M143.1 519.0V511.1M165.1 519.0V504.7M175.1 519.0V499.3M186.1 519.0V517.5M189.1 519.0V506.0M192.1 519.0V517.0M198.1 519.0V516.0M201.1 519.0V513.5M208.1 519.0V508.3M213.1 519.0V515.0M218.1 519.0V515.5M222.1 519.0V515.0M228.1 519.0V515.0M233.1 519.0V515.0" stroke="#262626" stroke-width="1" fill="none"/>
<path d="M12.6 519.0V495.7M69.6 519.0V496.2M83.6 519.0V486.5M103.6 519.0V486.5M110.6 519.0V495.7M123.6 519.0V505.0M124.6 519.0V505.0" stroke="#2a2a2a" stroke-width="1.1" fill="none"/>
<path d="M93.1 583.5V522.0M102.1 583.5V582.5M124.1 583.5V574.8M141.1 583.5V572.8M159.1 583.5V574.5M178.1 583.5V579.5M179.1 583.5V572.0M184.1 583.5V572.0M223.1 583.5V582.0M227.1 583.5V578.3" stroke="#262626" stroke-width="1" fill="none"/>
<path d="M62.6 583.5V578.0" stroke="#2a2a2a" stroke-width="1.1" fill="none"/>
<path d="M0 590.6V0.1H239.7V590.6" fill="none" stroke="#111" stroke-width="1.45"/>
<line x1="0" y1="583.5" x2="239.6" y2="583.5" stroke="#111" stroke-width="1.4"/>
<path d="M47.9 583.5v7.1M95.8 583.5v7.1M143.8 583.5v7.1M191.7 583.5v7.1" stroke="#111" stroke-width="1.2" fill="none"/>
<text x="0.0" y="611.8" text-anchor="middle" font-size="17.3">10</text>
<text x="47.9" y="611.8" text-anchor="middle" font-size="17.3">20</text>
<text x="95.8" y="611.8" text-anchor="middle" font-size="17.3">30</text>
<text x="143.8" y="611.8" text-anchor="middle" font-size="17.3">40</text>
<text x="191.7" y="611.8" text-anchor="middle" font-size="17.3">50</text>
<text x="239.6" y="611.8" text-anchor="middle" font-size="17.3">60</text>
<text x="5.2" y="19.8" font-size="22.2">(c)</text>
<text x="236.9" y="19.9" text-anchor="end" font-size="18.4">3-1</text>
<text x="236.9" y="84.9" text-anchor="end" font-size="18.4">3-2</text>
<text x="236.9" y="149.9" text-anchor="end" font-size="18.4">3-3</text>
<text x="237.0" y="217.8" text-anchor="end" font-size="18.4">CsAlSiO<tspan dy="2.6" font-size="10.8" stroke-width="0.2">4</tspan></text>
<text x="237.0" y="282.2" text-anchor="end" font-size="18.4">Ca<tspan dy="2.6" font-size="10.8" stroke-width="0.2">2</tspan><tspan dy="-2.6">SiO</tspan><tspan dy="2.6" font-size="10.8" stroke-width="0.2">4</tspan></text>
<text x="237.0" y="347.3" text-anchor="end" font-size="18.4">CaSiO<tspan dy="2.6" font-size="10.8" stroke-width="0.2">3</tspan></text>
<text x="237.0" y="404.5" text-anchor="end" font-size="18.4"><tspan letter-spacing="-0.62">therma</tspan><tspan letter-spacing="1.5">l</tspan><tspan letter-spacing="-0.22"> insulation</tspan></text>
<text x="237.0" y="424.6" text-anchor="end" font-size="18.4">as received</text>
<text x="236.6" y="466.3" text-anchor="end" font-size="18.4" letter-spacing="-0.40">xonotlite</text>
<text x="236.6" y="486.8" text-anchor="end" font-size="18.4">Ca<tspan dy="2.6" font-size="10.8" stroke-width="0.2">6</tspan><tspan dy="-2.6">Si</tspan><tspan dy="2.6" font-size="10.8" stroke-width="0.2">6</tspan><tspan dy="-2.6">O</tspan><tspan dy="2.6" font-size="10.8" stroke-width="0.2">17</tspan><tspan dy="-2.6">(OH)</tspan><tspan dy="2.6" font-size="10.8" stroke-width="0.2">2</tspan></text>
<text x="237.0" y="534.3" text-anchor="end" font-size="18.4">calcite</text>
<text x="237.0" y="554.3" text-anchor="end" font-size="18.4">CaCO<tspan dy="2.6" font-size="10.8" stroke-width="0.2">3</tspan></text>
</g>
<text transform="translate(18.8,294) rotate(-90)" text-anchor="middle" font-size="25.4" letter-spacing="0.5">Intensity (arb. unit)</text>
<text x="423.4" y="636.7" text-anchor="middle" font-size="22" font-style="italic">2θ</text>
</svg>
</body>
</html>
